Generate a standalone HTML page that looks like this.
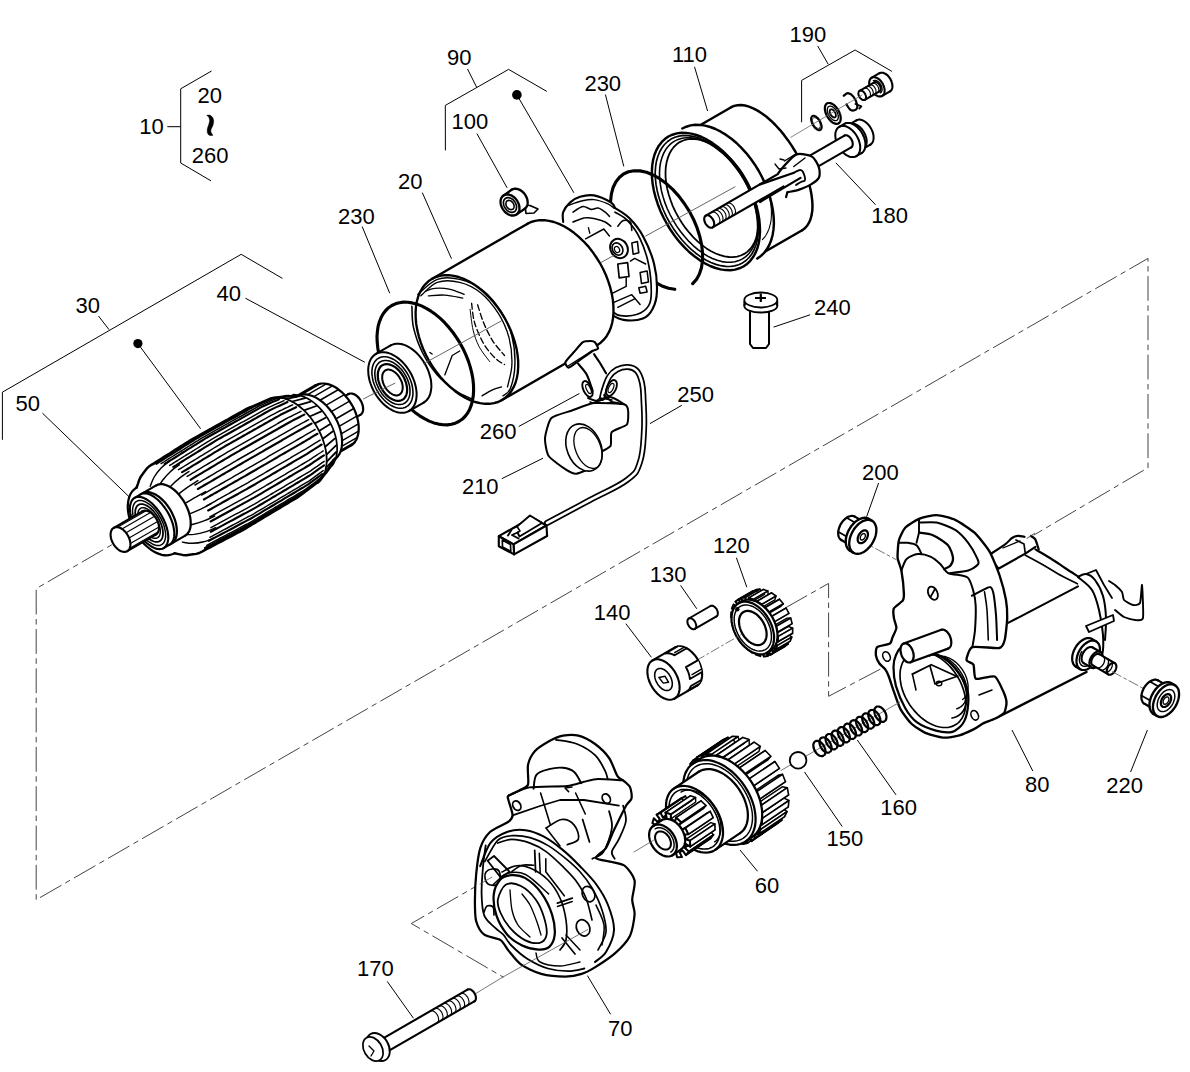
<!DOCTYPE html>
<html><head><meta charset="utf-8"><style>
html,body{margin:0;padding:0;background:#fff;width:1190px;height:1072px;overflow:hidden}
svg{position:absolute;left:0;top:0}
text{font-family:"Liberation Sans",sans-serif;font-size:22px;fill:#000}
</style></head><body>
<svg width="1190" height="1072" viewBox="0 0 1190 1072">
<rect width="1190" height="1072" fill="#fff"/>
<text x="139.2" y="133.7">10</text>
<text x="197.6" y="102.7">20</text>
<text x="191.8" y="163">260</text>
<text x="447" y="65.3">90</text>
<text x="451.6" y="129.1">100</text>
<text x="584.4" y="90.8">230</text>
<text x="789.6" y="41.7">190</text>
<text x="672" y="62.4">110</text>
<text x="871.3" y="223.4">180</text>
<text x="814" y="315.3">240</text>
<text x="677.2" y="401.8">250</text>
<text x="479.8" y="439.4">260</text>
<text x="461.9" y="494">210</text>
<text x="862" y="479.6">200</text>
<text x="713" y="552.5">120</text>
<text x="649.7" y="582">130</text>
<text x="593.7" y="619.7">140</text>
<text x="1024.9" y="792.2">80</text>
<text x="1106.2" y="792.9">220</text>
<text x="880.3" y="814.7">160</text>
<text x="826.5" y="846">150</text>
<text x="754.8" y="893.3">60</text>
<text x="357.1" y="976.4">170</text>
<text x="607.9" y="1035.5">70</text>
<text x="75.5" y="313.1">30</text>
<text x="15.5" y="410.7">50</text>
<text x="216.5" y="300.6">40</text>
<text x="398.1" y="188.7">20</text>
<text x="338" y="224">230</text>
<path d="M211.2,71.2 L180.7,88.8 L180.7,163 L210.6,180.6" stroke="#000" stroke-width="1" fill="none" stroke-linejoin="round" stroke-linecap="round" />
<line x1="167.3" y1="126.7" x2="180.7" y2="126.7" stroke="#000" stroke-width="1" />
<path d="M445.4,150 L445.3,105.4 L508.6,69.4 L546.5,91.2" stroke="#000" stroke-width="1" fill="none" stroke-linejoin="round" stroke-linecap="round" />
<line x1="467.5" y1="69" x2="476.8" y2="87.5" stroke="#000" stroke-width="1" />
<path d="M801.6,121.9 L801.6,80.4 L855.1,50 L891.6,71.2" stroke="#000" stroke-width="1" fill="none" stroke-linejoin="round" stroke-linecap="round" />
<line x1="817.7" y1="46" x2="828.2" y2="64.2" stroke="#000" stroke-width="1" />
<path d="M2.4,439.4 L2.4,392.2 L241.2,254.3 L282.1,278.2" stroke="#000" stroke-width="1" fill="none" stroke-linejoin="round" stroke-linecap="round" />
<line x1="98.5" y1="316" x2="109" y2="329.6" stroke="#000" stroke-width="1" />
<circle cx="137.9" cy="343.6" r="4.6" fill="#000"/>
<circle cx="516.9" cy="94.9" r="4.8" fill="#000"/>
<line x1="137.9" y1="343.6" x2="200.6" y2="428.7" stroke="#000" stroke-width="1" />
<line x1="516.9" y1="94.9" x2="573.9" y2="192.8" stroke="#000" stroke-width="1" />
<path d="M207.1,115.3 C207.2,115 209.4,115 210.2,115.3 C211,115.6 212.3,117 212.8,117.8 C213.3,118.6 213.7,120.2 213.7,121.3 C213.7,122.4 213.1,124.8 212.8,125.8 C212.5,126.8 211.5,128.1 211.2,128.9 C210.9,129.7 210.7,131.2 210.9,132.1 C211.1,133 213,134.9 212.8,135.3 C212.6,135.7 210,135.6 209.3,135.3 C208.6,135 207.7,133.6 207.4,132.7 C207.1,131.8 207.2,129.6 207.4,128.6 C207.6,127.6 208.3,126.2 208.6,125.1 C208.9,124 209.6,121.7 209.6,120.7 C209.6,119.7 209.3,118.2 208.9,117.5 C208.6,116.8 206.9,115.6 207.1,115.3 Z" stroke="#000" stroke-width="0.5" fill="#000" stroke-linejoin="round" stroke-linecap="round" />
<line x1="476.9" y1="133.6" x2="507.1" y2="187.8" stroke="#000" stroke-width="1" />
<line x1="605.4" y1="94.5" x2="623.8" y2="166.4" stroke="#000" stroke-width="1" />
<line x1="694.5" y1="66.8" x2="707.6" y2="111" stroke="#000" stroke-width="1" />
<line x1="875.6" y1="204.8" x2="835.9" y2="162.9" stroke="#000" stroke-width="1" />
<line x1="810.1" y1="314.8" x2="773.6" y2="327.1" stroke="#000" stroke-width="1" />
<line x1="681.8" y1="405.3" x2="650" y2="423.6" stroke="#000" stroke-width="1" />
<line x1="518.7" y1="426.5" x2="579.4" y2="393.5" stroke="#000" stroke-width="1" />
<line x1="501.8" y1="478.7" x2="543" y2="458.2" stroke="#000" stroke-width="1" />
<line x1="878.6" y1="483" x2="866.6" y2="516.8" stroke="#000" stroke-width="1" />
<line x1="736.4" y1="557.7" x2="746.8" y2="587.2" stroke="#000" stroke-width="1" />
<line x1="680.6" y1="585.4" x2="696.8" y2="608.8" stroke="#000" stroke-width="1" />
<line x1="1032.8" y1="771" x2="1012" y2="730" stroke="#000" stroke-width="1" />
<line x1="1130.6" y1="772" x2="1147.4" y2="730" stroke="#000" stroke-width="1" />
<line x1="896" y1="794.9" x2="857.3" y2="740" stroke="#000" stroke-width="1" />
<line x1="842.2" y1="826.5" x2="804.5" y2="772" stroke="#000" stroke-width="1" />
<line x1="757.5" y1="871.3" x2="740" y2="850" stroke="#000" stroke-width="1" />
<line x1="387.2" y1="981.4" x2="413.4" y2="1018.2" stroke="#000" stroke-width="1" />
<line x1="610.6" y1="1014.3" x2="587.4" y2="975.6" stroke="#000" stroke-width="1" />
<line x1="42.4" y1="413.1" x2="129" y2="496.7" stroke="#000" stroke-width="1" />
<line x1="245.4" y1="298.2" x2="364.9" y2="362.3" stroke="#000" stroke-width="1" />
<line x1="422.3" y1="192.6" x2="451.5" y2="258.7" stroke="#000" stroke-width="1" />
<line x1="362.2" y1="226.6" x2="389.7" y2="293.2" stroke="#000" stroke-width="1" />
<line x1="625.9" y1="623.7" x2="651.4" y2="657.3" stroke="#000" stroke-width="1" />
<path d="M120,540 L36.2,588.6 L36.2,899.8 L1148,258.4 L1148,467.7 L1034,535" stroke="#444" stroke-width="1.0" fill="none" stroke-linejoin="round" stroke-linecap="round" stroke-dasharray="24 5.3 4.7 5.3" stroke-dashoffset="19.5"/>
<path d="M785.9,607.6 L828.6,583.4 L828.6,696.3 L880,669.3" stroke="#444" stroke-width="1.0" fill="none" stroke-linejoin="round" stroke-linecap="round" stroke-dasharray="24 5.3 4.7 5.3" stroke-dashoffset="0"/>
<path d="M492,877.1 L411.3,923.5 L503,977" stroke="#444" stroke-width="1.0" fill="none" stroke-linejoin="round" stroke-linecap="round" stroke-dasharray="24 5.3 4.7 5.3" stroke-dashoffset="0"/>
<path d="M685.3,133.7 L682.6,135.7 L680.3,138.2 L678.4,141.2 L676.9,144.8 L675.9,148.9 L675.2,153.4 L675,158.3 L675.3,163.6 L675.9,169.1 L677,174.9 L678.6,181 L680.5,187.1 L682.8,193.3 L685.5,199.6 L688.5,205.8 L691.9,211.9 L695.5,217.9 L699.4,223.6 L703.4,229 L707.7,234.2 L712,238.9 L716.5,243.3 L721,247.1 L725.5,250.5 L729.9,253.3 L734.3,255.6 L738.5,257.3 L742.5,258.4 L746.4,258.9 L750,258.8 L753.3,258.1 L756.3,256.7 L802.2,230.2 L804.9,228.3 L807.1,225.8 L809,222.7 L810.5,219.2 L811.6,215.1 L812.3,210.6 L812.5,205.7 L812.2,200.4 L811.5,194.8 L810.4,189 L808.9,183 L807,176.8 L804.6,170.6 L802,164.4 L798.9,158.2 L795.6,152 L792,146.1 L788.1,140.4 L784,134.9 L779.8,129.8 L775.4,125 L771,120.7 L766.5,116.8 L762,113.5 L757.6,110.6 L753.2,108.3 L749,106.6 L745,105.5 L741.1,105 L737.5,105.2 L734.2,105.9 L731.2,107.2 Z" stroke="none" stroke-width="0.01" fill="#fff" stroke-linejoin="round" stroke-linecap="round" />
<path d="M756.3,256.7 L759,254.8 L761.2,252.3 L763.1,249.2 L764.6,245.7 L765.7,241.6 L766.4,237.1 L766.6,232.2 L766.3,226.9 L765.6,221.3 L764.5,215.5 L763,209.5 L761.1,203.3 L758.7,197.1 L756.1,190.9 L753,184.7 L749.7,178.5 L746.1,172.6 L742.2,166.9 L738.1,161.4 L733.9,156.3 L729.5,151.5 L725.1,147.2 L720.6,143.3 L716.1,140 L711.7,137.1 L707.3,134.8 L703.1,133.1 L699.1,132 L695.2,131.5 L691.6,131.7 L688.3,132.4 L685.3,133.7 L682.6,135.7 L680.3,138.2 L678.4,141.2 L676.9,144.8 L675.9,148.9 L675.2,153.4 L675,158.3 L675.3,163.6 L675.9,169.1 L677,174.9 L678.6,181 L680.5,187.1 L682.8,193.3 L685.5,199.6 L688.5,205.8 L691.9,211.9 L695.5,217.9 L699.4,223.6 L703.4,229 L707.7,234.2 L712,238.9 L716.5,243.3 L721,247.1 L725.5,250.5 L729.9,253.3 L734.3,255.6 L738.5,257.3 L742.5,258.4 L746.4,258.9 L750,258.8 L753.3,258.1 L756.3,256.7 Z" stroke="#000" stroke-width="2.4640000000000004" fill="none" stroke-linejoin="round" stroke-linecap="round" />
<path d="M802.2,230.2 L804.9,228.3 L807.1,225.8 L809,222.7 L810.5,219.2 L811.6,215.1 L812.3,210.6 L812.5,205.7 L812.2,200.4 L811.5,194.8 L810.4,189 L808.9,183 L807,176.8 L804.6,170.6 L802,164.4 L798.9,158.2 L795.6,152 L792,146.1 L788.1,140.4 L784,134.9 L779.8,129.8 L775.4,125 L771,120.7 L766.5,116.8 L762,113.5 L757.6,110.6 L753.2,108.3 L749,106.6 L745,105.5 L741.1,105 L737.5,105.2 L734.2,105.9 L731.2,107.2" stroke="#000" stroke-width="2.4640000000000004" fill="none" stroke-linejoin="round" stroke-linecap="round" />
<path d="M685.3,133.7 L731.2,107.2" stroke="#000" stroke-width="2.4640000000000004" fill="none" stroke-linejoin="round" stroke-linecap="round" />
<path d="M756.3,256.7 L802.2,230.2" stroke="#000" stroke-width="2.4640000000000004" fill="none" stroke-linejoin="round" stroke-linecap="round" />
<path d="M668.4,136.5 L664.8,139.1 L661.6,142.2 L658.7,145.9 L656.4,150.1 L654.5,154.8 L653.1,160 L652.2,165.6 L651.9,171.5 L652,177.7 L652.7,184.1 L653.9,190.7 L655.6,197.4 L657.8,204.2 L660.4,210.9 L663.5,217.5 L667,224 L670.8,230.3 L675,236.2 L679.5,241.9 L684.3,247.1 L689.2,252 L694.4,256.3 L699.6,260.1 L704.9,263.3 L710.2,266 L715.5,268 L720.6,269.4 L725.7,270.1 L730.5,270.2 L735.1,269.6 L739.4,268.3 L743.4,266.5 L757.3,258.5 L760.9,255.9 L764.2,252.8 L767,249.1 L769.3,244.9 L771.2,240.2 L772.6,235 L773.5,229.4 L773.9,223.5 L773.7,217.3 L773,210.9 L771.8,204.3 L770.1,197.6 L768,190.8 L765.3,184.1 L762.2,177.5 L758.8,171 L754.9,164.7 L750.7,158.8 L746.2,153.1 L741.4,147.9 L736.5,143 L731.4,138.7 L726.1,134.9 L720.8,131.7 L715.5,129 L710.3,127 L705.1,125.6 L700.1,124.9 L695.2,124.8 L690.6,125.4 L686.3,126.7 L682.3,128.5 Z" stroke="none" stroke-width="0.01" fill="#fff" stroke-linejoin="round" stroke-linecap="round" />
<path d="M743.4,266.5 L747.1,263.9 L750.3,260.8 L753.1,257.1 L755.5,252.9 L757.4,248.2 L758.8,243 L759.6,237.4 L760,231.5 L759.8,225.3 L759.2,218.9 L758,212.3 L756.3,205.6 L754.1,198.8 L751.5,192.1 L748.4,185.5 L744.9,179 L741,172.7 L736.8,166.8 L732.3,161.1 L727.6,155.9 L722.6,151 L717.5,146.7 L712.3,142.9 L707,139.7 L701.7,137 L696.4,135 L691.2,133.6 L686.2,132.9 L681.4,132.8 L676.8,133.4 L672.4,134.7 L668.4,136.5 L664.8,139.1 L661.6,142.2 L658.7,145.9 L656.4,150.1 L654.5,154.8 L653.1,160 L652.2,165.6 L651.9,171.5 L652,177.7 L652.7,184.1 L653.9,190.7 L655.6,197.4 L657.8,204.2 L660.4,210.9 L663.5,217.5 L667,224 L670.8,230.3 L675,236.2 L679.5,241.9 L684.3,247.1 L689.2,252 L694.4,256.3 L699.6,260.1 L704.9,263.3 L710.2,266 L715.5,268 L720.6,269.4 L725.7,270.1 L730.5,270.2 L735.1,269.6 L739.4,268.3 L743.4,266.5 Z" stroke="#000" stroke-width="2.4640000000000004" fill="none" stroke-linejoin="round" stroke-linecap="round" />
<path d="M757.3,258.5 L760.9,255.9 L764.2,252.8 L767,249.1 L769.3,244.9 L771.2,240.2 L772.6,235 L773.5,229.4 L773.9,223.5 L773.7,217.3 L773,210.9 L771.8,204.3 L770.1,197.6 L768,190.8 L765.3,184.1 L762.2,177.5 L758.8,171 L754.9,164.7 L750.7,158.8 L746.2,153.1 L741.4,147.9 L736.5,143 L731.4,138.7 L726.1,134.9 L720.8,131.7 L715.5,129 L710.3,127 L705.1,125.6 L700.1,124.9 L695.2,124.8 L690.6,125.4 L686.3,126.7 L682.3,128.5" stroke="#000" stroke-width="2.4640000000000004" fill="none" stroke-linejoin="round" stroke-linecap="round" />
<path d="M742.5,262.9 L746,260.5 L749.1,257.5 L751.8,254 L754,250 L755.8,245.5 L757.2,240.6 L758,235.3 L758.3,229.6 L758.2,223.7 L757.6,217.6 L756.4,211.3 L754.8,204.9 L752.7,198.4 L750.2,192 L747.3,185.7 L744,179.6 L740.3,173.6 L736.3,167.9 L732,162.5 L727.4,157.5 L722.7,152.9 L717.8,148.8 L712.8,145.1 L707.8,142 L702.7,139.5 L697.7,137.6 L692.8,136.3 L688,135.6 L683.4,135.5 L679,136.1 L674.9,137.3 L671,139.1 L667.6,141.5 L664.5,144.5 L661.8,148 L659.6,152 L657.8,156.5 L656.4,161.4 L655.6,166.7 L655.2,172.4 L655.4,178.3 L656,184.4 L657.2,190.7 L658.8,197.1 L660.9,203.6 L663.4,210 L666.3,216.3 L669.6,222.5 L673.3,228.4 L677.3,234.1 L681.6,239.5 L686.2,244.5 L690.9,249.1 L695.8,253.2 L700.8,256.9 L705.8,260 L710.9,262.5 L715.9,264.4 L720.8,265.7 L725.6,266.4 L730.2,266.5 L734.6,265.9 L738.7,264.7 L742.5,262.9 Z" stroke="#000" stroke-width="1.6800000000000002" fill="none" stroke-linejoin="round" stroke-linecap="round" />
<path d="M742.5,258.9 L745.8,256.6 L748.8,253.8 L751.3,250.4 L753.5,246.6 L755.2,242.3 L756.4,237.6 L757.2,232.6 L757.6,227.2 L757.4,221.6 L756.8,215.8 L755.7,209.8 L754.2,203.7 L752.2,197.6 L749.8,191.5 L747,185.5 L743.9,179.6 L740.4,173.9 L736.6,168.5 L732.5,163.4 L728.2,158.6 L723.7,154.2 L719,150.3 L714.3,146.9 L709.5,143.9 L704.7,141.5 L699.9,139.7 L695.2,138.4 L690.6,137.8 L686.3,137.7 L682.1,138.3 L678.2,139.4 L674.5,141.1 L671.2,143.4 L668.3,146.2 L665.7,149.6 L663.6,153.4 L661.9,157.7 L660.6,162.4 L659.8,167.4 L659.5,172.8 L659.6,178.4 L660.3,184.2 L661.3,190.2 L662.9,196.3 L664.8,202.4 L667.2,208.5 L670,214.5 L673.2,220.4 L676.7,226.1 L680.5,231.5 L684.6,236.6 L688.9,241.4 L693.4,245.8 L698,249.7 L702.8,253.1 L707.6,256.1 L712.4,258.5 L717.2,260.3 L721.9,261.6 L726.4,262.2 L730.8,262.3 L735,261.7 L738.9,260.6 L742.5,258.9 Z" stroke="#000" stroke-width="1.568" fill="none" stroke-linejoin="round" stroke-linecap="round" />
<path d="M744.2,253.9 L747.4,251.7 L750.2,249 L752.6,245.8 L754.6,242.2 L756.2,238.1 L757.4,233.7 L758.2,228.9 L758.5,223.8 L758.4,218.5 L757.8,212.9 L756.8,207.3 L755.3,201.5 L753.4,195.7 L751.2,189.9 L748.5,184.2 L745.5,178.7 L742.2,173.3 L738.6,168.1 L734.7,163.3 L730.6,158.7 L726.4,154.6 L721.9,150.9 L717.4,147.6 L712.9,144.8 L708.3,142.5 L703.8,140.8 L699.4,139.6 L695,139 L690.9,138.9 L686.9,139.4 L683.2,140.5 L679.7,142.1 L676.6,144.3 L673.8,147 L671.4,150.2 L669.4,153.8 L667.8,157.9 L666.6,162.3 L665.8,167.1 L665.5,172.2 L665.6,177.5 L666.2,183.1 L667.2,188.7 L668.7,194.5 L670.6,200.3 L672.8,206.1 L675.5,211.8 L678.5,217.4 L681.8,222.7 L685.4,227.9 L689.3,232.7 L693.4,237.3 L697.6,241.4 L702,245.1 L706.5,248.4 L711.1,251.2 L715.7,253.5 L720.2,255.2 L724.6,256.4 L729,257 L733.1,257.1 L737.1,256.6 L740.8,255.5 L744.2,253.9 Z" stroke="#000" stroke-width="1.7920000000000003" fill="none" stroke-linejoin="round" stroke-linecap="round" />
<path d="M762.4,239.6 L763.5,238.4 L764.6,237.1 L765.6,235.7 L766.5,234.3 L767.3,232.7 L768.1,231.1 L768.8,229.4 L769.4,227.6 L769.9,225.7 L770.4,223.8 L770.8,221.8 L771.1,219.8 L771.3,217.7 L771.4,215.5 L771.4,213.3 L771.4,211.1 L771.3,208.8 L771,206.4 L770.8,204.1 L770.4,201.7 L769.9,199.3 L769.4,196.9 L768.8,194.4 L768.1,192 L767.3,189.5 L766.5,187.1 L765.5,184.6 L764.6,182.2 L763.5,179.7 L762.4,177.3 L761.2,175 L759.9,172.6 L758.6,170.3 L757.2,168 L755.7,165.7 L754.2,163.5 L752.7,161.4 L751.1,159.3 L749.5,157.2 L747.8,155.2" stroke="#000" stroke-width="1.1" fill="none" stroke-linejoin="round" stroke-linecap="round" />
<path d="M692.7,283.6 L696.5,279.4 L699.4,274.1 L701.4,268 L702.5,261 L702.6,253.4 L701.7,245.2 L699.9,236.8 L697.2,228.2 L693.7,219.7 L689.4,211.4 L684.3,203.5 L678.8,196.1 L672.7,189.4 L666.3,183.6 L659.7,178.7 L653.1,175 L646.5,172.3 L640.1,170.9 L634.1,170.7 L628.5,171.8 L623.5,174 L619.3,177.5 L615.8,182 L613.1,187.5 L611.4,193.9 L610.6,201.1 L610.7,208.9 L611.8,217.1 L613.9,225.6 L616.8,234.2 L620.6,242.7 L625.1,250.9 L630.3,258.7 L636,265.9 L642.2,272.3 L648.7,277.9 L655.3,282.4 L661.9,285.9 L668.5,288.2 L674.8,289.3" stroke="#000" stroke-width="3.136" fill="none" stroke-linejoin="round" stroke-linecap="round" />
<path d="M559,222 C559.7,219.9 561.3,215.4 563.2,212.2 C565.1,208.9 567.4,205 570.2,202.4 C573,199.8 576,198 580,196.8 C583.9,195.6 588.8,194.5 594,195.4 C599.1,196.3 606.8,200.1 610.8,202.4 C614.7,204.7 614.7,206.8 617.8,209.4 C620.8,211.9 624.8,213.3 629,217.8 C633.2,222.2 638.8,228.3 642.9,236 C647.1,243.7 651.8,254.6 654.1,264 C656.5,273.3 657.2,284.5 656.9,291.9 C656.7,299.4 655.1,304.3 652.7,308.7 C650.4,313.2 647.8,316.7 642.9,318.5 C638.1,320.4 628.7,320.6 623.4,319.9 C618,319.2 614,319 610.8,314.3 C607.5,309.7 607.7,302.7 603.8,291.9 C599.8,281.2 594.4,261.2 587,250 C579.5,238.8 563.7,229.4 559,224.8 C554.3,220.1 558.3,224.1 559,222 Z" stroke="none" stroke-width="0.01" fill="#fff" stroke-linejoin="round" stroke-linecap="round" />
<path d="M563.2,222 C563.2,220.3 562,215.4 563.2,212.2 C564.4,208.9 567.4,205 570.2,202.4 C573,199.8 576,198 580,196.8 C583.9,195.6 588.8,194.5 594,195.4 C599.1,196.3 607.3,200.3 610.8,202.4 C614.3,204.5 614.3,207.1 615,208" stroke="#000" stroke-width="2.128" fill="none" stroke-linejoin="round" stroke-linecap="round" />
<path d="M615,208 C617.3,209.6 624.3,213.1 629,217.8 C633.6,222.4 638.8,228.3 642.9,236 C647.1,243.7 651.8,254.6 654.1,264 C656.5,273.3 657.2,284.5 656.9,291.9 C656.7,299.4 655.1,304.3 652.7,308.7 C650.4,313.2 647.8,316.7 642.9,318.5 C638.1,320.4 628.7,320.6 623.4,319.9 C618,319.2 612.9,315.3 610.8,314.3" stroke="#000" stroke-width="2.128" fill="none" stroke-linejoin="round" stroke-linecap="round" />
<path d="M568.8,205.2 C570.9,204.5 577.2,201.9 581.4,201 C585.6,200.1 589.5,199.1 594,199.6 C598.4,200.1 604.7,202.4 608,203.8 C611.2,205.2 612.6,207.3 613.6,208" stroke="#000" stroke-width="1.4560000000000002" fill="none" stroke-linejoin="round" stroke-linecap="round" />
<path d="M615,212.2 C617.1,213.6 623.4,216.1 627.6,220.6 C631.8,225 636.7,231.5 640.1,238.8 C643.6,246 646.7,255.1 648.5,264 C650.4,272.8 651.3,284.9 651.3,291.9 C651.3,298.9 650.9,302.2 648.5,305.9 C646.2,309.7 642,312.7 637.4,314.3 C632.7,316 624.8,316.2 620.6,315.7 C616.4,315.3 613.6,312.2 612.2,311.5" stroke="#000" stroke-width="1.6800000000000002" fill="none" stroke-linejoin="round" stroke-linecap="round" />
<path d="M573,212.2 C574.6,211.2 579.7,207.1 582.8,206.6 C585.8,206.1 588.6,209.2 591.2,209.4 C593.7,209.6 595.8,207.5 598.2,208 C600.5,208.5 603.3,210.8 605.2,212.2 C607,213.6 608.7,215.7 609.4,216.4" stroke="#000" stroke-width="1.568" fill="none" stroke-linejoin="round" stroke-linecap="round" />
<path d="M573,222 C575.1,221.3 581.6,218.2 585.6,217.8 C589.5,217.3 593.5,218.5 596.8,219.2 C600,219.9 602.8,220.8 605.2,222 C607.5,223.1 609.8,225.5 610.8,226.2" stroke="#000" stroke-width="1.568" fill="none" stroke-linejoin="round" stroke-linecap="round" />
<path d="M585.6,238.8 L603.8,229 L609.4,236" stroke="#000" stroke-width="1.4560000000000002" fill="none" stroke-linejoin="round" stroke-linecap="round" />
<path d="M588.4,227.6 L589.8,233.2" stroke="#000" stroke-width="1.344" fill="none" stroke-linejoin="round" stroke-linecap="round" />
<ellipse cx="619" cy="248.5" rx="8.5" ry="10" transform="rotate(-30 619 248.5)" fill="#fff" stroke="#000" stroke-width="2"/>
<ellipse cx="617.5" cy="249" rx="5" ry="6.5" transform="rotate(-30 617.5 249)" fill="none" stroke="#000" stroke-width="1.6"/>
<ellipse cx="617" cy="249.5" rx="2.4" ry="3.2" transform="rotate(-30 617 249.5)" fill="none" stroke="#000" stroke-width="1.2"/>
<path d="M617.8,226.2 C618.7,225.2 621.3,221.3 623.4,220.6 C625.5,219.9 629,220.3 630.4,222 C631.8,223.6 631.5,229 631.8,230.4" stroke="#000" stroke-width="1.568" fill="none" stroke-linejoin="round" stroke-linecap="round" />
<path d="M617.8,264 L627.6,262.6 L629,276.5 L619.2,277.9 Z" stroke="#000" stroke-width="1.6800000000000002" fill="none" stroke-linejoin="round" stroke-linecap="round" />
<path d="M631.8,243 L637.4,241.6 L638.8,252.8 L633.2,254.2 Z" stroke="#000" stroke-width="1.568" fill="none" stroke-linejoin="round" stroke-linecap="round" />
<path d="M640.1,272.4 L647.1,271 L648.5,282.1 L641.5,283.5 Z" stroke="#000" stroke-width="1.568" fill="none" stroke-linejoin="round" stroke-linecap="round" />
<path d="M638.8,287.7 L645.7,286.3 L647.1,291.9 L640.1,293.3 Z" stroke="#000" stroke-width="1.568" fill="none" stroke-linejoin="round" stroke-linecap="round" />
<path d="M626.2,277.9 L626.2,286.3 L612.2,293.3" stroke="#000" stroke-width="1.4560000000000002" fill="none" stroke-linejoin="round" stroke-linecap="round" />
<path d="M612.2,303.1 L631.8,294.7 L640.1,304.5" stroke="#000" stroke-width="1.4560000000000002" fill="none" stroke-linejoin="round" stroke-linecap="round" />
<path d="M617.8,307.3 L634.6,298.9" stroke="#000" stroke-width="1.4560000000000002" fill="none" stroke-linejoin="round" stroke-linecap="round" />
<path d="M630.4,261.2 L634.6,258.4 L645.7,264" stroke="#000" stroke-width="1.4560000000000002" fill="none" stroke-linejoin="round" stroke-linecap="round" />
<path d="M431.9,278.9 L428.4,281.3 L425.3,284.3 L422.5,287.8 L420.2,291.8 L418.3,296.3 L416.9,301.2 L416,306.4 L415.6,312 L415.7,317.8 L416.2,323.9 L417.3,330.1 L418.8,336.3 L420.8,342.7 L423.2,349 L426.1,355.2 L429.3,361.2 L432.9,367 L436.9,372.6 L441.1,377.9 L445.6,382.7 L450.3,387.2 L455.1,391.2 L460.1,394.7 L465.1,397.7 L470.1,400.1 L475.1,402 L480.1,403.2 L484.9,403.8 L489.5,403.8 L493.9,403.2 L498.1,402 L501.9,400.1 L597.2,345.1 L600.7,342.7 L603.8,339.7 L606.6,336.2 L608.9,332.2 L610.8,327.7 L612.2,322.8 L613.1,317.6 L613.5,312 L613.4,306.2 L612.9,300.1 L611.8,293.9 L610.3,287.7 L608.3,281.3 L605.9,275 L603,268.8 L599.8,262.8 L596.1,257 L592.2,251.4 L588,246.1 L583.5,241.3 L578.8,236.8 L574,232.8 L569,229.3 L564,226.3 L559,223.9 L554,222 L549,220.8 L544.2,220.2 L539.6,220.2 L535.2,220.8 L531,222 L527.2,223.9 Z" stroke="none" stroke-width="0.01" fill="#fff" stroke-linejoin="round" stroke-linecap="round" />
<path d="M501.9,400.1 L505.4,397.7 L508.6,394.7 L511.3,391.2 L513.6,387.2 L515.5,382.7 L516.9,377.8 L517.8,372.6 L518.2,367 L518.2,361.2 L517.6,355.1 L516.6,348.9 L515,342.7 L513,336.3 L510.6,330 L507.7,323.8 L504.5,317.8 L500.9,312 L496.9,306.4 L492.7,301.1 L488.2,296.3 L483.6,291.8 L478.7,287.8 L473.8,284.3 L468.7,281.3 L463.7,278.9 L458.7,277 L453.8,275.8 L449,275.2 L444.3,275.2 L439.9,275.8 L435.8,277 L431.9,278.9 L428.4,281.3 L425.3,284.3 L422.5,287.8 L420.2,291.8 L418.3,296.3 L416.9,301.2 L416,306.4 L415.6,312 L415.7,317.8 L416.2,323.9 L417.3,330.1 L418.8,336.3 L420.8,342.7 L423.2,349 L426.1,355.2 L429.3,361.2 L432.9,367 L436.9,372.6 L441.1,377.9 L445.6,382.7 L450.3,387.2 L455.1,391.2 L460.1,394.7 L465.1,397.7 L470.1,400.1 L475.1,402 L480.1,403.2 L484.9,403.8 L489.5,403.8 L493.9,403.2 L498.1,402 L501.9,400.1 Z" stroke="#000" stroke-width="2.3520000000000003" fill="none" stroke-linejoin="round" stroke-linecap="round" />
<path d="M597.2,345.1 L600.7,342.7 L603.8,339.7 L606.6,336.2 L608.9,332.2 L610.8,327.7 L612.2,322.8 L613.1,317.6 L613.5,312 L613.4,306.2 L612.9,300.1 L611.8,293.9 L610.3,287.7 L608.3,281.3 L605.9,275 L603,268.8 L599.8,262.8 L596.1,257 L592.2,251.4 L588,246.1 L583.5,241.3 L578.8,236.8 L574,232.8 L569,229.3 L564,226.3 L559,223.9 L554,222 L549,220.8 L544.2,220.2 L539.6,220.2 L535.2,220.8 L531,222 L527.2,223.9" stroke="#000" stroke-width="2.3520000000000003" fill="none" stroke-linejoin="round" stroke-linecap="round" />
<path d="M431.9,278.9 L527.2,223.9" stroke="#000" stroke-width="2.3520000000000003" fill="none" stroke-linejoin="round" stroke-linecap="round" />
<path d="M501.9,400.1 L597.2,345.1" stroke="#000" stroke-width="2.3520000000000003" fill="none" stroke-linejoin="round" stroke-linecap="round" />
<path d="M411.9,306.3 C412.2,309.8 411.7,319.5 413.4,327.2 C415.2,334.9 418.4,344.6 422.4,352.5 C426.4,360.5 431.6,368.5 437.3,374.9 C443,381.4 451,387.4 456.7,391.3 C462.4,395.3 469.2,397.6 471.6,398.8" stroke="#000" stroke-width="1.568" fill="none" stroke-linejoin="round" stroke-linecap="round" />
<path d="M417.9,294.3 C421.1,291.8 430.3,281.9 437.3,279.4 C444.3,276.9 452.2,277.7 459.7,279.4 C467.2,281.1 475.1,284.4 482.1,289.9 C489.1,295.3 496.5,304.5 501.5,312.2 C506.5,320 509.7,327.4 511.9,336.1 C514.2,344.8 515.2,355.8 514.9,364.5 C514.7,373.2 512.4,383.1 510.4,388.4 C508.5,393.6 504.2,394.6 503,395.8" stroke="#000" stroke-width="1.4560000000000002" fill="none" stroke-linejoin="round" stroke-linecap="round" />
<path d="M420.9,295.8 C423.6,293.6 430.8,284.6 437.3,282.4 C443.8,280.1 452.5,280.6 459.7,282.4 C466.9,284.1 474.1,287.6 480.6,292.8 C487.1,298.1 493.8,306.3 498.5,313.7 C503.2,321.2 506.7,329.2 509,337.6 C511.2,346.1 512.2,356.3 511.9,364.5 C511.7,372.7 508.2,383.1 507.5,386.9" stroke="#000" stroke-width="1.344" fill="none" stroke-linejoin="round" stroke-linecap="round" />
<path d="M425.4,291.3 C426.9,290.8 430.3,288.7 434.3,288.4 C438.3,288 444.3,288.1 449.3,289.1 C454.2,290.1 461.7,293.5 464.2,294.3" stroke="#000" stroke-width="1.344" fill="none" stroke-linejoin="round" stroke-linecap="round" />
<path d="M428.4,295.8 C431.1,295.7 439.1,294.7 444.8,295.1 C450.5,295.4 459.7,297.6 462.7,298.1" stroke="#000" stroke-width="1.344" fill="none" stroke-linejoin="round" stroke-linecap="round" />
<path d="M471.6,303.3 C472.1,306.5 472.6,316 474.6,322.7 C476.6,329.4 480.1,337.6 483.6,343.6 C487.1,349.6 492,355 495.5,358.5 C499,362 503,363.5 504.5,364.5" stroke="#000" stroke-width="1.344" fill="none" stroke-linejoin="round" stroke-linecap="round" stroke-dasharray="6 3"/>
<path d="M477.6,304.8 C478.6,307.8 481.1,316.7 483.6,322.7 C486.1,328.7 489.1,335.1 492.5,340.6 C496,346.1 502.5,353 504.5,355.5" stroke="#000" stroke-width="1.344" fill="none" stroke-linejoin="round" stroke-linecap="round" stroke-dasharray="6 3"/>
<path d="M470.1,309.3 C470.6,312.7 471.6,323.9 473.1,330.1 C474.6,336.4 476.4,341.3 479.1,346.6 C481.8,351.8 487.8,359 489.6,361.5" stroke="#000" stroke-width="1.0" fill="none" stroke-linejoin="round" stroke-linecap="round" />
<path d="M444.8,374.9 L452.2,355.5 L459.7,351" stroke="#000" stroke-width="1.344" fill="none" stroke-linejoin="round" stroke-linecap="round" />
<path d="M429.9,352.5 L432.1,354" stroke="#000" stroke-width="1.344" fill="none" stroke-linejoin="round" stroke-linecap="round" />
<path d="M482.1,395.8 C483.8,394.8 489.3,391.3 492.5,389.9 C495.8,388.4 500,387.4 501.5,386.9" stroke="#000" stroke-width="1.4560000000000002" fill="none" stroke-linejoin="round" stroke-linecap="round" />
<path d="M458.8,421.5 L462.1,419.3 L465,416.5 L467.5,413.2 L469.6,409.4 L471.3,405.2 L472.5,400.6 L473.3,395.6 L473.6,390.3 L473.5,384.8 L472.9,379 L471.8,373.1 L470.3,367.1 L468.4,361.1 L466,355.1 L463.3,349.2 L460.2,343.4 L456.7,337.8 L453,332.5 L448.9,327.4 L444.7,322.7 L440.3,318.4 L435.7,314.6 L431,311.2 L426.3,308.3 L421.5,305.9 L416.8,304.1 L412.2,302.9 L407.7,302.2 L403.4,302.1 L399.3,302.7 L395.4,303.8 L391.8,305.5 L388.6,307.7 L385.7,310.5 L383.2,313.8 L381.1,317.6 L379.4,321.8 L378.1,326.4 L377.4,331.4 L377,336.7 L377.2,342.2 L377.8,348 L378.8,353.9 L380.4,359.9 L382.3,365.9 L384.7,371.9 L387.4,377.8 L390.5,383.6 L394,389.2 L397.7,394.5 L401.8,399.6 L406,404.3 L410.4,408.6 L415,412.4 L419.7,415.8 L424.4,418.7 L429.2,421.1 L433.9,422.9 L438.5,424.1 L443,424.8 L447.3,424.9 L451.4,424.3 L455.3,423.2 L458.8,421.5 Z" stroke="#000" stroke-width="3.136" fill="none" stroke-linejoin="round" stroke-linecap="round" />
<path d="M375.9,353.9 L374.3,355.1 L372.8,356.5 L371.5,358.1 L370.4,360 L369.5,362.1 L368.9,364.4 L368.4,366.9 L368.2,369.5 L368.3,372.3 L368.5,375.1 L369,378.1 L369.7,381 L370.7,384 L371.8,387 L373.2,389.9 L374.7,392.7 L376.4,395.5 L378.3,398.1 L380.3,400.6 L382.4,402.9 L384.6,405 L386.9,406.9 L389.2,408.5 L391.6,409.9 L393.9,411.1 L396.3,411.9 L398.6,412.5 L400.9,412.8 L403.1,412.8 L405.2,412.5 L407.1,411.9 L408.9,411.1 L423.7,402.6 L425.3,401.4 L426.8,400 L428.1,398.4 L429.2,396.5 L430.1,394.4 L430.7,392.1 L431.1,389.6 L431.4,387 L431.3,384.2 L431.1,381.4 L430.6,378.4 L429.8,375.5 L428.9,372.5 L427.8,369.5 L426.4,366.6 L424.9,363.8 L423.2,361 L421.3,358.4 L419.3,355.9 L417.2,353.6 L415,351.5 L412.7,349.6 L410.4,348 L408,346.6 L405.6,345.4 L403.3,344.6 L401,344 L398.7,343.7 L396.5,343.7 L394.4,344 L392.5,344.6 L390.7,345.4 Z" stroke="none" stroke-width="0.01" fill="#fff" stroke-linejoin="round" stroke-linecap="round" />
<path d="M408.9,411.1 L410.6,409.9 L412.1,408.5 L413.4,406.9 L414.5,405 L415.3,402.9 L416,400.6 L416.4,398.1 L416.6,395.5 L416.6,392.7 L416.3,389.9 L415.8,386.9 L415.1,384 L414.2,381 L413,378 L411.7,375.1 L410.2,372.3 L408.4,369.5 L406.6,366.9 L404.6,364.4 L402.5,362.1 L400.3,360 L398,358.1 L395.7,356.5 L393.3,355.1 L390.9,353.9 L388.6,353.1 L386.2,352.5 L384,352.2 L381.8,352.2 L379.7,352.5 L377.7,353.1 L375.9,353.9 L374.3,355.1 L372.8,356.5 L371.5,358.1 L370.4,360 L369.5,362.1 L368.9,364.4 L368.4,366.9 L368.2,369.5 L368.3,372.3 L368.5,375.1 L369,378.1 L369.7,381 L370.7,384 L371.8,387 L373.2,389.9 L374.7,392.7 L376.4,395.5 L378.3,398.1 L380.3,400.6 L382.4,402.9 L384.6,405 L386.9,406.9 L389.2,408.5 L391.6,409.9 L393.9,411.1 L396.3,411.9 L398.6,412.5 L400.9,412.8 L403.1,412.8 L405.2,412.5 L407.1,411.9 L408.9,411.1 Z" stroke="#000" stroke-width="2.0160000000000005" fill="none" stroke-linejoin="round" stroke-linecap="round" />
<path d="M423.7,402.6 L425.3,401.4 L426.8,400 L428.1,398.4 L429.2,396.5 L430.1,394.4 L430.7,392.1 L431.1,389.6 L431.4,387 L431.3,384.2 L431.1,381.4 L430.6,378.4 L429.8,375.5 L428.9,372.5 L427.8,369.5 L426.4,366.6 L424.9,363.8 L423.2,361 L421.3,358.4 L419.3,355.9 L417.2,353.6 L415,351.5 L412.7,349.6 L410.4,348 L408,346.6 L405.6,345.4 L403.3,344.6 L401,344 L398.7,343.7 L396.5,343.7 L394.4,344 L392.5,344.6 L390.7,345.4" stroke="#000" stroke-width="2.0160000000000005" fill="none" stroke-linejoin="round" stroke-linecap="round" />
<path d="M375.9,353.9 L390.7,345.4" stroke="#000" stroke-width="2.0160000000000005" fill="none" stroke-linejoin="round" stroke-linecap="round" />
<path d="M408.9,411.1 L423.7,402.6" stroke="#000" stroke-width="2.0160000000000005" fill="none" stroke-linejoin="round" stroke-linecap="round" />
<path d="M406.4,406.7 L407.8,405.8 L409.1,404.6 L410.2,403.2 L411.1,401.6 L411.9,399.8 L412.4,397.8 L412.8,395.7 L413,393.5 L412.9,391.2 L412.7,388.8 L412.3,386.3 L411.7,383.8 L410.9,381.2 L409.9,378.7 L408.8,376.2 L407.5,373.8 L406,371.5 L404.4,369.3 L402.8,367.2 L401,365.2 L399.1,363.4 L397.2,361.8 L395.2,360.4 L393.2,359.2 L391.1,358.2 L389.1,357.5 L387.2,357 L385.3,356.8 L383.4,356.8 L381.6,357 L380,357.5 L378.4,358.3 L377,359.2 L375.8,360.4 L374.7,361.8 L373.7,363.4 L373,365.2 L372.4,367.2 L372.1,369.3 L371.9,371.5 L371.9,373.8 L372.2,376.2 L372.6,378.7 L373.2,381.2 L374,383.8 L375,386.3 L376.1,388.8 L377.4,391.2 L378.8,393.5 L380.4,395.7 L382.1,397.8 L383.9,399.8 L385.8,401.6 L387.7,403.2 L389.7,404.6 L391.7,405.8 L393.7,406.8 L395.7,407.5 L397.7,408 L399.6,408.2 L401.5,408.2 L403.2,408 L404.9,407.5 L406.4,406.7 Z" stroke="#000" stroke-width="1.568" fill="none" stroke-linejoin="round" stroke-linecap="round" />
<path d="M404.4,403.3 L405.6,402.5 L406.7,401.4 L407.7,400.2 L408.4,398.9 L409.1,397.3 L409.6,395.6 L409.9,393.8 L410,391.9 L410,389.9 L409.8,387.9 L409.5,385.7 L408.9,383.6 L408.2,381.4 L407.4,379.3 L406.4,377.1 L405.3,375.1 L404.1,373.1 L402.7,371.1 L401.3,369.3 L399.7,367.7 L398.1,366.1 L396.5,364.8 L394.8,363.6 L393.1,362.5 L391.3,361.7 L389.6,361.1 L387.9,360.7 L386.3,360.5 L384.7,360.5 L383.2,360.7 L381.8,361.1 L380.4,361.7 L379.2,362.5 L378.1,363.6 L377.2,364.8 L376.4,366.1 L375.8,367.7 L375.3,369.4 L375,371.2 L374.8,373.1 L374.9,375.1 L375.1,377.1 L375.4,379.3 L375.9,381.4 L376.6,383.6 L377.5,385.7 L378.4,387.9 L379.5,389.9 L380.8,391.9 L382.1,393.9 L383.6,395.7 L385.1,397.3 L386.7,398.9 L388.4,400.2 L390.1,401.4 L391.8,402.5 L393.5,403.3 L395.3,403.9 L396.9,404.3 L398.6,404.5 L400.2,404.5 L401.7,404.3 L403.1,403.9 L404.4,403.3 Z" stroke="#000" stroke-width="1.568" fill="none" stroke-linejoin="round" stroke-linecap="round" />
<path d="M402.4,399.8 L403.4,399.1 L404.3,398.3 L405.1,397.3 L405.8,396.1 L406.3,394.9 L406.7,393.5 L407,392 L407.1,390.4 L407.1,388.7 L406.9,387 L406.6,385.2 L406.2,383.4 L405.6,381.6 L404.9,379.8 L404.1,378 L403.2,376.3 L402.1,374.6 L401,373 L399.8,371.5 L398.5,370.1 L397.2,368.9 L395.8,367.7 L394.4,366.7 L393,365.9 L391.5,365.2 L390.1,364.7 L388.7,364.3 L387.3,364.1 L386,364.1 L384.7,364.3 L383.5,364.7 L382.4,365.2 L381.4,365.9 L380.5,366.7 L379.7,367.7 L379.1,368.9 L378.6,370.1 L378.2,371.5 L377.9,373 L377.8,374.6 L377.8,376.3 L377.9,378 L378.2,379.8 L378.7,381.6 L379.3,383.4 L379.9,385.2 L380.8,387 L381.7,388.7 L382.7,390.4 L383.9,392 L385.1,393.5 L386.3,394.9 L387.7,396.1 L389.1,397.3 L390.5,398.3 L391.9,399.1 L393.3,399.8 L394.8,400.3 L396.2,400.7 L397.6,400.9 L398.9,400.9 L400.1,400.7 L401.3,400.3 L402.4,399.8 Z" stroke="#000" stroke-width="2.24" fill="none" stroke-linejoin="round" stroke-linecap="round" />
<path d="M399.4,394.6 L400.1,394.1 L400.8,393.5 L401.3,392.8 L401.8,392 L402.1,391.1 L402.4,390.2 L402.6,389.1 L402.7,388 L402.7,386.8 L402.6,385.6 L402.4,384.4 L402.1,383.1 L401.7,381.9 L401.2,380.6 L400.6,379.4 L399.9,378.2 L399.2,377 L398.4,375.9 L397.6,374.8 L396.7,373.9 L395.8,373 L394.8,372.2 L393.8,371.5 L392.8,370.9 L391.8,370.4 L390.8,370 L389.8,369.8 L388.8,369.6 L387.9,369.6 L387,369.8 L386.2,370 L385.4,370.4 L384.7,370.9 L384.1,371.5 L383.6,372.2 L383.1,373 L382.7,373.9 L382.4,374.8 L382.3,375.9 L382.2,377 L382.2,378.2 L382.3,379.4 L382.5,380.6 L382.8,381.9 L383.2,383.1 L383.7,384.4 L384.3,385.6 L384.9,386.8 L385.6,388 L386.4,389.1 L387.3,390.2 L388.2,391.1 L389.1,392 L390.1,392.8 L391.1,393.5 L392.1,394.1 L393.1,394.6 L394.1,395 L395.1,395.2 L396,395.4 L396.9,395.4 L397.8,395.2 L398.7,395 L399.4,394.6 Z" stroke="#000" stroke-width="2.0160000000000005" fill="none" stroke-linejoin="round" stroke-linecap="round" />
<path d="M325.8,407.1 L325.2,407.5 L324.7,408 L324.2,408.6 L323.8,409.3 L323.5,410.1 L323.2,410.9 L323.1,411.8 L323,412.8 L323,413.8 L323.1,414.8 L323.3,415.9 L323.6,417 L323.9,418 L324.3,419.1 L324.8,420.2 L325.4,421.2 L326,422.2 L326.7,423.2 L327.4,424.1 L328.2,424.9 L329,425.7 L329.8,426.4 L330.6,427 L331.5,427.5 L332.4,427.9 L333.2,428.2 L334.1,428.4 L334.9,428.5 L335.7,428.5 L336.4,428.4 L337.1,428.2 L337.8,427.9 L360.3,414.9 L360.9,414.5 L361.5,414 L361.9,413.4 L362.3,412.7 L362.7,411.9 L362.9,411.1 L363.1,410.2 L363.1,409.2 L363.1,408.2 L363,407.2 L362.8,406.1 L362.6,405 L362.2,404 L361.8,402.9 L361.3,401.8 L360.8,400.8 L360.2,399.8 L359.5,398.8 L358.8,397.9 L358,397.1 L357.2,396.3 L356.4,395.6 L355.5,395 L354.6,394.5 L353.8,394.1 L352.9,393.8 L352.1,393.6 L351.2,393.5 L350.5,393.5 L349.7,393.6 L349,393.8 L348.3,394.1 Z" stroke="none" stroke-width="0.01" fill="#fff" stroke-linejoin="round" stroke-linecap="round" />
<path d="M337.8,427.9 L338.4,427.5 L339,427 L339.4,426.4 L339.8,425.7 L340.1,424.9 L340.4,424.1 L340.5,423.2 L340.6,422.2 L340.6,421.2 L340.5,420.2 L340.3,419.1 L340.1,418 L339.7,417 L339.3,415.9 L338.8,414.8 L338.3,413.8 L337.6,412.8 L337,411.8 L336.2,410.9 L335.5,410.1 L334.7,409.3 L333.8,408.6 L333,408 L332.1,407.5 L331.3,407.1 L330.4,406.8 L329.6,406.6 L328.7,406.5 L327.9,406.5 L327.2,406.6 L326.5,406.8 L325.8,407.1 L325.2,407.5 L324.7,408 L324.2,408.6 L323.8,409.3 L323.5,410.1 L323.2,410.9 L323.1,411.8 L323,412.8 L323,413.8 L323.1,414.8 L323.3,415.9 L323.6,417 L323.9,418 L324.3,419.1 L324.8,420.2 L325.4,421.2 L326,422.2 L326.7,423.2 L327.4,424.1 L328.2,424.9 L329,425.7 L329.8,426.4 L330.6,427 L331.5,427.5 L332.4,427.9 L333.2,428.2 L334.1,428.4 L334.9,428.5 L335.7,428.5 L336.4,428.4 L337.1,428.2 L337.8,427.9 Z" stroke="#000" stroke-width="2.24" fill="none" stroke-linejoin="round" stroke-linecap="round" />
<path d="M360.3,414.9 L360.9,414.5 L361.5,414 L361.9,413.4 L362.3,412.7 L362.7,411.9 L362.9,411.1 L363.1,410.2 L363.1,409.2 L363.1,408.2 L363,407.2 L362.8,406.1 L362.6,405 L362.2,404 L361.8,402.9 L361.3,401.8 L360.8,400.8 L360.2,399.8 L359.5,398.8 L358.8,397.9 L358,397.1 L357.2,396.3 L356.4,395.6 L355.5,395 L354.6,394.5 L353.8,394.1 L352.9,393.8 L352.1,393.6 L351.2,393.5 L350.5,393.5 L349.7,393.6 L349,393.8 L348.3,394.1" stroke="#000" stroke-width="2.24" fill="none" stroke-linejoin="round" stroke-linecap="round" />
<path d="M325.8,407.1 L348.3,394.1" stroke="#000" stroke-width="2.24" fill="none" stroke-linejoin="round" stroke-linecap="round" />
<path d="M337.8,427.9 L360.3,414.9" stroke="#000" stroke-width="2.24" fill="none" stroke-linejoin="round" stroke-linecap="round" />
<path d="M293,398.3 L291.3,399.5 L289.7,401 L288.3,402.8 L287.2,404.8 L286.2,407 L285.5,409.5 L285.1,412.1 L284.9,414.9 L284.9,417.8 L285.2,420.8 L285.7,423.9 L286.5,427.1 L287.5,430.2 L288.7,433.4 L290.1,436.5 L291.7,439.5 L293.5,442.4 L295.5,445.2 L297.6,447.8 L299.9,450.3 L302.2,452.5 L304.6,454.5 L307.1,456.3 L309.6,457.7 L312.1,458.9 L314.6,459.9 L317.1,460.5 L319.5,460.8 L321.8,460.8 L324,460.5 L326.1,459.9 L328,458.9 L350.5,445.9 L352.3,444.7 L353.9,443.2 L355.2,441.5 L356.4,439.5 L357.3,437.3 L358,434.8 L358.5,432.2 L358.7,429.4 L358.7,426.5 L358.4,423.5 L357.9,420.4 L357.1,417.2 L356.1,414 L354.9,410.9 L353.5,407.8 L351.8,404.8 L350,401.9 L348.1,399.1 L345.9,396.5 L343.7,394 L341.4,391.8 L338.9,389.8 L336.5,388 L334,386.5 L331.4,385.3 L328.9,384.4 L326.5,383.8 L324.1,383.5 L321.8,383.5 L319.5,383.8 L317.5,384.4 L315.5,385.3 Z" stroke="none" stroke-width="0.01" fill="#fff" stroke-linejoin="round" stroke-linecap="round" />
<path d="M328,458.9 L329.8,457.7 L331.4,456.2 L332.7,454.5 L333.9,452.5 L334.8,450.3 L335.5,447.8 L336,445.2 L336.2,442.4 L336.2,439.5 L335.9,436.5 L335.3,433.4 L334.6,430.2 L333.6,427 L332.4,423.9 L330.9,420.8 L329.3,417.8 L327.5,414.9 L325.5,412.1 L323.4,409.5 L321.2,407 L318.8,404.8 L316.4,402.8 L314,401 L311.4,399.5 L308.9,398.3 L306.4,397.4 L304,396.8 L301.5,396.5 L299.2,396.5 L297,396.8 L295,397.4 L293,398.3 L291.3,399.5 L289.7,401 L288.3,402.8 L287.2,404.8 L286.2,407 L285.5,409.5 L285.1,412.1 L284.9,414.9 L284.9,417.8 L285.2,420.8 L285.7,423.9 L286.5,427.1 L287.5,430.2 L288.7,433.4 L290.1,436.5 L291.7,439.5 L293.5,442.4 L295.5,445.2 L297.6,447.8 L299.9,450.3 L302.2,452.5 L304.6,454.5 L307.1,456.3 L309.6,457.7 L312.1,458.9 L314.6,459.9 L317.1,460.5 L319.5,460.8 L321.8,460.8 L324,460.5 L326.1,459.9 L328,458.9 Z" stroke="#000" stroke-width="2.24" fill="none" stroke-linejoin="round" stroke-linecap="round" />
<path d="M350.5,445.9 L352.3,444.7 L353.9,443.2 L355.2,441.5 L356.4,439.5 L357.3,437.3 L358,434.8 L358.5,432.2 L358.7,429.4 L358.7,426.5 L358.4,423.5 L357.9,420.4 L357.1,417.2 L356.1,414 L354.9,410.9 L353.5,407.8 L351.8,404.8 L350,401.9 L348.1,399.1 L345.9,396.5 L343.7,394 L341.4,391.8 L338.9,389.8 L336.5,388 L334,386.5 L331.4,385.3 L328.9,384.4 L326.5,383.8 L324.1,383.5 L321.8,383.5 L319.5,383.8 L317.5,384.4 L315.5,385.3" stroke="#000" stroke-width="2.24" fill="none" stroke-linejoin="round" stroke-linecap="round" />
<path d="M293,398.3 L315.5,385.3" stroke="#000" stroke-width="2.24" fill="none" stroke-linejoin="round" stroke-linecap="round" />
<path d="M328,458.9 L350.5,445.9" stroke="#000" stroke-width="2.24" fill="none" stroke-linejoin="round" stroke-linecap="round" />
<path d="M332.9,455 L354.5,442.5" stroke="#000" stroke-width="1.4560000000000002" fill="none" stroke-linejoin="round" stroke-linecap="round" />
<path d="M335.6,449.9 L357.3,437.4" stroke="#000" stroke-width="1.4560000000000002" fill="none" stroke-linejoin="round" stroke-linecap="round" />
<path d="M337,443.6 L358.6,431.1" stroke="#000" stroke-width="1.4560000000000002" fill="none" stroke-linejoin="round" stroke-linecap="round" />
<path d="M336.8,436.4 L358.4,423.9" stroke="#000" stroke-width="1.4560000000000002" fill="none" stroke-linejoin="round" stroke-linecap="round" />
<path d="M335.2,428.7 L356.8,416.2" stroke="#000" stroke-width="1.4560000000000002" fill="none" stroke-linejoin="round" stroke-linecap="round" />
<path d="M332.2,421 L353.8,408.5" stroke="#000" stroke-width="1.4560000000000002" fill="none" stroke-linejoin="round" stroke-linecap="round" />
<path d="M327.9,413.7 L349.6,401.2" stroke="#000" stroke-width="1.4560000000000002" fill="none" stroke-linejoin="round" stroke-linecap="round" />
<path d="M322.8,407.2 L344.4,394.7" stroke="#000" stroke-width="1.4560000000000002" fill="none" stroke-linejoin="round" stroke-linecap="round" />
<path d="M316.9,402 L338.6,389.5" stroke="#000" stroke-width="1.4560000000000002" fill="none" stroke-linejoin="round" stroke-linecap="round" />
<path d="M310.8,398.3 L332.4,385.8" stroke="#000" stroke-width="1.4560000000000002" fill="none" stroke-linejoin="round" stroke-linecap="round" />
<path d="M304.6,396.3 L326.3,383.8" stroke="#000" stroke-width="1.4560000000000002" fill="none" stroke-linejoin="round" stroke-linecap="round" />
<path d="M298.9,396.1 L320.5,383.6" stroke="#000" stroke-width="1.4560000000000002" fill="none" stroke-linejoin="round" stroke-linecap="round" />
<clipPath id="armclip"><path d="M136.6,487.5 L134.1,489.3 L132,491.6 L130.3,494.5 L129,497.8 L128.1,501.4 L127.8,505.4 L127.9,509.7 L128.5,514.1 L129.5,518.7 L131,523.2 L132.9,527.7 L135.2,532.1 L137.9,536.3 L140.9,540.3 L144.1,543.8 L147.5,547 L151,549.7 L154.6,552 L158.3,553.6 L161.9,554.8 L165.4,555.3 L168.7,555.2 L171.8,554.5 L174.6,553.3 L174.6,553.3 L178.6,554.1 L182.6,554.9 L186.4,555.2 L189.7,554.7 L192.9,554.3 L196.2,553.9 L199.3,553 L202,551.6 L204.7,550.1 L207.4,548.7 L210.1,547.3 L212.8,545.8 L215.6,544.4 L218.3,543 L221,541.6 L223.7,540.1 L226.4,538.7 L229.1,537.3 L231.9,535.9 L234.6,534.4 L237.3,533 L240,531.6 L242.7,530.1 L245.4,528.6 L248,527 L250.6,525.4 L253.2,523.8 L255.9,522.3 L258.5,520.7 L261.1,519.1 L263.8,517.5 L266.4,516 L269,514.4 L271.7,512.8 L274.3,511.2 L276.9,509.7 L279.6,508.1 L282.2,506.5 L284.8,504.9 L287.5,503.4 L290.1,501.8 L292.7,500.2 L295.4,498.6 L298,497.1 L300.5,495.2 L302.9,493.4 L305.4,491.5 L307.9,489.7 L310.4,487.8 L312.8,486 L315.3,484.1 L317.8,482.3 L319.9,479.9 L322.1,477.4 L324.2,474.9 L326.3,472.4 L328.3,469.8 L330,466.7 L331.8,463.5 L333.5,460.4 L333.5,460.4 L335.9,458.6 L338,456.3 L339.7,453.6 L340.9,450.4 L341.8,446.8 L342.1,442.9 L342,438.8 L341.4,434.5 L340.4,430 L339,425.6 L337.1,421.2 L334.9,416.9 L332.3,412.8 L329.4,409 L326.3,405.5 L322.9,402.4 L319.5,399.8 L316,397.6 L312.4,396 L308.9,394.9 L305.5,394.4 L302.3,394.4 L299.2,395.1 L296.5,396.3 L296.5,396.3 L292.9,396.3 L289.3,396.2 L285.8,396.1 L282.5,396.6 L279.3,397.1 L276.1,397.7 L272.9,398.3 L269.7,399 L266.9,400.2 L264,401.4 L261.2,402.7 L258.4,403.9 L255.5,405.1 L252.7,406.3 L249.8,407.5 L247,408.7 L244.3,410.2 L241.6,411.7 L239,413.2 L236.3,414.7 L233.6,416.2 L230.9,417.7 L228.2,419.2 L225.6,420.7 L222.9,422.2 L220.2,423.7 L217.5,425.1 L214.8,426.6 L212.2,428.1 L209.5,429.6 L206.8,431.1 L204.1,432.6 L201.4,434.1 L198.8,435.6 L196.1,437.1 L193.4,438.6 L190.7,440.1 L188.1,441.7 L185.5,443.3 L182.9,445 L180.3,446.6 L177.7,448.2 L175.1,449.9 L172.6,451.5 L170,453.2 L167.4,454.8 L164.8,456.4 L162.2,458.1 L159.6,459.7 L157,461.4 L154.4,463 L151.8,464.6 L149.2,466.3 L146.9,468.4 L144.9,471.1 L142.9,473.7 L140.9,476.4 L139.3,479.7 L138,483.6 L136.6,487.5 Z"/></clipPath>
<path d="M136.6,487.5 L134.1,489.3 L132,491.6 L130.3,494.5 L129,497.8 L128.1,501.4 L127.8,505.4 L127.9,509.7 L128.5,514.1 L129.5,518.7 L131,523.2 L132.9,527.7 L135.2,532.1 L137.9,536.3 L140.9,540.3 L144.1,543.8 L147.5,547 L151,549.7 L154.6,552 L158.3,553.6 L161.9,554.8 L165.4,555.3 L168.7,555.2 L171.8,554.5 L174.6,553.3 L174.6,553.3 L178.6,554.1 L182.6,554.9 L186.4,555.2 L189.7,554.7 L192.9,554.3 L196.2,553.9 L199.3,553 L202,551.6 L204.7,550.1 L207.4,548.7 L210.1,547.3 L212.8,545.8 L215.6,544.4 L218.3,543 L221,541.6 L223.7,540.1 L226.4,538.7 L229.1,537.3 L231.9,535.9 L234.6,534.4 L237.3,533 L240,531.6 L242.7,530.1 L245.4,528.6 L248,527 L250.6,525.4 L253.2,523.8 L255.9,522.3 L258.5,520.7 L261.1,519.1 L263.8,517.5 L266.4,516 L269,514.4 L271.7,512.8 L274.3,511.2 L276.9,509.7 L279.6,508.1 L282.2,506.5 L284.8,504.9 L287.5,503.4 L290.1,501.8 L292.7,500.2 L295.4,498.6 L298,497.1 L300.5,495.2 L302.9,493.4 L305.4,491.5 L307.9,489.7 L310.4,487.8 L312.8,486 L315.3,484.1 L317.8,482.3 L319.9,479.9 L322.1,477.4 L324.2,474.9 L326.3,472.4 L328.3,469.8 L330,466.7 L331.8,463.5 L333.5,460.4 L333.5,460.4 L335.9,458.6 L338,456.3 L339.7,453.6 L340.9,450.4 L341.8,446.8 L342.1,442.9 L342,438.8 L341.4,434.5 L340.4,430 L339,425.6 L337.1,421.2 L334.9,416.9 L332.3,412.8 L329.4,409 L326.3,405.5 L322.9,402.4 L319.5,399.8 L316,397.6 L312.4,396 L308.9,394.9 L305.5,394.4 L302.3,394.4 L299.2,395.1 L296.5,396.3 L296.5,396.3 L292.9,396.3 L289.3,396.2 L285.8,396.1 L282.5,396.6 L279.3,397.1 L276.1,397.7 L272.9,398.3 L269.7,399 L266.9,400.2 L264,401.4 L261.2,402.7 L258.4,403.9 L255.5,405.1 L252.7,406.3 L249.8,407.5 L247,408.7 L244.3,410.2 L241.6,411.7 L239,413.2 L236.3,414.7 L233.6,416.2 L230.9,417.7 L228.2,419.2 L225.6,420.7 L222.9,422.2 L220.2,423.7 L217.5,425.1 L214.8,426.6 L212.2,428.1 L209.5,429.6 L206.8,431.1 L204.1,432.6 L201.4,434.1 L198.8,435.6 L196.1,437.1 L193.4,438.6 L190.7,440.1 L188.1,441.7 L185.5,443.3 L182.9,445 L180.3,446.6 L177.7,448.2 L175.1,449.9 L172.6,451.5 L170,453.2 L167.4,454.8 L164.8,456.4 L162.2,458.1 L159.6,459.7 L157,461.4 L154.4,463 L151.8,464.6 L149.2,466.3 L146.9,468.4 L144.9,471.1 L142.9,473.7 L140.9,476.4 L139.3,479.7 L138,483.6 L136.6,487.5 Z" stroke="none" stroke-width="0.01" fill="#fff" stroke-linejoin="round" stroke-linecap="round" />
<g clip-path="url(#armclip)">
<path d="M205,548 L207.7,546.6 L210.4,545.1 L213.2,543.7 L215.9,542.3 L218.6,540.8 L221.4,539.4 L224.1,537.9 L226.8,536.5 L229.5,535.1 L232.3,533.6 L235,532.2 L237.7,530.7 L240.5,529.3 L243.2,527.9 L245.9,526.4 L248.6,525 L251.3,523.4 L253.9,521.8 L256.5,520.3 L259.2,518.7 L261.8,517.1 L264.4,515.5 L267,514 L269.7,512.4 L272.3,510.8 L274.9,509.3 L277.5,507.7 L280.2,506.1 L282.8,504.6 L285.4,503 L288,501.4 L290.7,499.8 L293.3,498.3 L295.9,496.7 L298.6,495.1 L301.2,493.6 L303.8,492 L306.2,490.2 L308.7,488.4 L311.1,486.6 L313.5,484.7 L316,482.9 L318.4,481.1" stroke="#000" stroke-width="2.128" fill="none" stroke-linejoin="round" stroke-linecap="round" />
<path d="M206.8,545.3 L209.6,543.8 L212.3,542.4 L215,540.9 L217.8,539.5 L220.5,538 L223.2,536.6 L226,535.2 L228.7,533.7 L231.4,532.3 L234.2,530.8 L236.9,529.4 L239.6,527.9 L242.4,526.5 L245.1,525 L247.9,523.6 L250.6,522.1 L253.2,520.6 L255.8,519 L258.4,517.4 L261.1,515.9 L263.7,514.3 L266.3,512.7 L268.9,511.2 L271.6,509.6 L274.2,508 L276.8,506.5 L279.4,504.9 L282.1,503.3 L284.7,501.8 L287.3,500.2 L289.9,498.6 L292.6,497.1 L295.2,495.5 L297.8,493.9 L300.4,492.4 L303.1,490.8 L305.7,489.2 L308.1,487.4 L310.5,485.6 L313,483.8 L315.4,482 L317.8,480.2 L320.2,478.4" stroke="#000" stroke-width="1.4560000000000002" fill="none" stroke-linejoin="round" stroke-linecap="round" />
<path d="M208.9,540.8 L211.6,539.4 L214.4,537.9 L217.1,536.4 L219.8,535 L222.6,533.5 L225.3,532.1 L228.1,530.6 L230.8,529.2 L233.6,527.7 L236.3,526.2 L239,524.8 L241.8,523.3 L244.5,521.9 L247.3,520.4 L250,519 L252.7,517.5 L255.3,515.9 L258,514.4 L260.6,512.8 L263.2,511.2 L265.8,509.7 L268.5,508.1 L271.1,506.5 L273.7,505 L276.3,503.4 L278.9,501.9 L281.6,500.3 L284.2,498.7 L286.8,497.2 L289.4,495.6 L292.1,494 L294.7,492.5 L297.3,490.9 L299.9,489.3 L302.6,487.8 L305.2,486.2 L307.8,484.7 L310.2,482.9 L312.6,481.1 L315,479.4 L317.4,477.6 L319.8,475.9 L322.2,474.1" stroke="#000" stroke-width="2.128" fill="none" stroke-linejoin="round" stroke-linecap="round" />
<path d="M209.9,537.3 L212.7,535.8 L215.4,534.3 L218.2,532.9 L220.9,531.4 L223.6,529.9 L226.4,528.5 L229.1,527 L231.9,525.5 L234.6,524.1 L237.4,522.6 L240.1,521.1 L242.8,519.7 L245.6,518.2 L248.3,516.7 L251.1,515.3 L253.8,513.8 L256.4,512.2 L259,510.7 L261.7,509.1 L264.3,507.6 L266.9,506 L269.5,504.4 L272.2,502.9 L274.8,501.3 L277.4,499.8 L280,498.2 L282.6,496.6 L285.3,495.1 L287.9,493.5 L290.5,492 L293.1,490.4 L295.8,488.9 L298.4,487.3 L301,485.7 L303.6,484.2 L306.2,482.6 L308.9,481.1 L311.3,479.3 L313.7,477.6 L316,475.8 L318.4,474.1 L320.8,472.4 L323.2,470.6" stroke="#000" stroke-width="1.4560000000000002" fill="none" stroke-linejoin="round" stroke-linecap="round" />
<path d="M210.8,531.8 L213.5,530.3 L216.3,528.8 L219,527.4 L221.8,525.9 L224.5,524.4 L227.3,522.9 L230,521.4 L232.8,520 L235.5,518.5 L238.2,517 L241,515.5 L243.7,514 L246.5,512.6 L249.2,511.1 L252,509.6 L254.7,508.1 L257.3,506.6 L259.9,505 L262.6,503.5 L265.2,501.9 L267.8,500.3 L270.4,498.8 L273,497.2 L275.7,495.7 L278.3,494.1 L280.9,492.6 L283.5,491 L286.2,489.5 L288.8,487.9 L291.4,486.4 L294,484.8 L296.6,483.2 L299.3,481.7 L301.9,480.1 L304.5,478.6 L307.1,477 L309.7,475.5 L312.1,473.8 L314.5,472.1 L316.9,470.4 L319.3,468.7 L321.7,467 L324.1,465.3" stroke="#000" stroke-width="2.128" fill="none" stroke-linejoin="round" stroke-linecap="round" />
<path d="M211,527.7 L213.7,526.2 L216.5,524.7 L219.2,523.2 L221.9,521.7 L224.7,520.2 L227.4,518.7 L230.2,517.2 L232.9,515.7 L235.7,514.2 L238.4,512.8 L241.2,511.3 L243.9,509.8 L246.7,508.3 L249.4,506.8 L252.1,505.3 L254.9,503.8 L257.5,502.3 L260.1,500.7 L262.7,499.2 L265.4,497.6 L268,496.1 L270.6,494.5 L273.2,493 L275.8,491.4 L278.5,489.9 L281.1,488.3 L283.7,486.8 L286.3,485.2 L288.9,483.7 L291.6,482.1 L294.2,480.6 L296.8,479 L299.4,477.5 L302.1,475.9 L304.7,474.4 L307.3,472.8 L309.9,471.3 L312.3,469.6 L314.7,467.9 L317.1,466.3 L319.5,464.6 L321.8,462.9 L324.2,461.3" stroke="#000" stroke-width="1.4560000000000002" fill="none" stroke-linejoin="round" stroke-linecap="round" />
<path d="M210.6,521.5 L213.3,520 L216.1,518.5 L218.8,517 L221.5,515.5 L224.3,514 L227,512.5 L229.8,511 L232.5,509.5 L235.3,507.9 L238,506.4 L240.8,504.9 L243.5,503.4 L246.3,501.9 L249,500.4 L251.7,498.9 L254.5,497.4 L257.1,495.9 L259.7,494.3 L262.3,492.8 L265,491.2 L267.6,489.7 L270.2,488.1 L272.8,486.6 L275.4,485.1 L278.1,483.5 L280.7,482 L283.3,480.4 L285.9,478.9 L288.5,477.3 L291.2,475.8 L293.8,474.2 L296.4,472.7 L299,471.2 L301.7,469.6 L304.3,468.1 L306.9,466.5 L309.5,465 L311.9,463.4 L314.3,461.7 L316.7,460.1 L319.1,458.5 L321.5,456.9 L323.9,455.3" stroke="#000" stroke-width="2.128" fill="none" stroke-linejoin="round" stroke-linecap="round" />
<path d="M209.9,517 L212.6,515.5 L215.3,514 L218.1,512.4 L220.8,510.9 L223.6,509.4 L226.3,507.9 L229.1,506.4 L231.8,504.9 L234.5,503.3 L237.3,501.8 L240,500.3 L242.8,498.8 L245.5,497.3 L248.3,495.8 L251,494.3 L253.7,492.7 L256.3,491.2 L259,489.7 L261.6,488.1 L264.2,486.6 L266.8,485 L269.5,483.5 L272.1,482 L274.7,480.4 L277.3,478.9 L279.9,477.3 L282.6,475.8 L285.2,474.3 L287.8,472.7 L290.4,471.2 L293.1,469.6 L295.7,468.1 L298.3,466.6 L300.9,465 L303.5,463.5 L306.2,461.9 L308.8,460.4 L311.2,458.8 L313.6,457.2 L316,455.6 L318.4,454 L320.8,452.5 L323.2,450.9" stroke="#000" stroke-width="1.4560000000000002" fill="none" stroke-linejoin="round" stroke-linecap="round" />
<path d="M208.2,510.5 L211,509 L213.7,507.4 L216.5,505.9 L219.2,504.4 L221.9,502.8 L224.7,501.3 L227.4,499.8 L230.2,498.2 L232.9,496.7 L235.6,495.2 L238.4,493.7 L241.1,492.1 L243.8,490.6 L246.6,489.1 L249.3,487.5 L252,486 L254.7,484.5 L257.3,482.9 L259.9,481.4 L262.5,479.9 L265.2,478.3 L267.8,476.8 L270.4,475.3 L273,473.7 L275.7,472.2 L278.3,470.7 L280.9,469.1 L283.5,467.6 L286.2,466.1 L288.8,464.5 L291.4,463 L294,461.4 L296.6,459.9 L299.3,458.4 L301.9,456.8 L304.5,455.3 L307.1,453.8 L309.6,452.2 L312,450.7 L314.4,449.2 L316.8,447.6 L319.2,446.1 L321.6,444.5" stroke="#000" stroke-width="2.128" fill="none" stroke-linejoin="round" stroke-linecap="round" />
<path d="M206.7,505.9 L209.4,504.4 L212.2,502.8 L214.9,501.3 L217.6,499.7 L220.4,498.2 L223.1,496.6 L225.8,495.1 L228.6,493.6 L231.3,492 L234,490.5 L236.8,488.9 L239.5,487.4 L242.2,485.8 L245,484.3 L247.7,482.8 L250.4,481.2 L253.1,479.7 L255.7,478.2 L258.3,476.6 L260.9,475.1 L263.6,473.6 L266.2,472 L268.8,470.5 L271.4,469 L274.1,467.4 L276.7,465.9 L279.3,464.4 L281.9,462.9 L284.6,461.3 L287.2,459.8 L289.8,458.3 L292.4,456.7 L295.1,455.2 L297.7,453.7 L300.3,452.2 L302.9,450.6 L305.6,449.1 L308,447.6 L310.4,446.1 L312.8,444.6 L315.2,443.1 L317.7,441.6 L320.1,440.1" stroke="#000" stroke-width="1.4560000000000002" fill="none" stroke-linejoin="round" stroke-linecap="round" />
<path d="M203.9,499.5 L206.7,497.9 L209.4,496.3 L212.1,494.8 L214.8,493.2 L217.6,491.7 L220.3,490.1 L223,488.5 L225.8,487 L228.5,485.4 L231.2,483.9 L233.9,482.3 L236.7,480.8 L239.4,479.2 L242.1,477.6 L244.9,476.1 L247.6,474.5 L250.2,473 L252.8,471.5 L255.5,470 L258.1,468.4 L260.7,466.9 L263.3,465.4 L266,463.9 L268.6,462.3 L271.2,460.8 L273.8,459.3 L276.5,457.8 L279.1,456.2 L281.7,454.7 L284.4,453.2 L287,451.7 L289.6,450.1 L292.2,448.6 L294.9,447.1 L297.5,445.6 L300.1,444.1 L302.8,442.5 L305.2,441.1 L307.6,439.6 L310.1,438.2 L312.5,436.7 L314.9,435.2 L317.4,433.8" stroke="#000" stroke-width="2.128" fill="none" stroke-linejoin="round" stroke-linecap="round" />
<path d="M201.6,495 L204.3,493.5 L207.1,491.9 L209.8,490.3 L212.5,488.7 L215.2,487.2 L218,485.6 L220.7,484 L223.4,482.5 L226.1,480.9 L228.9,479.3 L231.6,477.8 L234.3,476.2 L237,474.6 L239.7,473.1 L242.5,471.5 L245.2,469.9 L247.8,468.4 L250.4,466.9 L253.1,465.4 L255.7,463.8 L258.3,462.3 L261,460.8 L263.6,459.3 L266.2,457.8 L268.8,456.2 L271.5,454.7 L274.1,453.2 L276.7,451.7 L279.4,450.2 L282,448.6 L284.6,447.1 L287.3,445.6 L289.9,444.1 L292.5,442.6 L295.1,441.1 L297.8,439.5 L300.4,438 L302.9,436.6 L305.3,435.2 L307.8,433.7 L310.2,432.3 L312.7,430.9 L315.1,429.5" stroke="#000" stroke-width="1.4560000000000002" fill="none" stroke-linejoin="round" stroke-linecap="round" />
<path d="M197.9,489 L200.6,487.4 L203.3,485.8 L206,484.3 L208.8,482.7 L211.5,481.1 L214.2,479.5 L216.9,477.9 L219.6,476.3 L222.3,474.7 L225,473.2 L227.7,471.6 L230.5,470 L233.2,468.4 L235.9,466.8 L238.6,465.2 L241.3,463.7 L243.9,462.2 L246.6,460.6 L249.2,459.1 L251.8,457.6 L254.5,456.1 L257.1,454.6 L259.7,453.1 L262.4,451.6 L265,450 L267.6,448.5 L270.3,447 L272.9,445.5 L275.5,444 L278.2,442.5 L280.8,441 L283.4,439.4 L286.1,437.9 L288.7,436.4 L291.3,434.9 L294,433.4 L296.6,431.9 L299.1,430.5 L301.6,429.1 L304.1,427.7 L306.5,426.4 L309,425 L311.5,423.6" stroke="#000" stroke-width="2.128" fill="none" stroke-linejoin="round" stroke-linecap="round" />
<path d="M195,485 L197.7,483.4 L200.4,481.8 L203.1,480.2 L205.8,478.6 L208.5,477 L211.2,475.4 L213.9,473.8 L216.6,472.2 L219.3,470.7 L222,469.1 L224.7,467.5 L227.5,465.9 L230.2,464.3 L232.9,462.7 L235.6,461.1 L238.3,459.5 L240.9,458 L243.5,456.5 L246.2,455 L248.8,453.5 L251.5,452 L254.1,450.5 L256.7,448.9 L259.4,447.4 L262,445.9 L264.6,444.4 L267.3,442.9 L269.9,441.4 L272.5,439.9 L275.2,438.4 L277.8,436.9 L280.4,435.3 L283.1,433.8 L285.7,432.3 L288.4,430.8 L291,429.3 L293.6,427.8 L296.1,426.4 L298.6,425.1 L301.1,423.7 L303.6,422.4 L306.1,421 L308.7,419.7" stroke="#000" stroke-width="1.4560000000000002" fill="none" stroke-linejoin="round" stroke-linecap="round" />
<path d="M190.5,479.8 L193.2,478.1 L195.9,476.5 L198.6,474.9 L201.3,473.3 L204,471.7 L206.7,470.1 L209.4,468.5 L212.1,466.9 L214.7,465.3 L217.4,463.7 L220.1,462.1 L222.8,460.5 L225.5,458.9 L228.2,457.3 L230.9,455.7 L233.6,454.1 L236.2,452.6 L238.9,451.1 L241.5,449.5 L244.2,448 L246.8,446.5 L249.5,445 L252.1,443.5 L254.7,442 L257.4,440.5 L260,439 L262.7,437.5 L265.3,436 L267.9,434.5 L270.6,433 L273.2,431.5 L275.9,430 L278.5,428.5 L281.1,427 L283.8,425.5 L286.4,424 L289.1,422.5 L291.6,421.1 L294.1,419.8 L296.7,418.5 L299.2,417.2 L301.7,415.9 L304.3,414.6" stroke="#000" stroke-width="2.128" fill="none" stroke-linejoin="round" stroke-linecap="round" />
<path d="M187.1,476.4 L189.8,474.8 L192.5,473.2 L195.2,471.6 L197.9,469.9 L200.6,468.3 L203.2,466.7 L205.9,465.1 L208.6,463.5 L211.3,461.9 L214,460.3 L216.7,458.6 L219.4,457 L222.1,455.4 L224.7,453.8 L227.4,452.2 L230.1,450.6 L232.8,449.1 L235.4,447.6 L238,446.1 L240.7,444.6 L243.3,443.1 L246,441.6 L248.6,440.1 L251.3,438.6 L253.9,437.1 L256.5,435.6 L259.2,434.1 L261.8,432.6 L264.5,431.1 L267.1,429.6 L269.8,428.1 L272.4,426.6 L275.1,425.1 L277.7,423.5 L280.3,422 L283,420.5 L285.6,419 L288.2,417.7 L290.8,416.5 L293.3,415.2 L295.9,413.9 L298.4,412.6 L301,411.3" stroke="#000" stroke-width="1.4560000000000002" fill="none" stroke-linejoin="round" stroke-linecap="round" />
<path d="M182.1,472.2 L184.8,470.6 L187.5,469 L190.2,467.4 L192.8,465.7 L195.5,464.1 L198.2,462.5 L200.9,460.9 L203.5,459.2 L206.2,457.6 L208.9,456 L211.6,454.4 L214.2,452.7 L216.9,451.1 L219.6,449.5 L222.3,447.9 L224.9,446.3 L227.6,444.8 L230.2,443.3 L232.9,441.8 L235.5,440.3 L238.2,438.8 L240.8,437.3 L243.5,435.8 L246.1,434.3 L248.8,432.8 L251.4,431.3 L254.1,429.8 L256.7,428.3 L259.4,426.8 L262,425.3 L264.7,423.8 L267.3,422.3 L270,420.8 L272.6,419.3 L275.3,417.8 L277.9,416.3 L280.5,414.8 L283.1,413.5 L285.7,412.3 L288.3,411 L290.9,409.8 L293.5,408.5 L296.1,407.2" stroke="#000" stroke-width="2.128" fill="none" stroke-linejoin="round" stroke-linecap="round" />
<path d="M178.5,469.7 L181.2,468.1 L183.8,466.5 L186.5,464.8 L189.2,463.2 L191.8,461.6 L194.5,460 L197.2,458.3 L199.8,456.7 L202.5,455.1 L205.2,453.4 L207.8,451.8 L210.5,450.2 L213.2,448.5 L215.8,446.9 L218.5,445.3 L221.2,443.7 L223.8,442.2 L226.5,440.7 L229.1,439.2 L231.8,437.7 L234.4,436.2 L237.1,434.7 L239.7,433.2 L242.4,431.7 L245,430.2 L247.7,428.7 L250.3,427.2 L253,425.7 L255.6,424.2 L258.3,422.7 L260.9,421.2 L263.6,419.7 L266.3,418.2 L268.9,416.7 L271.6,415.2 L274.2,413.8 L276.9,412.3 L279.5,411 L282.1,409.8 L284.7,408.5 L287.4,407.3 L290,406 L292.6,404.8" stroke="#000" stroke-width="1.4560000000000002" fill="none" stroke-linejoin="round" stroke-linecap="round" />
<path d="M173.3,466.9 L176,465.3 L178.6,463.6 L181.3,462 L183.9,460.3 L186.6,458.7 L189.2,457.1 L191.9,455.4 L194.5,453.8 L197.2,452.2 L199.9,450.5 L202.5,448.9 L205.2,447.2 L207.8,445.6 L210.5,444 L213.1,442.3 L215.8,440.7 L218.4,439.2 L221.1,437.7 L223.7,436.2 L226.4,434.7 L229.1,433.2 L231.7,431.8 L234.4,430.3 L237,428.8 L239.7,427.3 L242.3,425.8 L245,424.3 L247.7,422.8 L250.3,421.3 L253,419.8 L255.6,418.3 L258.3,416.8 L260.9,415.3 L263.6,413.8 L266.3,412.3 L268.9,410.8 L271.6,409.4 L274.2,408.1 L276.9,406.9 L279.6,405.7 L282.2,404.5 L284.9,403.3 L287.5,402" stroke="#000" stroke-width="2.128" fill="none" stroke-linejoin="round" stroke-linecap="round" />
<path d="M169.7,465.4 L172.3,463.8 L174.9,462.1 L177.6,460.5 L180.2,458.8 L182.9,457.2 L185.5,455.5 L188.2,453.9 L190.8,452.3 L193.5,450.6 L196.1,449 L198.8,447.3 L201.4,445.7 L204,444.1 L206.7,442.4 L209.3,440.8 L212,439.2 L214.6,437.7 L217.3,436.2 L220,434.7 L222.6,433.2 L225.3,431.7 L227.9,430.2 L230.6,428.7 L233.3,427.2 L235.9,425.7 L238.6,424.2 L241.2,422.7 L243.9,421.3 L246.6,419.8 L249.2,418.3 L251.9,416.8 L254.5,415.3 L257.2,413.8 L259.9,412.3 L262.5,410.8 L265.2,409.3 L267.8,407.8 L270.5,406.6 L273.2,405.4 L275.9,404.2 L278.6,403 L281.3,401.8 L284,400.6" stroke="#000" stroke-width="1.4560000000000002" fill="none" stroke-linejoin="round" stroke-linecap="round" />
<path d="M164.6,464 L167.2,462.4 L169.8,460.7 L172.5,459.1 L175.1,457.5 L177.7,455.8 L180.4,454.2 L183,452.5 L185.6,450.9 L188.2,449.2 L190.9,447.6 L193.5,445.9 L196.1,444.3 L198.8,442.6 L201.4,441 L204,439.4 L206.7,437.7 L209.3,436.3 L212,434.8 L214.7,433.3 L217.3,431.8 L220,430.3 L222.7,428.8 L225.3,427.3 L228,425.8 L230.7,424.3 L233.3,422.8 L236,421.3 L238.7,419.9 L241.3,418.4 L244,416.9 L246.7,415.4 L249.3,413.9 L252,412.4 L254.6,410.9 L257.3,409.4 L260,407.9 L262.6,406.4 L265.4,405.2 L268.1,404 L270.8,402.8 L273.5,401.6 L276.3,400.4 L279,399.2" stroke="#000" stroke-width="2.128" fill="none" stroke-linejoin="round" stroke-linecap="round" />
<path d="M161.1,463.6 L163.7,462 L166.3,460.3 L168.9,458.7 L171.6,457 L174.2,455.4 L176.8,453.7 L179.4,452.1 L182.1,450.5 L184.7,448.8 L187.3,447.2 L189.9,445.5 L192.6,443.9 L195.2,442.2 L197.8,440.6 L200.4,438.9 L203.1,437.3 L205.7,435.8 L208.4,434.3 L211.1,432.8 L213.7,431.4 L216.4,429.9 L219.1,428.4 L221.7,426.9 L224.4,425.4 L227.1,423.9 L229.7,422.4 L232.4,420.9 L235.1,419.4 L237.7,417.9 L240.4,416.5 L243.1,415 L245.7,413.5 L248.4,412 L251.1,410.5 L253.8,409 L256.4,407.5 L259.1,406 L261.8,404.8 L264.6,403.6 L267.3,402.4 L270.1,401.2 L272.8,400 L275.6,398.8" stroke="#000" stroke-width="1.4560000000000002" fill="none" stroke-linejoin="round" stroke-linecap="round" />
<path d="M156.4,463.8 L159,462.2 L161.6,460.5 L164.2,458.9 L166.8,457.2 L169.4,455.6 L172,454 L174.6,452.3 L177.3,450.7 L179.9,449 L182.5,447.4 L185.1,445.7 L187.7,444.1 L190.3,442.4 L192.9,440.8 L195.5,439.1 L198.2,437.5 L200.8,436 L203.5,434.5 L206.2,433.1 L208.9,431.6 L211.5,430.1 L214.2,428.6 L216.9,427.1 L219.5,425.6 L222.2,424.1 L224.9,422.6 L227.6,421.1 L230.2,419.6 L232.9,418.2 L235.6,416.7 L238.3,415.2 L240.9,413.7 L243.6,412.2 L246.3,410.7 L248.9,409.2 L251.6,407.7 L254.3,406.2 L257.1,405 L259.9,403.8 L262.6,402.6 L265.4,401.4 L268.2,400.2 L271,399" stroke="#000" stroke-width="2.128" fill="none" stroke-linejoin="round" stroke-linecap="round" />
<path d="M153.2,464.5 L155.9,462.9 L158.5,461.2 L161.1,459.6 L163.7,457.9 L166.3,456.3 L168.9,454.7 L171.5,453 L174.1,451.4 L176.7,449.7 L179.3,448.1 L181.9,446.4 L184.5,444.8 L187.1,443.2 L189.7,441.5 L192.3,439.9 L194.9,438.2 L197.6,436.8 L200.3,435.3 L203,433.8 L205.6,432.3 L208.3,430.8 L211,429.3 L213.7,427.8 L216.3,426.3 L219,424.8 L221.7,423.3 L224.4,421.8 L227,420.4 L229.7,418.9 L232.4,417.4 L235.1,415.9 L237.7,414.4 L240.4,412.9 L243.1,411.4 L245.8,409.9 L248.4,408.4 L251.1,406.9 L253.9,405.7 L256.7,404.5 L259.5,403.3 L262.4,402.1 L265.2,400.9 L268,399.7" stroke="#000" stroke-width="1.4560000000000002" fill="none" stroke-linejoin="round" stroke-linecap="round" />
</g>
<path d="M136.6,487.5 L138,483.6 L139.3,479.7 L140.9,476.4 L142.9,473.7 L144.9,471.1 L146.9,468.4 L149.2,466.3 L151.8,464.6 L154.4,463 L157,461.4 L159.6,459.7 L162.2,458.1 L164.8,456.4 L167.4,454.8 L170,453.2 L172.6,451.5 L175.1,449.9 L177.7,448.2 L180.3,446.6 L182.9,445 L185.5,443.3 L188.1,441.7 L190.7,440.1 L193.4,438.6 L196.1,437.1 L198.8,435.6 L201.4,434.1 L204.1,432.6 L206.8,431.1 L209.5,429.6 L212.2,428.1 L214.8,426.6 L217.5,425.1 L220.2,423.7 L222.9,422.2 L225.6,420.7 L228.2,419.2 L230.9,417.7 L233.6,416.2 L236.3,414.7 L239,413.2 L241.6,411.7 L244.3,410.2 L247,408.7 L249.8,407.5 L252.7,406.3 L255.5,405.1 L258.4,403.9 L261.2,402.7 L264,401.4 L266.9,400.2 L269.7,399 L272.9,398.3 L276.1,397.7 L279.3,397.1 L282.5,396.6 L285.8,396.1 L289.3,396.2 L292.9,396.3 L296.5,396.3" stroke="#000" stroke-width="2.4640000000000004" fill="none" stroke-linejoin="round" stroke-linecap="round" />
<path d="M174.6,553.3 L178.6,554.1 L182.6,554.9 L186.4,555.2 L189.7,554.7 L192.9,554.3 L196.2,553.9 L199.3,553 L202,551.6 L204.7,550.1 L207.4,548.7 L210.1,547.3 L212.8,545.8 L215.6,544.4 L218.3,543 L221,541.6 L223.7,540.1 L226.4,538.7 L229.1,537.3 L231.9,535.9 L234.6,534.4 L237.3,533 L240,531.6 L242.7,530.1 L245.4,528.6 L248,527 L250.6,525.4 L253.2,523.8 L255.9,522.3 L258.5,520.7 L261.1,519.1 L263.8,517.5 L266.4,516 L269,514.4 L271.7,512.8 L274.3,511.2 L276.9,509.7 L279.6,508.1 L282.2,506.5 L284.8,504.9 L287.5,503.4 L290.1,501.8 L292.7,500.2 L295.4,498.6 L298,497.1 L300.5,495.2 L302.9,493.4 L305.4,491.5 L307.9,489.7 L310.4,487.8 L312.8,486 L315.3,484.1 L317.8,482.3 L319.9,479.9 L322.1,477.4 L324.2,474.9 L326.3,472.4 L328.3,469.8 L330,466.7 L331.8,463.5 L333.5,460.4" stroke="#000" stroke-width="2.4640000000000004" fill="none" stroke-linejoin="round" stroke-linecap="round" />
<path d="M333.5,460.4 L335.9,458.6 L338,456.3 L339.7,453.6 L340.9,450.4 L341.8,446.8 L342.1,442.9 L342,438.8 L341.4,434.5 L340.4,430 L339,425.6 L337.1,421.2 L334.9,416.9 L332.3,412.8 L329.4,409 L326.3,405.5 L322.9,402.4 L319.5,399.8 L316,397.6 L312.4,396 L308.9,394.9 L305.5,394.4 L302.3,394.4 L299.2,395.1 L296.5,396.3" stroke="#000" stroke-width="2.128" fill="none" stroke-linejoin="round" stroke-linecap="round" />
<g clip-path="url(#armclip)">
<path d="M182.4,542.1 C184.1,542.3 188.9,543.4 192.5,543.3 C196.1,543.3 200.2,542.7 203.8,541.8 C207.3,540.9 212.2,538.6 213.8,538" stroke="#000" stroke-width="1.4560000000000002" fill="none" stroke-linejoin="round" stroke-linecap="round" />
<path d="M183.6,534.6 C185.4,534.6 190.3,534.8 194,534.4 C197.6,533.9 201.8,533 205.4,531.9 C209,530.8 213.9,528.4 215.5,527.7" stroke="#000" stroke-width="1.4560000000000002" fill="none" stroke-linejoin="round" stroke-linecap="round" />
<path d="M183,526.1 C184.7,525.8 189.6,525.2 193.2,524.3 C196.8,523.4 201,522 204.6,520.6 C208.1,519.2 213,516.7 214.7,516" stroke="#000" stroke-width="1.4560000000000002" fill="none" stroke-linejoin="round" stroke-linecap="round" />
<path d="M180.5,517.2 C182.1,516.6 186.8,515 190.2,513.6 C193.7,512.2 197.8,510.4 201.3,508.8 C204.8,507.1 209.6,504.5 211.2,503.6" stroke="#000" stroke-width="1.4560000000000002" fill="none" stroke-linejoin="round" stroke-linecap="round" />
<path d="M176.4,508.4 C177.9,507.5 182.1,505.1 185.3,503.2 C188.6,501.4 192.4,499.1 195.8,497.2 C199.2,495.2 203.9,492.5 205.5,491.6" stroke="#000" stroke-width="1.4560000000000002" fill="none" stroke-linejoin="round" stroke-linecap="round" />
<path d="M170.9,500.4 C172.2,499.3 175.8,496.1 178.8,493.8 C181.7,491.5 185.3,488.8 188.5,486.6 C191.7,484.4 196.4,481.6 197.9,480.6" stroke="#000" stroke-width="1.4560000000000002" fill="none" stroke-linejoin="round" stroke-linecap="round" />
<path d="M164.4,493.8 C165.5,492.5 168.4,488.5 171,485.9 C173.6,483.2 176.9,480.3 179.9,477.9 C182.9,475.5 187.5,472.5 189,471.5" stroke="#000" stroke-width="1.4560000000000002" fill="none" stroke-linejoin="round" stroke-linecap="round" />
<path d="M157.3,489 C158.2,487.5 160.4,483.1 162.6,480.2 C164.9,477.3 167.8,474.1 170.6,471.5 C173.3,468.9 177.8,465.9 179.3,464.8" stroke="#000" stroke-width="1.4560000000000002" fill="none" stroke-linejoin="round" stroke-linecap="round" />
<path d="M150.2,486.3 C150.9,484.8 152.4,480 154.2,477 C156,473.9 158.6,470.6 161.1,468 C163.7,465.3 168.1,462.3 169.5,461.1" stroke="#000" stroke-width="1.4560000000000002" fill="none" stroke-linejoin="round" stroke-linecap="round" />
</g>
<path d="M136.6,487.5 C135.9,488.2 133.3,489.9 132,491.6 C130.7,493.3 129.7,495.5 129,497.8 C128.3,500.1 127.9,502.7 127.8,505.4 C127.7,508.2 127.9,511.1 128.5,514.1 C129,517.1 129.9,520.2 131,523.2 C132.1,526.2 133.6,529.3 135.2,532.1 C136.9,535 138.8,537.8 140.9,540.3 C142.9,542.7 145.2,545.1 147.5,547 C149.8,549 152.2,550.7 154.6,552 C157.1,553.3 159.5,554.2 161.9,554.8 C164.2,555.3 166.6,555.4 168.7,555.2 C170.8,555 173.7,553.6 174.6,553.3" stroke="#000" stroke-width="2.24" fill="none" stroke-linejoin="round" stroke-linecap="round" />
<path d="M320.2,478.7 L330.2,467.2" stroke="#000" stroke-width="1.7920000000000003" fill="none" stroke-linejoin="round" stroke-linecap="round" />
<path d="M323.5,474.1 L333.2,463.1" stroke="#000" stroke-width="1.7920000000000003" fill="none" stroke-linejoin="round" stroke-linecap="round" />
<path d="M325.7,468.3 L335.2,457.9" stroke="#000" stroke-width="1.7920000000000003" fill="none" stroke-linejoin="round" stroke-linecap="round" />
<path d="M326.8,461.6 L336.2,452" stroke="#000" stroke-width="1.7920000000000003" fill="none" stroke-linejoin="round" stroke-linecap="round" />
<path d="M326.8,454.3 L336.1,445.4" stroke="#000" stroke-width="1.7920000000000003" fill="none" stroke-linejoin="round" stroke-linecap="round" />
<path d="M325.5,446.5 L335,438.4" stroke="#000" stroke-width="1.7920000000000003" fill="none" stroke-linejoin="round" stroke-linecap="round" />
<path d="M323.2,438.5 L332.9,431.3" stroke="#000" stroke-width="1.7920000000000003" fill="none" stroke-linejoin="round" stroke-linecap="round" />
<path d="M319.8,430.6 L329.9,424.3" stroke="#000" stroke-width="1.7920000000000003" fill="none" stroke-linejoin="round" stroke-linecap="round" />
<path d="M315.4,423.1 L326,417.5" stroke="#000" stroke-width="1.7920000000000003" fill="none" stroke-linejoin="round" stroke-linecap="round" />
<path d="M310.3,416.2 L321.4,411.4" stroke="#000" stroke-width="1.7920000000000003" fill="none" stroke-linejoin="round" stroke-linecap="round" />
<path d="M304.6,410.2 L316.3,406" stroke="#000" stroke-width="1.7920000000000003" fill="none" stroke-linejoin="round" stroke-linecap="round" />
<path d="M298.4,405.2 L310.8,401.6" stroke="#000" stroke-width="1.7920000000000003" fill="none" stroke-linejoin="round" stroke-linecap="round" />
<path d="M292.1,401.5 L305.1,398.2" stroke="#000" stroke-width="1.7920000000000003" fill="none" stroke-linejoin="round" stroke-linecap="round" />
<path d="M285.8,399.1 L299.5,396.1" stroke="#000" stroke-width="1.7920000000000003" fill="none" stroke-linejoin="round" stroke-linecap="round" />
<path d="M279.7,398.1 L294,395.2" stroke="#000" stroke-width="1.7920000000000003" fill="none" stroke-linejoin="round" stroke-linecap="round" />
<path d="M274,398.7 L289,395.7" stroke="#000" stroke-width="1.7920000000000003" fill="none" stroke-linejoin="round" stroke-linecap="round" />
<path d="M317.7,483.1 L319.4,481.6 L320.9,479.9 L322.2,478 L323.4,475.9 L324.4,473.6 L325.2,471.2 L325.9,468.6 L326.3,465.9 L326.6,463.1 L326.7,460.2 L326.6,457.1 L326.3,454 L325.9,450.9 L325.2,447.6 L324.4,444.4 L323.4,441.2 L322.2,437.9 L320.9,434.7 L319.4,431.5 L317.7,428.4 L316,425.3 L314,422.4 L312,419.5 L309.9,416.8 L307.6,414.2 L305.3,411.7 L302.9,409.4 L300.4,407.3 L297.9,405.3 L295.3,403.6 L292.8,402 L290.2,400.7 L287.6,399.6 L285,398.7 L282.5,398 L280,397.5 L277.5,397.3 L275.2,397.3 L272.9,397.6 L270.7,398.1" stroke="#000" stroke-width="1.7920000000000003" fill="none" stroke-linejoin="round" stroke-linecap="round" />
<path d="M329.5,468.3 L330.8,467 L332,465.7 L333.1,464.2 L334.1,462.5 L334.9,460.7 L335.7,458.8 L336.2,456.7 L336.7,454.6 L337,452.3 L337.1,450 L337.1,447.6 L337,445.1 L336.7,442.6 L336.3,440 L335.8,437.4 L335.1,434.8 L334.2,432.1 L333.3,429.5 L332.2,426.9 L331,424.3 L329.7,421.8 L328.3,419.3 L326.7,416.9 L325.1,414.5 L323.4,412.3 L321.6,410.1 L319.8,408.1 L317.8,406.1 L315.9,404.3 L313.8,402.7 L311.8,401.1 L309.7,399.8 L307.6,398.5 L305.5,397.5 L303.4,396.6 L301.3,395.9 L299.3,395.3 L297.2,395 L295.3,394.8 L293.3,394.7" stroke="#000" stroke-width="1.6800000000000002" fill="none" stroke-linejoin="round" stroke-linecap="round" />
<path d="M142.4,493.4 L141.1,494.3 L140,495.4 L139,496.8 L138.2,498.3 L137.6,500.1 L137.1,502 L136.9,504.1 L136.9,506.4 L137,508.7 L137.3,511.2 L137.9,513.7 L138.6,516.3 L139.4,518.8 L140.5,521.4 L141.7,524 L143.1,526.5 L144.5,528.9 L146.2,531.2 L147.9,533.4 L149.7,535.5 L151.5,537.4 L153.4,539.1 L155.4,540.6 L157.4,541.9 L159.3,543 L161.3,543.8 L163.1,544.4 L165,544.8 L166.7,544.8 L168.4,544.7 L169.9,544.3 L171.4,543.6 L185.2,535.6 L186.5,534.7 L187.6,533.6 L188.6,532.2 L189.4,530.7 L190,528.9 L190.5,527 L190.7,524.9 L190.7,522.6 L190.6,520.3 L190.3,517.8 L189.7,515.3 L189,512.7 L188.2,510.2 L187.1,507.6 L185.9,505 L184.5,502.5 L183.1,500.1 L181.4,497.8 L179.7,495.6 L177.9,493.5 L176.1,491.6 L174.2,489.9 L172.2,488.4 L170.2,487.1 L168.3,486 L166.3,485.2 L164.5,484.6 L162.6,484.2 L160.9,484.2 L159.2,484.3 L157.7,484.7 L156.2,485.4 Z" stroke="none" stroke-width="0.01" fill="#fff" stroke-linejoin="round" stroke-linecap="round" />
<path d="M171.4,543.6 L172.7,542.7 L173.8,541.6 L174.8,540.2 L175.6,538.7 L176.2,536.9 L176.6,535 L176.8,532.9 L176.9,530.6 L176.7,528.3 L176.4,525.8 L175.9,523.3 L175.2,520.7 L174.3,518.2 L173.2,515.6 L172,513 L170.7,510.5 L169.2,508.1 L167.6,505.8 L165.9,503.6 L164.1,501.5 L162.2,499.6 L160.3,497.9 L158.4,496.4 L156.4,495.1 L154.4,494 L152.5,493.2 L150.6,492.6 L148.8,492.2 L147,492.2 L145.3,492.3 L143.8,492.7 L142.4,493.4 L141.1,494.3 L140,495.4 L139,496.8 L138.2,498.3 L137.6,500.1 L137.1,502 L136.9,504.1 L136.9,506.4 L137,508.7 L137.3,511.2 L137.9,513.7 L138.6,516.3 L139.4,518.8 L140.5,521.4 L141.7,524 L143.1,526.5 L144.5,528.9 L146.2,531.2 L147.9,533.4 L149.7,535.5 L151.5,537.4 L153.4,539.1 L155.4,540.6 L157.4,541.9 L159.3,543 L161.3,543.8 L163.1,544.4 L165,544.8 L166.7,544.8 L168.4,544.7 L169.9,544.3 L171.4,543.6 Z" stroke="#000" stroke-width="2.24" fill="none" stroke-linejoin="round" stroke-linecap="round" />
<path d="M185.2,535.6 L186.5,534.7 L187.6,533.6 L188.6,532.2 L189.4,530.7 L190,528.9 L190.5,527 L190.7,524.9 L190.7,522.6 L190.6,520.3 L190.3,517.8 L189.7,515.3 L189,512.7 L188.2,510.2 L187.1,507.6 L185.9,505 L184.5,502.5 L183.1,500.1 L181.4,497.8 L179.7,495.6 L177.9,493.5 L176.1,491.6 L174.2,489.9 L172.2,488.4 L170.2,487.1 L168.3,486 L166.3,485.2 L164.5,484.6 L162.6,484.2 L160.9,484.2 L159.2,484.3 L157.7,484.7 L156.2,485.4" stroke="#000" stroke-width="2.24" fill="none" stroke-linejoin="round" stroke-linecap="round" />
<path d="M142.4,493.4 L156.2,485.4" stroke="#000" stroke-width="2.24" fill="none" stroke-linejoin="round" stroke-linecap="round" />
<path d="M171.4,543.6 L185.2,535.6" stroke="#000" stroke-width="2.24" fill="none" stroke-linejoin="round" stroke-linecap="round" />
<path d="M134.6,497.9 L133.4,498.7 L132.4,499.8 L131.6,501.1 L130.9,502.6 L130.4,504.3 L130,506.1 L129.9,508.2 L129.9,510.4 L130.2,512.7 L130.6,515.1 L131.2,517.6 L131.9,520.1 L132.9,522.6 L133.9,525.2 L135.2,527.8 L136.5,530.2 L138,532.7 L139.6,535 L141.3,537.2 L143,539.3 L144.8,541.2 L146.7,543 L148.6,544.5 L150.5,545.9 L152.3,547 L154.2,547.9 L155.9,548.6 L157.7,549 L159.3,549.1 L160.9,549 L162.3,548.7 L163.6,548.1 L169.6,544.6 L170.8,543.8 L171.8,542.7 L172.7,541.4 L173.3,539.9 L173.8,538.2 L174.2,536.4 L174.3,534.3 L174.3,532.1 L174,529.8 L173.6,527.4 L173.1,524.9 L172.3,522.4 L171.4,519.9 L170.3,517.3 L169.1,514.7 L167.7,512.2 L166.2,509.8 L164.6,507.5 L162.9,505.3 L161.2,503.2 L159.4,501.3 L157.5,499.5 L155.6,498 L153.8,496.6 L151.9,495.5 L150.1,494.6 L148.3,493.9 L146.6,493.5 L144.9,493.4 L143.4,493.5 L141.9,493.8 L140.6,494.4 Z" stroke="none" stroke-width="0.01" fill="#fff" stroke-linejoin="round" stroke-linecap="round" />
<path d="M163.6,548.1 L164.7,547.3 L165.8,546.2 L166.6,544.9 L167.3,543.4 L167.8,541.7 L168.1,539.9 L168.3,537.8 L168.2,535.6 L168,533.3 L167.6,530.9 L167,528.4 L166.2,525.9 L165.3,523.4 L164.2,520.8 L163,518.2 L161.6,515.8 L160.2,513.3 L158.6,511 L156.9,508.8 L155.1,506.7 L153.3,504.8 L151.5,503 L149.6,501.5 L147.7,500.1 L145.8,499 L144,498.1 L142.2,497.4 L140.5,497 L138.8,496.9 L137.3,497 L135.9,497.3 L134.6,497.9 L133.4,498.7 L132.4,499.8 L131.6,501.1 L130.9,502.6 L130.4,504.3 L130,506.1 L129.9,508.2 L129.9,510.4 L130.2,512.7 L130.6,515.1 L131.2,517.6 L131.9,520.1 L132.9,522.6 L133.9,525.2 L135.2,527.8 L136.5,530.2 L138,532.7 L139.6,535 L141.3,537.2 L143,539.3 L144.8,541.2 L146.7,543 L148.6,544.5 L150.5,545.9 L152.3,547 L154.2,547.9 L155.9,548.6 L157.7,549 L159.3,549.1 L160.9,549 L162.3,548.7 L163.6,548.1 Z" stroke="#000" stroke-width="2.128" fill="none" stroke-linejoin="round" stroke-linecap="round" />
<path d="M169.6,544.6 L170.8,543.8 L171.8,542.7 L172.7,541.4 L173.3,539.9 L173.8,538.2 L174.2,536.4 L174.3,534.3 L174.3,532.1 L174,529.8 L173.6,527.4 L173.1,524.9 L172.3,522.4 L171.4,519.9 L170.3,517.3 L169.1,514.7 L167.7,512.2 L166.2,509.8 L164.6,507.5 L162.9,505.3 L161.2,503.2 L159.4,501.3 L157.5,499.5 L155.6,498 L153.8,496.6 L151.9,495.5 L150.1,494.6 L148.3,493.9 L146.6,493.5 L144.9,493.4 L143.4,493.5 L141.9,493.8 L140.6,494.4" stroke="#000" stroke-width="2.128" fill="none" stroke-linejoin="round" stroke-linecap="round" />
<path d="M134.6,497.9 L140.6,494.4" stroke="#000" stroke-width="2.128" fill="none" stroke-linejoin="round" stroke-linecap="round" />
<path d="M163.6,548.1 L169.6,544.6" stroke="#000" stroke-width="2.128" fill="none" stroke-linejoin="round" stroke-linecap="round" />
<path d="M161.6,544.7 L162.6,543.9 L163.5,543 L164.2,541.9 L164.8,540.6 L165.2,539.1 L165.5,537.5 L165.6,535.8 L165.6,533.9 L165.4,531.9 L165,529.8 L164.5,527.7 L163.9,525.5 L163.1,523.3 L162.1,521.1 L161.1,518.9 L159.9,516.8 L158.6,514.7 L157.3,512.6 L155.8,510.7 L154.3,508.9 L152.7,507.3 L151.1,505.8 L149.5,504.4 L147.9,503.3 L146.3,502.3 L144.7,501.5 L143.2,501 L141.7,500.6 L140.3,500.5 L138.9,500.5 L137.7,500.8 L136.6,501.3 L135.6,502.1 L134.7,503 L134,504.1 L133.4,505.4 L133,506.9 L132.7,508.5 L132.5,510.2 L132.6,512.1 L132.8,514.1 L133.1,516.2 L133.6,518.3 L134.3,520.5 L135.1,522.7 L136,524.9 L137.1,527.1 L138.3,529.2 L139.5,531.3 L140.9,533.4 L142.3,535.3 L143.9,537.1 L145.4,538.7 L147,540.2 L148.6,541.6 L150.3,542.7 L151.9,543.7 L153.5,544.5 L155,545 L156.5,545.4 L157.9,545.5 L159.2,545.5 L160.5,545.2 L161.6,544.7 Z" stroke="#000" stroke-width="1.4560000000000002" fill="none" stroke-linejoin="round" stroke-linecap="round" />
<path d="M159.6,541.2 L160.4,540.6 L161.2,539.8 L161.8,538.9 L162.3,537.8 L162.6,536.6 L162.9,535.2 L163,533.7 L162.9,532.1 L162.8,530.5 L162.5,528.7 L162,526.9 L161.5,525.1 L160.8,523.3 L160,521.4 L159.2,519.6 L158.2,517.8 L157.1,516 L155.9,514.3 L154.7,512.7 L153.5,511.2 L152.1,509.8 L150.8,508.5 L149.4,507.4 L148.1,506.4 L146.7,505.6 L145.4,505 L144.1,504.5 L142.9,504.2 L141.7,504.1 L140.6,504.1 L139.5,504.4 L138.6,504.8 L137.7,505.4 L137,506.2 L136.4,507.1 L135.9,508.2 L135.5,509.4 L135.3,510.8 L135.2,512.3 L135.2,513.9 L135.4,515.5 L135.7,517.3 L136.1,519.1 L136.7,520.9 L137.3,522.7 L138.1,524.6 L139,526.4 L140,528.2 L141.1,530 L142.2,531.7 L143.4,533.3 L144.7,534.8 L146,536.2 L147.4,537.5 L148.7,538.6 L150.1,539.6 L151.4,540.4 L152.8,541 L154.1,541.5 L155.3,541.8 L156.5,541.9 L157.6,541.9 L158.6,541.6 L159.6,541.2 Z" stroke="#000" stroke-width="1.7920000000000003" fill="none" stroke-linejoin="round" stroke-linecap="round" />
<path d="M157.6,537.7 L158.3,537.2 L158.9,536.6 L159.3,535.9 L159.7,535 L160,534 L160.2,532.9 L160.3,531.7 L160.3,530.4 L160.2,529.1 L159.9,527.6 L159.6,526.2 L159.1,524.7 L158.6,523.2 L158,521.7 L157.2,520.2 L156.4,518.8 L155.6,517.3 L154.6,516 L153.7,514.7 L152.6,513.4 L151.6,512.3 L150.5,511.3 L149.4,510.4 L148.3,509.6 L147.2,508.9 L146.1,508.4 L145.1,508 L144,507.8 L143.1,507.7 L142.2,507.7 L141.3,507.9 L140.6,508.3 L139.9,508.8 L139.3,509.4 L138.8,510.1 L138.4,511 L138.1,512 L137.9,513.1 L137.8,514.3 L137.9,515.6 L138,516.9 L138.2,518.4 L138.6,519.8 L139,521.3 L139.6,522.8 L140.2,524.3 L140.9,525.8 L141.7,527.2 L142.6,528.7 L143.5,530 L144.5,531.3 L145.5,532.6 L146.6,533.7 L147.7,534.7 L148.8,535.6 L149.9,536.4 L151,537.1 L152.1,537.6 L153.1,538 L154.1,538.2 L155.1,538.3 L156,538.3 L156.8,538.1 L157.6,537.7 Z" stroke="#000" stroke-width="1.4560000000000002" fill="none" stroke-linejoin="round" stroke-linecap="round" />
<path d="M113.8,527.8 L113.1,528.3 L112.5,528.8 L111.9,529.5 L111.5,530.3 L111.1,531.2 L110.9,532.1 L110.7,533.1 L110.6,534.2 L110.6,535.3 L110.7,536.5 L110.9,537.7 L111.2,538.9 L111.6,540.1 L112.1,541.3 L112.6,542.5 L113.3,543.7 L113.9,544.8 L114.7,545.9 L115.5,546.9 L116.4,547.8 L117.3,548.7 L118.2,549.5 L119.2,550.2 L120.1,550.7 L121.1,551.2 L122.1,551.5 L123,551.8 L124,551.9 L124.9,551.9 L125.7,551.8 L126.5,551.5 L127.2,551.2 L155.8,534.7 L156.5,534.2 L157.1,533.7 L157.6,533 L158.1,532.2 L158.4,531.3 L158.7,530.4 L158.9,529.4 L159,528.3 L159,527.2 L158.9,526 L158.7,524.8 L158.4,523.6 L158,522.4 L157.5,521.2 L157,520 L156.3,518.8 L155.6,517.7 L154.9,516.6 L154.1,515.6 L153.2,514.7 L152.3,513.8 L151.4,513 L150.4,512.3 L149.4,511.8 L148.5,511.3 L147.5,511 L146.5,510.7 L145.6,510.6 L144.7,510.6 L143.9,510.7 L143.1,511 L142.3,511.3 Z" stroke="none" stroke-width="0.01" fill="#fff" stroke-linejoin="round" stroke-linecap="round" />
<path d="M127.2,551.2 L127.9,550.7 L128.5,550.2 L129.1,549.5 L129.5,548.7 L129.9,547.8 L130.1,546.9 L130.3,545.9 L130.4,544.8 L130.4,543.7 L130.3,542.5 L130.1,541.3 L129.8,540.1 L129.4,538.9 L128.9,537.7 L128.4,536.5 L127.7,535.3 L127.1,534.2 L126.3,533.1 L125.5,532.1 L124.6,531.2 L123.7,530.3 L122.8,529.5 L121.8,528.8 L120.9,528.3 L119.9,527.8 L118.9,527.5 L118,527.2 L117,527.1 L116.1,527.1 L115.3,527.2 L114.5,527.5 L113.8,527.8 L113.1,528.3 L112.5,528.8 L111.9,529.5 L111.5,530.3 L111.1,531.2 L110.9,532.1 L110.7,533.1 L110.6,534.2 L110.6,535.3 L110.7,536.5 L110.9,537.7 L111.2,538.9 L111.6,540.1 L112.1,541.3 L112.6,542.5 L113.3,543.7 L113.9,544.8 L114.7,545.9 L115.5,546.9 L116.4,547.8 L117.3,548.7 L118.2,549.5 L119.2,550.2 L120.1,550.7 L121.1,551.2 L122.1,551.5 L123,551.8 L124,551.9 L124.9,551.9 L125.7,551.8 L126.5,551.5 L127.2,551.2 Z" stroke="#000" stroke-width="2.128" fill="none" stroke-linejoin="round" stroke-linecap="round" />
<path d="M155.8,534.7 L156.5,534.2 L157.1,533.7 L157.6,533 L158.1,532.2 L158.4,531.3 L158.7,530.4 L158.9,529.4 L159,528.3 L159,527.2 L158.9,526 L158.7,524.8 L158.4,523.6 L158,522.4 L157.5,521.2 L157,520 L156.3,518.8 L155.6,517.7 L154.9,516.6 L154.1,515.6 L153.2,514.7 L152.3,513.8 L151.4,513 L150.4,512.3 L149.4,511.8 L148.5,511.3 L147.5,511 L146.5,510.7 L145.6,510.6 L144.7,510.6 L143.9,510.7 L143.1,511 L142.3,511.3" stroke="#000" stroke-width="2.128" fill="none" stroke-linejoin="round" stroke-linecap="round" />
<path d="M113.8,527.8 L142.3,511.3" stroke="#000" stroke-width="2.128" fill="none" stroke-linejoin="round" stroke-linecap="round" />
<path d="M127.2,551.2 L155.8,534.7" stroke="#000" stroke-width="2.128" fill="none" stroke-linejoin="round" stroke-linecap="round" />
<path d="M130.6,547.7 L158.3,531.7" stroke="#000" stroke-width="1.1" fill="none" stroke-linejoin="round" stroke-linecap="round" />
<path d="M131.2,543 L159,527" stroke="#000" stroke-width="1.1" fill="none" stroke-linejoin="round" stroke-linecap="round" />
<path d="M129.9,537.5 L157.6,521.5" stroke="#000" stroke-width="1.1" fill="none" stroke-linejoin="round" stroke-linecap="round" />
<path d="M126.9,532.3 L154.6,516.3" stroke="#000" stroke-width="1.1" fill="none" stroke-linejoin="round" stroke-linecap="round" />
<path d="M122.8,528.4 L150.5,512.4" stroke="#000" stroke-width="1.1" fill="none" stroke-linejoin="round" stroke-linecap="round" />
<path d="M118.4,526.7 L146.1,510.7" stroke="#000" stroke-width="1.1" fill="none" stroke-linejoin="round" stroke-linecap="round" />
<path d="M363.5,398.9 L372,394.5" stroke="#555" stroke-width="0.9" fill="none" stroke-linejoin="round" stroke-linecap="round" />
<path d="M394.9,383.2 L372,394.5" stroke="#555" stroke-width="0.9" fill="none" stroke-linejoin="round" stroke-linecap="round" />
<path d="M423.6,363.7 L501.9,320.6" stroke="#555" stroke-width="0.9" fill="none" stroke-linejoin="round" stroke-linecap="round" />
<path d="M601,262.5 L613.6,255.6" stroke="#555" stroke-width="0.9" fill="none" stroke-linejoin="round" stroke-linecap="round" />
<path d="M645.7,236 L735,186.8" stroke="#555" stroke-width="0.9" fill="none" stroke-linejoin="round" stroke-linecap="round" />
<path d="M849.4,124.4 L848.7,124.9 L848.1,125.5 L847.5,126.2 L847.1,127 L846.7,127.9 L846.4,128.8 L846.2,129.9 L846.2,131 L846.2,132.2 L846.3,133.4 L846.5,134.6 L846.8,135.9 L847.2,137.1 L847.7,138.4 L848.3,139.6 L848.9,140.8 L849.6,142 L850.4,143.1 L851.3,144.2 L852.2,145.1 L853.1,146 L854.1,146.8 L855.1,147.5 L856.1,148.1 L857.1,148.6 L858.1,149 L859.1,149.2 L860,149.4 L860.9,149.4 L861.8,149.2 L862.7,149 L863.4,148.6 L870.4,144.6 L871.1,144.1 L871.7,143.5 L872.2,142.8 L872.7,142 L873.1,141.1 L873.3,140.2 L873.5,139.1 L873.6,138 L873.6,136.8 L873.5,135.6 L873.3,134.4 L873,133.1 L872.6,131.9 L872.1,130.6 L871.5,129.4 L870.9,128.2 L870.1,127 L869.4,125.9 L868.5,124.8 L867.6,123.9 L866.7,123 L865.7,122.2 L864.7,121.5 L863.7,120.9 L862.7,120.4 L861.7,120 L860.7,119.8 L859.8,119.6 L858.8,119.6 L858,119.8 L857.1,120 L856.4,120.4 Z" stroke="none" stroke-width="0.01" fill="#fff" stroke-linejoin="round" stroke-linecap="round" />
<path d="M863.4,148.6 L864.1,148.1 L864.8,147.5 L865.3,146.8 L865.8,146 L866.1,145.1 L866.4,144.2 L866.6,143.1 L866.7,142 L866.7,140.8 L866.6,139.6 L866.4,138.4 L866,137.1 L865.6,135.9 L865.2,134.6 L864.6,133.4 L863.9,132.2 L863.2,131 L862.4,129.9 L861.6,128.8 L860.7,127.9 L859.8,127 L858.8,126.2 L857.8,125.5 L856.8,124.9 L855.8,124.4 L854.8,124 L853.8,123.8 L852.8,123.6 L851.9,123.6 L851,123.8 L850.2,124 L849.4,124.4 L848.7,124.9 L848.1,125.5 L847.5,126.2 L847.1,127 L846.7,127.9 L846.4,128.8 L846.2,129.9 L846.2,131 L846.2,132.2 L846.3,133.4 L846.5,134.6 L846.8,135.9 L847.2,137.1 L847.7,138.4 L848.3,139.6 L848.9,140.8 L849.6,142 L850.4,143.1 L851.3,144.2 L852.2,145.1 L853.1,146 L854.1,146.8 L855.1,147.5 L856.1,148.1 L857.1,148.6 L858.1,149 L859.1,149.2 L860,149.4 L860.9,149.4 L861.8,149.2 L862.7,149 L863.4,148.6 Z" stroke="#000" stroke-width="2.0160000000000005" fill="none" stroke-linejoin="round" stroke-linecap="round" />
<path d="M870.4,144.6 L871.1,144.1 L871.7,143.5 L872.2,142.8 L872.7,142 L873.1,141.1 L873.3,140.2 L873.5,139.1 L873.6,138 L873.6,136.8 L873.5,135.6 L873.3,134.4 L873,133.1 L872.6,131.9 L872.1,130.6 L871.5,129.4 L870.9,128.2 L870.1,127 L869.4,125.9 L868.5,124.8 L867.6,123.9 L866.7,123 L865.7,122.2 L864.7,121.5 L863.7,120.9 L862.7,120.4 L861.7,120 L860.7,119.8 L859.8,119.6 L858.8,119.6 L858,119.8 L857.1,120 L856.4,120.4" stroke="#000" stroke-width="2.0160000000000005" fill="none" stroke-linejoin="round" stroke-linecap="round" />
<path d="M849.4,124.4 L856.4,120.4" stroke="#000" stroke-width="2.0160000000000005" fill="none" stroke-linejoin="round" stroke-linecap="round" />
<path d="M863.4,148.6 L870.4,144.6" stroke="#000" stroke-width="2.0160000000000005" fill="none" stroke-linejoin="round" stroke-linecap="round" />
<path d="M839.3,126.8 L838.4,127.4 L837.6,128.1 L837,128.9 L836.4,129.9 L836,131 L835.6,132.2 L835.4,133.5 L835.3,134.8 L835.3,136.2 L835.5,137.7 L835.7,139.2 L836.1,140.7 L836.6,142.3 L837.2,143.8 L837.8,145.3 L838.6,146.8 L839.5,148.2 L840.5,149.5 L841.5,150.8 L842.6,152 L843.7,153.1 L844.9,154.1 L846.1,154.9 L847.3,155.6 L848.5,156.2 L849.8,156.7 L851,157 L852.1,157.1 L853.2,157.1 L854.3,157 L855.3,156.7 L856.3,156.2 L861.5,153.2 L862.3,152.6 L863.1,151.9 L863.7,151.1 L864.3,150.1 L864.8,149 L865.1,147.8 L865.3,146.5 L865.4,145.2 L865.4,143.8 L865.3,142.3 L865,140.8 L864.6,139.3 L864.2,137.7 L863.6,136.2 L862.9,134.7 L862.1,133.2 L861.2,131.8 L860.3,130.5 L859.2,129.2 L858.1,128 L857,126.9 L855.8,125.9 L854.6,125.1 L853.4,124.4 L852.2,123.8 L851,123.3 L849.8,123 L848.6,122.9 L847.5,122.9 L846.4,123 L845.4,123.3 L844.5,123.8 Z" stroke="none" stroke-width="0.01" fill="#fff" stroke-linejoin="round" stroke-linecap="round" />
<path d="M856.3,156.2 L857.1,155.6 L857.9,154.9 L858.5,154.1 L859.1,153.1 L859.6,152 L859.9,150.8 L860.1,149.5 L860.2,148.2 L860.2,146.8 L860.1,145.3 L859.8,143.8 L859.4,142.3 L859,140.7 L858.4,139.2 L857.7,137.7 L856.9,136.2 L856,134.8 L855.1,133.5 L854,132.2 L852.9,131 L851.8,129.9 L850.6,128.9 L849.4,128.1 L848.2,127.4 L847,126.8 L845.8,126.3 L844.6,126 L843.4,125.9 L842.3,125.9 L841.2,126 L840.2,126.3 L839.3,126.8 L838.4,127.4 L837.6,128.1 L837,128.9 L836.4,129.9 L836,131 L835.6,132.2 L835.4,133.5 L835.3,134.8 L835.3,136.2 L835.5,137.7 L835.7,139.2 L836.1,140.7 L836.6,142.3 L837.2,143.8 L837.8,145.3 L838.6,146.8 L839.5,148.2 L840.5,149.5 L841.5,150.8 L842.6,152 L843.7,153.1 L844.9,154.1 L846.1,154.9 L847.3,155.6 L848.5,156.2 L849.8,156.7 L851,157 L852.1,157.1 L853.2,157.1 L854.3,157 L855.3,156.7 L856.3,156.2 Z" stroke="#000" stroke-width="2.0160000000000005" fill="none" stroke-linejoin="round" stroke-linecap="round" />
<path d="M861.5,153.2 L862.3,152.6 L863.1,151.9 L863.7,151.1 L864.3,150.1 L864.8,149 L865.1,147.8 L865.3,146.5 L865.4,145.2 L865.4,143.8 L865.3,142.3 L865,140.8 L864.6,139.3 L864.2,137.7 L863.6,136.2 L862.9,134.7 L862.1,133.2 L861.2,131.8 L860.3,130.5 L859.2,129.2 L858.1,128 L857,126.9 L855.8,125.9 L854.6,125.1 L853.4,124.4 L852.2,123.8 L851,123.3 L849.8,123 L848.6,122.9 L847.5,122.9 L846.4,123 L845.4,123.3 L844.5,123.8" stroke="#000" stroke-width="2.0160000000000005" fill="none" stroke-linejoin="round" stroke-linecap="round" />
<path d="M839.3,126.8 L844.5,123.8" stroke="#000" stroke-width="2.0160000000000005" fill="none" stroke-linejoin="round" stroke-linecap="round" />
<path d="M856.3,156.2 L861.5,153.2" stroke="#000" stroke-width="2.0160000000000005" fill="none" stroke-linejoin="round" stroke-linecap="round" />
<path d="M705.8,215.6 L705.5,215.8 L705.2,216.1 L704.9,216.5 L704.7,216.9 L704.5,217.3 L704.3,217.8 L704.3,218.3 L704.2,218.8 L704.2,219.4 L704.3,220 L704.4,220.6 L704.5,221.2 L704.7,221.8 L705,222.4 L705.2,223 L705.5,223.6 L705.9,224.2 L706.3,224.7 L706.7,225.2 L707.1,225.7 L707.6,226.1 L708.1,226.5 L708.5,226.9 L709,227.2 L709.5,227.4 L710,227.6 L710.5,227.7 L710.9,227.7 L711.4,227.7 L711.8,227.7 L712.2,227.6 L712.6,227.4 L851.2,147.4 L851.5,147.2 L851.8,146.9 L852.1,146.5 L852.3,146.1 L852.5,145.7 L852.6,145.2 L852.7,144.7 L852.7,144.2 L852.7,143.6 L852.7,143 L852.6,142.4 L852.4,141.8 L852.2,141.2 L852,140.6 L851.7,140 L851.4,139.4 L851.1,138.8 L850.7,138.3 L850.3,137.8 L849.8,137.3 L849.4,136.9 L848.9,136.5 L848.4,136.1 L847.9,135.8 L847.5,135.6 L847,135.4 L846.5,135.3 L846,135.3 L845.6,135.3 L845.1,135.3 L844.7,135.4 L844.4,135.6 Z" stroke="none" stroke-width="0.01" fill="#fff" stroke-linejoin="round" stroke-linecap="round" />
<path d="M712.6,227.4 L712.9,227.2 L713.2,226.9 L713.5,226.5 L713.7,226.1 L713.9,225.7 L714.1,225.2 L714.1,224.7 L714.2,224.2 L714.2,223.6 L714.1,223 L714,222.4 L713.9,221.8 L713.7,221.2 L713.4,220.6 L713.2,220 L712.9,219.4 L712.5,218.8 L712.1,218.3 L711.7,217.8 L711.3,217.3 L710.8,216.9 L710.3,216.5 L709.9,216.1 L709.4,215.8 L708.9,215.6 L708.4,215.4 L707.9,215.3 L707.5,215.3 L707,215.3 L706.6,215.3 L706.2,215.4 L705.8,215.6 L705.5,215.8 L705.2,216.1 L704.9,216.5 L704.7,216.9 L704.5,217.3 L704.3,217.8 L704.3,218.3 L704.2,218.8 L704.2,219.4 L704.3,220 L704.4,220.6 L704.5,221.2 L704.7,221.8 L705,222.4 L705.2,223 L705.5,223.6 L705.9,224.2 L706.3,224.7 L706.7,225.2 L707.1,225.7 L707.6,226.1 L708.1,226.5 L708.5,226.9 L709,227.2 L709.5,227.4 L710,227.6 L710.5,227.7 L710.9,227.7 L711.4,227.7 L711.8,227.7 L712.2,227.6 L712.6,227.4 Z" stroke="#000" stroke-width="2.128" fill="none" stroke-linejoin="round" stroke-linecap="round" />
<path d="M851.2,147.4 L851.5,147.2 L851.8,146.9 L852.1,146.5 L852.3,146.1 L852.5,145.7 L852.6,145.2 L852.7,144.7 L852.7,144.2 L852.7,143.6 L852.7,143 L852.6,142.4 L852.4,141.8 L852.2,141.2 L852,140.6 L851.7,140 L851.4,139.4 L851.1,138.8 L850.7,138.3 L850.3,137.8 L849.8,137.3 L849.4,136.9 L848.9,136.5 L848.4,136.1 L847.9,135.8 L847.5,135.6 L847,135.4 L846.5,135.3 L846,135.3 L845.6,135.3 L845.1,135.3 L844.7,135.4 L844.4,135.6" stroke="#000" stroke-width="2.128" fill="none" stroke-linejoin="round" stroke-linecap="round" />
<path d="M705.8,215.6 L844.4,135.6" stroke="#000" stroke-width="2.128" fill="none" stroke-linejoin="round" stroke-linecap="round" />
<path d="M712.6,227.4 L851.2,147.4" stroke="#000" stroke-width="2.128" fill="none" stroke-linejoin="round" stroke-linecap="round" />
<path d="M718.3,224.1 L719.1,223.3 L719.7,222.2 L719.9,220.9 L719.8,219.3 L719.3,217.7 L718.6,216.1 L717.6,214.6 L716.4,213.4 L715.1,212.5 L713.8,212 L712.6,212 L711.5,212.3" stroke="#000" stroke-width="1.1" fill="none" stroke-linejoin="round" stroke-linecap="round" />
<path d="M721.4,222.3 L722.3,221.5 L722.8,220.4 L723,219.1 L722.9,217.5 L722.4,215.9 L721.7,214.3 L720.7,212.8 L719.5,211.6 L718.2,210.7 L716.9,210.2 L715.7,210.2 L714.6,210.5" stroke="#000" stroke-width="1.1" fill="none" stroke-linejoin="round" stroke-linecap="round" />
<path d="M724.6,220.5 L725.4,219.7 L725.9,218.6 L726.1,217.3 L726,215.7 L725.6,214.1 L724.8,212.5 L723.8,211 L722.6,209.8 L721.3,208.9 L720,208.4 L718.8,208.4 L717.8,208.7" stroke="#000" stroke-width="1.1" fill="none" stroke-linejoin="round" stroke-linecap="round" />
<path d="M727.7,218.7 L728.5,217.9 L729,216.8 L729.3,215.5 L729.1,213.9 L728.7,212.3 L727.9,210.7 L726.9,209.2 L725.7,208 L724.4,207.1 L723.1,206.6 L721.9,206.6 L720.9,206.9" stroke="#000" stroke-width="1.1" fill="none" stroke-linejoin="round" stroke-linecap="round" />
<path d="M730.8,216.9 L731.6,216.1 L732.2,215 L732.4,213.7 L732.2,212.1 L731.8,210.5 L731,208.9 L730,207.4 L728.8,206.2 L727.6,205.3 L726.3,204.8 L725,204.8 L724,205.1" stroke="#000" stroke-width="1.1" fill="none" stroke-linejoin="round" stroke-linecap="round" />
<path d="M733.9,215.1 L734.7,214.3 L735.3,213.2 L735.5,211.9 L735.4,210.3 L734.9,208.7 L734.2,207.1 L733.2,205.6 L732,204.4 L730.7,203.5 L729.4,203 L728.2,203 L727.1,203.3" stroke="#000" stroke-width="1.1" fill="none" stroke-linejoin="round" stroke-linecap="round" />
<path d="M778.3,173.3 C779.1,172.3 781.6,168.5 784,166 C786.4,163.5 793,155.7 796.6,154.4 C800.2,153.1 808.3,155 810.9,156 C813.5,157 815.1,159.8 816.2,161.6 C817.3,163.4 819.1,167.2 819.4,169.4 C819.7,171.6 819.9,175.9 818.8,177.9 C817.7,179.9 813.6,182.8 811,184.4 C808.4,186 802.3,188.5 799.2,189.6 C796.1,190.7 789,191.9 787.4,192.3" stroke="#000" stroke-width="2.24" fill="#fff" stroke-linejoin="round" stroke-linecap="round" />
<path d="M787.4,192.3 L786.1,197" stroke="#000" stroke-width="2.24" fill="none" stroke-linejoin="round" stroke-linecap="round" />
<path d="M760,184.4 L794,172.7" stroke="#000" stroke-width="2.24" fill="none" stroke-linejoin="round" stroke-linecap="round" />
<path d="M760,202 L800.5,177.9" stroke="#000" stroke-width="2.24" fill="none" stroke-linejoin="round" stroke-linecap="round" />
<path d="M794,172.7 C795,172.2 798.5,170.1 800,170 C801.5,169.9 802.2,170.3 803,172 C803.8,173.7 805.3,178.3 805,180 C804.7,181.7 802.5,181.2 801,182 C799.5,182.8 796.8,184.5 796,185" stroke="#000" stroke-width="1.7920000000000003" fill="none" stroke-linejoin="round" stroke-linecap="round" />
<path d="M784.5,161 L795,154.5" stroke="#000" stroke-width="1.4560000000000002" fill="none" stroke-linejoin="round" stroke-linecap="round" />
<path d="M793.8,166.5 L805,158" stroke="#000" stroke-width="1.4560000000000002" fill="none" stroke-linejoin="round" stroke-linecap="round" />
<path d="M780,159 L784,160" stroke="#000" stroke-width="1.344" fill="none" stroke-linejoin="round" stroke-linecap="round" />
<path d="M775,164 L779,169 L786,168" stroke="#000" stroke-width="1.344" fill="none" stroke-linejoin="round" stroke-linecap="round" />
<path d="M820.4,129.9 L820.7,129.7 L821,129.4 L821.2,129 L821.4,128.6 L821.6,128.2 L821.7,127.6 L821.7,127.1 L821.7,126.5 L821.6,125.8 L821.5,125.2 L821.3,124.5 L821.1,123.8 L820.9,123.1 L820.6,122.4 L820.2,121.7 L819.9,121 L819.5,120.3 L819,119.7 L818.6,119.1 L818.1,118.5 L817.6,118 L817.1,117.5 L816.5,117.1 L816,116.7 L815.5,116.4 L815,116.1 L814.5,115.9 L814,115.8 L813.6,115.8 L813.2,115.8 L812.8,115.9 L812.4,116.1 L812.1,116.3 L811.8,116.6 L811.6,117 L811.4,117.4 L811.2,117.8 L811.1,118.4 L811.1,118.9 L811.1,119.5 L811.2,120.2 L811.3,120.8 L811.5,121.5 L811.7,122.2 L811.9,122.9 L812.2,123.6 L812.6,124.3 L812.9,125 L813.3,125.7 L813.8,126.3 L814.2,126.9 L814.7,127.5 L815.2,128 L815.7,128.5 L816.3,128.9 L816.8,129.3 L817.3,129.6 L817.8,129.9 L818.3,130.1 L818.8,130.2 L819.2,130.2 L819.6,130.2 L820,130.1 L820.4,129.9 Z" stroke="#000" stroke-width="2.0160000000000005" fill="none" stroke-linejoin="round" stroke-linecap="round" />
<path d="M819.4,128.2 L819.6,128 L819.8,127.8 L820,127.5 L820.2,127.2 L820.3,126.9 L820.3,126.5 L820.4,126.1 L820.4,125.6 L820.3,125.1 L820.2,124.6 L820.1,124.1 L819.9,123.6 L819.8,123.1 L819.5,122.5 L819.3,122 L819,121.5 L818.7,121 L818.4,120.5 L818,120.1 L817.7,119.6 L817.3,119.2 L816.9,118.9 L816.5,118.5 L816.1,118.3 L815.7,118 L815.3,117.8 L815,117.7 L814.6,117.6 L814.3,117.6 L814,117.6 L813.7,117.7 L813.4,117.8 L813.2,118 L813,118.2 L812.8,118.5 L812.6,118.8 L812.5,119.1 L812.5,119.5 L812.4,119.9 L812.4,120.4 L812.5,120.9 L812.6,121.4 L812.7,121.9 L812.9,122.4 L813,122.9 L813.3,123.5 L813.5,124 L813.8,124.5 L814.1,125 L814.4,125.5 L814.8,125.9 L815.1,126.4 L815.5,126.8 L815.9,127.1 L816.3,127.5 L816.7,127.7 L817.1,128 L817.5,128.2 L817.8,128.3 L818.2,128.4 L818.5,128.4 L818.8,128.4 L819.1,128.3 L819.4,128.2 Z" stroke="#000" stroke-width="1.0" fill="none" stroke-linejoin="round" stroke-linecap="round" />
<path d="M838.5,123.4 L839.1,123 L839.5,122.6 L839.9,122 L840.2,121.4 L840.5,120.7 L840.6,119.9 L840.7,119.1 L840.7,118.2 L840.7,117.3 L840.5,116.3 L840.3,115.3 L840.1,114.3 L839.7,113.3 L839.3,112.2 L838.8,111.2 L838.3,110.2 L837.7,109.3 L837.1,108.4 L836.4,107.5 L835.7,106.7 L834.9,105.9 L834.2,105.2 L833.4,104.6 L832.6,104.1 L831.8,103.7 L831.1,103.4 L830.3,103.1 L829.6,103 L828.9,103 L828.2,103 L827.6,103.2 L827,103.4 L826.5,103.8 L826.1,104.2 L825.7,104.8 L825.4,105.4 L825.1,106.1 L825,106.9 L824.9,107.7 L824.9,108.6 L824.9,109.5 L825.1,110.5 L825.3,111.5 L825.5,112.5 L825.9,113.5 L826.3,114.6 L826.8,115.6 L827.3,116.6 L827.9,117.5 L828.5,118.4 L829.2,119.3 L829.9,120.1 L830.7,120.9 L831.4,121.6 L832.2,122.2 L833,122.7 L833.8,123.1 L834.5,123.4 L835.3,123.7 L836,123.8 L836.7,123.8 L837.4,123.8 L838,123.6 L838.5,123.4 Z" stroke="#000" stroke-width="2.24" fill="#fff" stroke-linejoin="round" stroke-linecap="round" />
<path d="M836.8,120.3 L837.2,120.1 L837.5,119.8 L837.7,119.4 L838,119 L838.1,118.5 L838.2,117.9 L838.3,117.4 L838.3,116.7 L838.3,116.1 L838.2,115.4 L838,114.7 L837.9,114 L837.6,113.3 L837.3,112.6 L837,111.9 L836.6,111.2 L836.2,110.5 L835.8,109.9 L835.3,109.3 L834.8,108.7 L834.3,108.2 L833.7,107.7 L833.2,107.3 L832.7,106.9 L832.1,106.6 L831.6,106.4 L831.1,106.3 L830.6,106.2 L830.1,106.1 L829.6,106.2 L829.2,106.3 L828.8,106.5 L828.4,106.7 L828.1,107 L827.9,107.4 L827.6,107.8 L827.5,108.3 L827.4,108.9 L827.3,109.4 L827.3,110.1 L827.3,110.7 L827.4,111.4 L827.6,112.1 L827.7,112.8 L828,113.5 L828.3,114.2 L828.6,114.9 L829,115.6 L829.4,116.3 L829.8,116.9 L830.3,117.5 L830.8,118.1 L831.3,118.6 L831.9,119.1 L832.4,119.5 L832.9,119.9 L833.5,120.2 L834,120.4 L834.5,120.5 L835,120.6 L835.5,120.7 L836,120.6 L836.4,120.5 L836.8,120.3 Z" stroke="#000" stroke-width="1.344" fill="none" stroke-linejoin="round" stroke-linecap="round" />
<path d="M835,117.3 L835.2,117.2 L835.4,117 L835.6,116.8 L835.7,116.5 L835.8,116.3 L835.9,116 L835.9,115.6 L835.9,115.3 L835.9,114.9 L835.8,114.5 L835.8,114.1 L835.6,113.7 L835.5,113.3 L835.3,112.9 L835.2,112.6 L834.9,112.2 L834.7,111.8 L834.5,111.4 L834.2,111.1 L833.9,110.8 L833.6,110.5 L833.3,110.2 L833,110 L832.7,109.8 L832.4,109.6 L832.1,109.5 L831.8,109.4 L831.5,109.3 L831.3,109.3 L831,109.3 L830.8,109.4 L830.5,109.5 L830.4,109.6 L830.2,109.8 L830,110 L829.9,110.3 L829.8,110.5 L829.7,110.8 L829.7,111.2 L829.7,111.5 L829.7,111.9 L829.8,112.3 L829.8,112.7 L830,113.1 L830.1,113.5 L830.3,113.9 L830.4,114.2 L830.7,114.6 L830.9,115 L831.1,115.4 L831.4,115.7 L831.7,116 L832,116.3 L832.3,116.6 L832.6,116.8 L832.9,117 L833.2,117.2 L833.5,117.3 L833.8,117.4 L834.1,117.5 L834.3,117.5 L834.6,117.5 L834.8,117.4 L835,117.3 Z" stroke="#000" stroke-width="1.7920000000000003" fill="none" stroke-linejoin="round" stroke-linecap="round" />
<path d="M843.7,95.7 C844.4,95.3 846.4,93 848,93.2 C849.7,93.4 852.1,94.9 853.6,96.9 C855.2,98.9 856.8,103.1 857.3,105.2 C857.7,107.3 857.2,108.5 856.2,109.3 C855.1,110.1 852.5,110.9 850.8,110.1 C849.2,109.3 847.2,105.4 846.5,104.5" stroke="#000" stroke-width="2.24" fill="none" stroke-linejoin="round" stroke-linecap="round" />
<path d="M855.4,104 L861.4,106.3 L859.3,108.7" stroke="#000" stroke-width="1.7920000000000003" fill="none" stroke-linejoin="round" stroke-linecap="round" />
<path d="M871.7,77.7 L871.1,78.1 L870.7,78.5 L870.3,79 L869.9,79.6 L869.6,80.3 L869.4,81 L869.3,81.8 L869.2,82.7 L869.2,83.5 L869.3,84.5 L869.5,85.4 L869.7,86.3 L870,87.3 L870.4,88.2 L870.8,89.1 L871.3,90.1 L871.8,90.9 L872.4,91.8 L873.1,92.6 L873.7,93.3 L874.4,94 L875.2,94.6 L875.9,95.1 L876.6,95.5 L877.4,95.9 L878.2,96.2 L878.9,96.4 L879.6,96.4 L880.3,96.4 L881,96.4 L881.6,96.2 L882.2,95.9 L890,91.4 L890.5,91 L891,90.6 L891.4,90.1 L891.7,89.5 L892,88.8 L892.2,88.1 L892.4,87.3 L892.4,86.4 L892.4,85.6 L892.3,84.6 L892.2,83.7 L891.9,82.8 L891.6,81.8 L891.3,80.9 L890.8,80 L890.4,79 L889.8,78.2 L889.2,77.3 L888.6,76.5 L887.9,75.8 L887.2,75.1 L886.5,74.5 L885.7,74 L885,73.6 L884.2,73.2 L883.5,72.9 L882.7,72.7 L882,72.7 L881.3,72.7 L880.7,72.7 L880,72.9 L879.5,73.2 Z" stroke="none" stroke-width="0.01" fill="#fff" stroke-linejoin="round" stroke-linecap="round" />
<path d="M882.2,95.9 L882.7,95.5 L883.2,95.1 L883.6,94.6 L883.9,94 L884.2,93.3 L884.4,92.6 L884.6,91.8 L884.6,90.9 L884.6,90.1 L884.5,89.1 L884.4,88.2 L884.1,87.3 L883.8,86.3 L883.5,85.4 L883,84.5 L882.6,83.5 L882,82.7 L881.4,81.8 L880.8,81 L880.1,80.3 L879.4,79.6 L878.7,79 L877.9,78.5 L877.2,78.1 L876.4,77.7 L875.7,77.4 L874.9,77.2 L874.2,77.2 L873.5,77.2 L872.9,77.2 L872.3,77.4 L871.7,77.7 L871.1,78.1 L870.7,78.5 L870.3,79 L869.9,79.6 L869.6,80.3 L869.4,81 L869.3,81.8 L869.2,82.7 L869.2,83.5 L869.3,84.5 L869.5,85.4 L869.7,86.3 L870,87.3 L870.4,88.2 L870.8,89.1 L871.3,90.1 L871.8,90.9 L872.4,91.8 L873.1,92.6 L873.7,93.3 L874.4,94 L875.2,94.6 L875.9,95.1 L876.6,95.5 L877.4,95.9 L878.2,96.2 L878.9,96.4 L879.6,96.4 L880.3,96.4 L881,96.4 L881.6,96.2 L882.2,95.9 Z" stroke="#000" stroke-width="2.128" fill="none" stroke-linejoin="round" stroke-linecap="round" />
<path d="M890,91.4 L890.5,91 L891,90.6 L891.4,90.1 L891.7,89.5 L892,88.8 L892.2,88.1 L892.4,87.3 L892.4,86.4 L892.4,85.6 L892.3,84.6 L892.2,83.7 L891.9,82.8 L891.6,81.8 L891.3,80.9 L890.8,80 L890.4,79 L889.8,78.2 L889.2,77.3 L888.6,76.5 L887.9,75.8 L887.2,75.1 L886.5,74.5 L885.7,74 L885,73.6 L884.2,73.2 L883.5,72.9 L882.7,72.7 L882,72.7 L881.3,72.7 L880.7,72.7 L880,72.9 L879.5,73.2" stroke="#000" stroke-width="2.128" fill="none" stroke-linejoin="round" stroke-linecap="round" />
<path d="M871.7,77.7 L879.5,73.2" stroke="#000" stroke-width="2.128" fill="none" stroke-linejoin="round" stroke-linecap="round" />
<path d="M882.2,95.9 L890,91.4" stroke="#000" stroke-width="2.128" fill="none" stroke-linejoin="round" stroke-linecap="round" />
<path d="M880.4,92.9 L880.7,92.7 L881,92.4 L881.2,92.2 L881.4,91.9 L881.6,91.6 L881.7,91.2 L881.9,90.8 L882,90.4 L882,90 L882.1,89.6 L882.1,89.1 L882,88.6 L882,88.1 L881.9,87.6 L881.7,87.1 L881.6,86.6 L881.4,86.1 L881.2,85.6 L880.9,85.1 L880.7,84.6 L880.4,84.2 L880.1,83.7 L879.8,83.3 L879.4,82.9 L879.1,82.5 L878.7,82.1 L878.3,81.8 L877.9,81.5 L877.5,81.2 L877.1,81 L876.7,80.8 L876.3,80.6 L875.9,80.5 L875.5,80.4 L875.1,80.4 L874.8,80.4 L874.4,80.4 L874.1,80.5 L873.7,80.6 L873.4,80.7" stroke="#000" stroke-width="1.344" fill="none" stroke-linejoin="round" stroke-linecap="round" />
<path d="M859.6,90.8 L859.3,91 L859.1,91.2 L858.9,91.5 L858.7,91.8 L858.6,92.1 L858.5,92.5 L858.4,92.8 L858.4,93.3 L858.4,93.7 L858.4,94.1 L858.5,94.6 L858.6,95.1 L858.8,95.5 L859,96 L859.2,96.5 L859.4,96.9 L859.7,97.3 L860,97.8 L860.3,98.1 L860.6,98.5 L861,98.8 L861.3,99.1 L861.7,99.4 L862.1,99.6 L862.4,99.8 L862.8,99.9 L863.2,100 L863.5,100.1 L863.9,100.1 L864.2,100 L864.5,99.9 L864.8,99.8 L879.5,91.3 L879.8,91.1 L880,90.9 L880.2,90.6 L880.4,90.3 L880.5,90 L880.6,89.6 L880.7,89.3 L880.7,88.8 L880.7,88.4 L880.7,88 L880.6,87.5 L880.5,87 L880.3,86.6 L880.2,86.1 L880,85.6 L879.7,85.2 L879.4,84.8 L879.2,84.3 L878.8,84 L878.5,83.6 L878.2,83.3 L877.8,83 L877.4,82.7 L877.1,82.5 L876.7,82.3 L876.3,82.2 L875.9,82.1 L875.6,82 L875.2,82 L874.9,82.1 L874.6,82.2 L874.3,82.3 Z" stroke="none" stroke-width="0.01" fill="#fff" stroke-linejoin="round" stroke-linecap="round" />
<path d="M864.8,99.8 L865.1,99.6 L865.3,99.4 L865.5,99.1 L865.7,98.8 L865.8,98.5 L865.9,98.1 L866,97.8 L866,97.3 L866,96.9 L866,96.5 L865.9,96 L865.8,95.5 L865.6,95.1 L865.4,94.6 L865.2,94.1 L865,93.7 L864.7,93.3 L864.4,92.8 L864.1,92.5 L863.8,92.1 L863.4,91.8 L863.1,91.5 L862.7,91.2 L862.3,91 L862,90.8 L861.6,90.7 L861.2,90.6 L860.9,90.5 L860.5,90.5 L860.2,90.6 L859.9,90.7 L859.6,90.8 L859.3,91 L859.1,91.2 L858.9,91.5 L858.7,91.8 L858.6,92.1 L858.5,92.5 L858.4,92.8 L858.4,93.3 L858.4,93.7 L858.4,94.1 L858.5,94.6 L858.6,95.1 L858.8,95.5 L859,96 L859.2,96.5 L859.4,96.9 L859.7,97.3 L860,97.8 L860.3,98.1 L860.6,98.5 L861,98.8 L861.3,99.1 L861.7,99.4 L862.1,99.6 L862.4,99.8 L862.8,99.9 L863.2,100 L863.5,100.1 L863.9,100.1 L864.2,100 L864.5,99.9 L864.8,99.8 Z" stroke="#000" stroke-width="2.0160000000000005" fill="none" stroke-linejoin="round" stroke-linecap="round" />
<path d="M879.5,91.3 L879.8,91.1 L880,90.9 L880.2,90.6 L880.4,90.3 L880.5,90 L880.6,89.6 L880.7,89.3 L880.7,88.8 L880.7,88.4 L880.7,88 L880.6,87.5 L880.5,87 L880.3,86.6 L880.2,86.1 L880,85.6 L879.7,85.2 L879.4,84.8 L879.2,84.3 L878.8,84 L878.5,83.6 L878.2,83.3 L877.8,83 L877.4,82.7 L877.1,82.5 L876.7,82.3 L876.3,82.2 L875.9,82.1 L875.6,82 L875.2,82 L874.9,82.1 L874.6,82.2 L874.3,82.3" stroke="#000" stroke-width="2.0160000000000005" fill="none" stroke-linejoin="round" stroke-linecap="round" />
<path d="M859.6,90.8 L874.3,82.3" stroke="#000" stroke-width="2.0160000000000005" fill="none" stroke-linejoin="round" stroke-linecap="round" />
<path d="M864.8,99.8 L879.5,91.3" stroke="#000" stroke-width="2.0160000000000005" fill="none" stroke-linejoin="round" stroke-linecap="round" />
<path d="M869.3,97.2 L870,96.5 L870.4,95.4 L870.5,94 L870.2,92.6 L869.5,91.1 L868.6,89.8 L867.4,88.7 L866.2,88.1 L865.1,87.9 L864.1,88.2" stroke="#000" stroke-width="1.1" fill="none" stroke-linejoin="round" stroke-linecap="round" />
<path d="M872.1,95.6 L872.8,94.9 L873.2,93.8 L873.3,92.4 L872.9,91 L872.3,89.5 L871.3,88.2 L870.2,87.1 L869,86.5 L867.9,86.3 L866.9,86.6" stroke="#000" stroke-width="1.1" fill="none" stroke-linejoin="round" stroke-linecap="round" />
<path d="M874.8,94 L875.6,93.3 L876,92.2 L876,90.8 L875.7,89.4 L875,87.9 L874.1,86.6 L873,85.5 L871.8,84.9 L870.6,84.7 L869.6,85" stroke="#000" stroke-width="1.1" fill="none" stroke-linejoin="round" stroke-linecap="round" />
<path d="M877.6,92.4 L878.4,91.7 L878.8,90.6 L878.8,89.2 L878.5,87.8 L877.8,86.3 L876.9,85 L875.7,83.9 L874.6,83.3 L873.4,83.1 L872.4,83.4" stroke="#000" stroke-width="1.1" fill="none" stroke-linejoin="round" stroke-linecap="round" />
<path d="M790.8,137.3 L862,95" stroke="#666" stroke-width="0.8" fill="none" stroke-linejoin="round" stroke-linecap="round" />
<path d="M525,205 L530,205.5 L538,209 L534,213 L526,213.5 Z" stroke="#000" stroke-width="1.6800000000000002" fill="#fff" stroke-linejoin="round" stroke-linecap="round" />
<path d="M503.4,195.6 L502.8,196.1 L502.2,196.7 L501.7,197.4 L501.3,198.1 L501,198.9 L500.7,199.8 L500.6,200.7 L500.5,201.7 L500.6,202.7 L500.7,203.7 L500.9,204.7 L501.2,205.8 L501.6,206.8 L502.1,207.8 L502.6,208.8 L503.2,209.7 L503.9,210.6 L504.6,211.5 L505.4,212.3 L506.3,213 L507.1,213.6 L508,214.2 L508.9,214.6 L509.9,215 L510.8,215.3 L511.7,215.5 L512.6,215.5 L513.5,215.5 L514.3,215.4 L515.1,215.2 L515.9,214.8 L516.6,214.4 L524.8,208.7 L525.4,208.2 L526,207.6 L526.5,206.9 L526.9,206.1 L527.2,205.3 L527.4,204.5 L527.6,203.5 L527.7,202.6 L527.6,201.6 L527.5,200.5 L527.3,199.5 L527,198.5 L526.6,197.5 L526.1,196.4 L525.6,195.5 L525,194.5 L524.3,193.6 L523.6,192.8 L522.8,192 L521.9,191.3 L521.1,190.6 L520.2,190.1 L519.2,189.6 L518.3,189.2 L517.4,189 L516.5,188.8 L515.6,188.7 L514.7,188.7 L513.8,188.9 L513,189.1 L512.3,189.4 L511.6,189.8 Z" stroke="none" stroke-width="0.01" fill="#fff" stroke-linejoin="round" stroke-linecap="round" />
<path d="M516.6,214.4 L517.2,213.9 L517.8,213.3 L518.3,212.6 L518.7,211.9 L519,211.1 L519.3,210.2 L519.4,209.3 L519.5,208.3 L519.4,207.3 L519.3,206.3 L519.1,205.3 L518.8,204.2 L518.4,203.2 L517.9,202.2 L517.4,201.2 L516.8,200.3 L516.1,199.4 L515.4,198.5 L514.6,197.7 L513.7,197 L512.9,196.4 L512,195.8 L511.1,195.4 L510.1,195 L509.2,194.7 L508.3,194.5 L507.4,194.5 L506.5,194.5 L505.7,194.6 L504.9,194.8 L504.1,195.2 L503.4,195.6 L502.8,196.1 L502.2,196.7 L501.7,197.4 L501.3,198.1 L501,198.9 L500.7,199.8 L500.6,200.7 L500.5,201.7 L500.6,202.7 L500.7,203.7 L500.9,204.7 L501.2,205.8 L501.6,206.8 L502.1,207.8 L502.6,208.8 L503.2,209.7 L503.9,210.6 L504.6,211.5 L505.4,212.3 L506.3,213 L507.1,213.6 L508,214.2 L508.9,214.6 L509.9,215 L510.8,215.3 L511.7,215.5 L512.6,215.5 L513.5,215.5 L514.3,215.4 L515.1,215.2 L515.9,214.8 L516.6,214.4 Z" stroke="#000" stroke-width="2.3520000000000003" fill="none" stroke-linejoin="round" stroke-linecap="round" />
<path d="M524.8,208.7 L525.4,208.2 L526,207.6 L526.5,206.9 L526.9,206.1 L527.2,205.3 L527.4,204.5 L527.6,203.5 L527.7,202.6 L527.6,201.6 L527.5,200.5 L527.3,199.5 L527,198.5 L526.6,197.5 L526.1,196.4 L525.6,195.5 L525,194.5 L524.3,193.6 L523.6,192.8 L522.8,192 L521.9,191.3 L521.1,190.6 L520.2,190.1 L519.2,189.6 L518.3,189.2 L517.4,189 L516.5,188.8 L515.6,188.7 L514.7,188.7 L513.8,188.9 L513,189.1 L512.3,189.4 L511.6,189.8" stroke="#000" stroke-width="2.3520000000000003" fill="none" stroke-linejoin="round" stroke-linecap="round" />
<path d="M503.4,195.6 L511.6,189.8" stroke="#000" stroke-width="2.3520000000000003" fill="none" stroke-linejoin="round" stroke-linecap="round" />
<path d="M516.6,214.4 L524.8,208.7" stroke="#000" stroke-width="2.3520000000000003" fill="none" stroke-linejoin="round" stroke-linecap="round" />
<path d="M514.6,211.6 L515,211.2 L515.4,210.8 L515.8,210.3 L516,209.8 L516.3,209.2 L516.4,208.6 L516.5,208 L516.6,207.3 L516.6,206.6 L516.5,205.9 L516.3,205.2 L516.1,204.5 L515.8,203.7 L515.5,203 L515.1,202.4 L514.7,201.7 L514.2,201.1 L513.7,200.5 L513.2,199.9 L512.6,199.4 L512,199 L511.4,198.6 L510.7,198.3 L510.1,198 L509.4,197.8 L508.8,197.7 L508.2,197.7 L507.6,197.7 L507,197.8 L506.4,197.9 L505.9,198.2 L505.4,198.4 L505,198.8 L504.6,199.2 L504.2,199.7 L504,200.2 L503.7,200.8 L503.6,201.4 L503.5,202 L503.4,202.7 L503.4,203.4 L503.5,204.1 L503.7,204.8 L503.9,205.5 L504.2,206.3 L504.5,207 L504.9,207.6 L505.3,208.3 L505.8,208.9 L506.3,209.5 L506.8,210.1 L507.4,210.6 L508,211 L508.6,211.4 L509.3,211.7 L509.9,212 L510.6,212.2 L511.2,212.3 L511.8,212.3 L512.4,212.3 L513,212.2 L513.6,212.1 L514.1,211.8 L514.6,211.6 Z" stroke="#000" stroke-width="1.6800000000000002" fill="none" stroke-linejoin="round" stroke-linecap="round" />
<path d="M512.9,209.1 L513.1,208.9 L513.4,208.6 L513.6,208.3 L513.8,208 L513.9,207.6 L514,207.3 L514.1,206.9 L514.1,206.4 L514.1,206 L514,205.6 L514,205.1 L513.8,204.7 L513.7,204.2 L513.5,203.8 L513.2,203.3 L512.9,202.9 L512.7,202.5 L512.3,202.2 L512,201.8 L511.6,201.5 L511.2,201.2 L510.9,201 L510.5,200.8 L510.1,200.6 L509.7,200.5 L509.3,200.4 L508.9,200.4 L508.5,200.4 L508.1,200.5 L507.8,200.6 L507.4,200.7 L507.1,200.9 L506.9,201.1 L506.6,201.4 L506.4,201.7 L506.2,202 L506.1,202.4 L506,202.7 L505.9,203.1 L505.9,203.6 L505.9,204 L506,204.4 L506,204.9 L506.2,205.3 L506.3,205.8 L506.5,206.2 L506.8,206.7 L507.1,207.1 L507.3,207.5 L507.7,207.8 L508,208.2 L508.4,208.5 L508.8,208.8 L509.1,209 L509.5,209.2 L509.9,209.4 L510.3,209.5 L510.7,209.6 L511.1,209.6 L511.5,209.6 L511.9,209.5 L512.2,209.4 L512.6,209.3 L512.9,209.1 Z" stroke="#000" stroke-width="1.568" fill="none" stroke-linejoin="round" stroke-linecap="round" />
<path d="M750,312 L750,344 L753,348 L766,348 L769,344 L769,312" stroke="#000" stroke-width="2.0160000000000005" fill="#fff" stroke-linejoin="round" stroke-linecap="round" />
<ellipse cx="760.8" cy="306" rx="16.5" ry="6.5" fill="#fff" stroke="#000" stroke-width="1.8"/>
<path d="M744.3,301 L744.3,306 M777.3,301 L777.3,306" stroke="#000" stroke-width="1.8"/>
<ellipse cx="760.8" cy="300" rx="16.5" ry="7.5" fill="#fff" stroke="#000" stroke-width="1.8"/>
<path d="M755,298 L766,298 M760.8,293.5 L760.8,302" stroke="#000" stroke-width="2.2"/>
<path d="M578.1,363.7 L586.9,374.9 L592.5,390.9 L604,385 L606.1,373.3 L594.1,354.2 Z" stroke="none" stroke-width="0.01" fill="#fff" stroke-linejoin="round" stroke-linecap="round" />
<path d="M565.4,362.1 C565.9,360.5 572.2,354 574,352 C575.8,350 581.2,343.3 582.9,342.2 C584.6,341.1 589.7,341 590.9,341 C592.1,341 594.2,341.4 594.9,342.2 C595.6,343 598.3,347.7 598.1,348.6 C597.9,349.5 594.5,349.7 592.5,351 C590.5,352.3 580.5,359.6 578.1,361.3 C575.7,363 569.9,367.6 568.6,367.7 C567.3,367.8 564.9,363.7 565.4,362.1 Z" stroke="#000" stroke-width="2.128" fill="#fff" stroke-linejoin="round" stroke-linecap="round" />
<path d="M568,366 L592.5,350.5" stroke="#000" stroke-width="1.4560000000000002" fill="none" stroke-linejoin="round" stroke-linecap="round" />
<path d="M578.1,363.7 C579.6,365.6 584.5,370.4 586.9,374.9 C589.3,379.4 591.6,388.2 592.5,390.9" stroke="#000" stroke-width="2.128" fill="none" stroke-linejoin="round" stroke-linecap="round" />
<path d="M594.1,354.2 C595.1,355.7 598,359.8 600,363 C602,366.2 605.1,371.6 606.1,373.3" stroke="#000" stroke-width="2.128" fill="none" stroke-linejoin="round" stroke-linecap="round" />
<path d="M547,523 C555.6,518.4 574,508.6 590,500 C606,491.4 617,487.6 627,480 C637,472.4 636.6,472 640,462 C643.4,452 643.3,442.4 644,430 C644.7,417.6 643.9,409.4 643.5,400 C643.1,390.6 643.3,388.8 642,383 C640.7,377.2 639.8,374.2 637,371 C634.2,367.8 632,367.3 628,367 C624,366.7 620.8,367.5 617,369.5 C613.2,371.5 611.6,372.9 609,377 C606.4,381.1 605.4,385.8 604,390 C602.6,394.2 602.4,396.4 602,398" stroke="#000" stroke-width="6.048000000000001" fill="none" stroke-linejoin="round" stroke-linecap="round" />
<path d="M547,523 C555.6,518.4 574,508.6 590,500 C606,491.4 617,487.6 627,480 C637,472.4 636.6,472 640,462 C643.4,452 643.3,442.4 644,430 C644.7,417.6 643.9,409.4 643.5,400 C643.1,390.6 643.3,388.8 642,383 C640.7,377.2 639.8,374.2 637,371 C634.2,367.8 632,367.3 628,367 C624,366.7 620.8,367.5 617,369.5 C613.2,371.5 611.6,372.9 609,377 C606.4,381.1 605.4,385.8 604,390 C602.6,394.2 602.4,396.4 602,398" stroke="#fff" stroke-width="2.6" fill="none" stroke-linejoin="round" stroke-linecap="round" />
<ellipse cx="587.5" cy="389" rx="4.2" ry="8.5" transform="rotate(-25 587.5 389)" fill="none" stroke="#000" stroke-width="1.9"/>
<ellipse cx="588.5" cy="389" rx="2" ry="5" transform="rotate(-25 588.5 389)" fill="none" stroke="#000" stroke-width="1.2"/>
<ellipse cx="611.5" cy="388" rx="4.5" ry="8.5" transform="rotate(25 611.5 388)" fill="none" stroke="#000" stroke-width="1.9"/>
<ellipse cx="611" cy="388" rx="2.2" ry="5" transform="rotate(25 611 388)" fill="none" stroke="#000" stroke-width="1.2"/>
<path d="M588,398 C589.7,398.5 594.3,401.2 598,401 C601.7,400.8 605.7,396.5 610,397 C614.3,397.5 621.7,402.8 624,404" stroke="#000" stroke-width="1.9040000000000001" fill="none" stroke-linejoin="round" stroke-linecap="round" />
<path d="M590,402 C591.7,402.5 596.3,405 600,405 C603.7,405 610,402.5 612,402" stroke="#000" stroke-width="1.568" fill="none" stroke-linejoin="round" stroke-linecap="round" />
<path d="M545,438.4 C545.2,434.6 548.6,421 551.2,418.2 C553.8,415.4 567.1,412.2 571.4,410.7 C575.7,409.2 588.7,403.7 594,403.1 C599.3,402.5 621,403.6 624.4,404.4 C627.8,405.2 627.9,408.7 628.1,410.7 C628.4,412.7 628.5,422.4 626.9,424.5 C625.3,426.6 613.3,430 611.7,432.1 C610.1,434.2 611.8,443.9 610.5,446 C609.2,448.1 600.7,451.5 599.1,453.5 C597.5,455.5 596.4,464.1 594.1,466.1 C591.8,468.1 579.3,473.3 576.5,473.7 C573.7,474.1 569.2,471.7 566.4,469.9 C563.6,468.1 550.8,459.1 548.7,456 C546.6,452.9 544.8,442.2 545,438.4 Z" stroke="#000" stroke-width="2.0160000000000005" fill="#fff" stroke-linejoin="round" stroke-linecap="round" />
<ellipse cx="584" cy="447.5" rx="17" ry="24.5" transform="rotate(-22 584 447.5)" fill="#fff" stroke="#000" stroke-width="1.6"/>
<ellipse cx="588" cy="448" rx="12.5" ry="21.5" transform="rotate(-22 588 448)" fill="none" stroke="#000" stroke-width="1.3"/>
<path d="M604,395 L612,402 L622,404" stroke="#000" stroke-width="1.7920000000000003" fill="none" stroke-linejoin="round" stroke-linecap="round" />
<path d="M594,403 L600,398 L612,400" stroke="#000" stroke-width="1.568" fill="none" stroke-linejoin="round" stroke-linecap="round" />
<path d="M498.8,536.2 L513.5,544.4 L546.5,525.5 L531.8,517.3 Z" stroke="#000" stroke-width="2.128" fill="#fff" stroke-linejoin="round" stroke-linecap="round" />
<path d="M513.5,544.4 L514.1,554.4 L547.1,536 L546.5,525.5 Z" stroke="#000" stroke-width="2.128" fill="#fff" stroke-linejoin="round" stroke-linecap="round" />
<path d="M498.8,536.2 L513.5,544.4 L514.1,554.4 L498.8,546.2 Z" stroke="#000" stroke-width="2.128" fill="#fff" stroke-linejoin="round" stroke-linecap="round" />
<path d="M502.3,540 L510.5,544.5 L510.8,551.5 L502.5,547 Z" stroke="#000" stroke-width="1.6800000000000002" fill="none" stroke-linejoin="round" stroke-linecap="round" />
<path d="M508,535.5 L512,529 L517,526.5 L530,515.5 L542,523 L519.5,536.5 L517.5,532.5 L512,535 L518.5,538.5" stroke="#000" stroke-width="1.9040000000000001" fill="#fff" stroke-linejoin="round" stroke-linecap="round" />
<path d="M517,526.5 L520,531 L517.5,532.5" stroke="#000" stroke-width="1.568" fill="none" stroke-linejoin="round" stroke-linecap="round" />
<path d="M985,548 C986.4,542 1000.6,541.2 1004,540 C1007.4,538.8 1016.1,536.1 1019,536 C1021.9,535.9 1031.1,538 1033,539 C1034.9,540 1035.3,543.9 1038,546 C1040.7,548.1 1056,557.1 1060,560 C1064,562.9 1074.3,570.4 1078,575 C1081.7,579.6 1094.3,600 1097,606 C1099.7,612 1104.4,630.3 1105,635 C1105.6,639.7 1104.8,649.3 1103,653 C1101.2,656.7 1093.3,667.8 1087,672 C1080.7,676.2 1049.1,690.5 1040,695 C1030.9,699.5 1002.5,713.2 996,717 C989.5,720.8 978.6,734.7 975,733 C971.4,731.3 958.5,713.3 960,700 C961.5,686.7 987.5,615.2 990,600 C992.5,584.8 983.6,554 985,548 Z" stroke="none" stroke-width="0.01" fill="#fff" stroke-linejoin="round" stroke-linecap="round" />
<path d="M990,554.4 C992.5,552.7 1001.4,547 1005.1,544.3 C1008.8,541.6 1009.9,539.4 1012,538 C1014.1,536.6 1015.6,536.1 1017.7,535.9 C1019.8,535.7 1023.4,536.6 1024.5,536.8" stroke="#000" stroke-width="2.128" fill="none" stroke-linejoin="round" stroke-linecap="round" />
<path d="M990,557 L998.4,568.7 L1025.3,553.6 L1035.4,546.8" stroke="#000" stroke-width="2.128" fill="none" stroke-linejoin="round" stroke-linecap="round" />
<path d="M1025.3,553.6 L1024,544 L1016,540" stroke="#000" stroke-width="1.6800000000000002" fill="none" stroke-linejoin="round" stroke-linecap="round" />
<path d="M1003,548 L1020,541" stroke="#000" stroke-width="1.344" fill="none" stroke-linejoin="round" stroke-linecap="round" />
<path d="M1031,536 C1031.7,536.5 1034,537.7 1035,539 C1036,540.3 1036.4,542.3 1037,544 C1037.6,545.7 1038.4,548.5 1038.7,549.4" stroke="#000" stroke-width="2.24" fill="none" stroke-linejoin="round" stroke-linecap="round" />
<path d="M1035.4,549.4 C1037.8,550.8 1045.1,554.9 1050,558 C1054.9,561.1 1060.2,564.8 1065,568 C1069.8,571.2 1076.7,575.6 1079,577.1" stroke="#000" stroke-width="2.128" fill="none" stroke-linejoin="round" stroke-linecap="round" />
<path d="M1025.3,555.3 C1028.6,557.1 1038.9,562.5 1045,566 C1051.1,569.5 1056.6,573 1062,576 C1067.4,579 1074.8,582.5 1077.4,583.8" stroke="#000" stroke-width="1.6800000000000002" fill="none" stroke-linejoin="round" stroke-linecap="round" />
<path d="M1027,538.4 L1034.5,533.3" stroke="#444" stroke-width="0.9" fill="none" stroke-linejoin="round" stroke-linecap="round" />
<path d="M1006.6,623.7 L1078,586.4" stroke="#000" stroke-width="2.0160000000000005" fill="none" stroke-linejoin="round" stroke-linecap="round" />
<path d="M996.2,718 L1086.5,672" stroke="#000" stroke-width="2.4640000000000004" fill="none" stroke-linejoin="round" stroke-linecap="round" />
<path d="M1078,577 C1080.3,579.2 1088.5,584.5 1092,590 C1095.5,595.5 1097.2,602.5 1099,610 C1100.8,617.5 1102.5,627.5 1103,635 C1103.5,642.5 1103.8,649.5 1102,655 C1100.2,660.5 1093.7,665.8 1092,668" stroke="#000" stroke-width="2.0160000000000005" fill="none" stroke-linejoin="round" stroke-linecap="round" />
<path d="M1078,577 C1079.3,576.5 1083.2,573.5 1086,574 C1088.8,574.5 1092.2,576.3 1095,580 C1097.8,583.7 1101.2,589.7 1103,596 C1104.8,602.3 1105.7,610.7 1106,618 C1106.3,625.3 1105.2,636.3 1105,640" stroke="#000" stroke-width="2.0160000000000005" fill="none" stroke-linejoin="round" stroke-linecap="round" />
<path d="M1086,574 L1096,570 L1104,585 L1112,598" stroke="#000" stroke-width="1.7920000000000003" fill="none" stroke-linejoin="round" stroke-linecap="round" />
<path d="M1109,581 C1109.6,581.4 1113.7,583.9 1115,585 C1116.3,586.1 1121.1,590.5 1122,592 C1122.9,593.5 1122.9,598.7 1124,600 C1125.1,601.3 1131.4,604.7 1133,605 C1134.6,605.3 1139.1,605 1140,603 C1140.9,601 1141.7,583.5 1142,585 C1142.3,586.5 1143.7,614.5 1143,618 C1142.3,621.5 1136.9,620.1 1135,620 C1133.1,619.9 1126,618 1124,617 C1122,616 1115.9,610.7 1115,610" stroke="#000" stroke-width="1.9040000000000001" fill="none" stroke-linejoin="round" stroke-linecap="round" />
<path d="M1086,626 L1113,615 L1114,621 L1089,632 Z" stroke="#000" stroke-width="1.7920000000000003" fill="#fff" stroke-linejoin="round" stroke-linecap="round" />
<path d="M1080.2,669.2 L1081.1,669.6 L1082,669.9 L1083.1,670 L1084.1,670 L1085.2,669.9 L1086.3,669.6 L1087.5,669.2 L1088.6,668.6 L1089.8,667.9 L1090.9,667.1 L1092,666.2 L1093.1,665.2 L1094.1,664.1 L1095.1,662.9 L1096,661.6 L1096.8,660.3 L1097.6,658.9 L1098.2,657.5 L1098.8,656 L1099.2,654.6 L1099.6,653.1 L1099.8,651.7 L1099.9,650.3 L1099.9,649 L1099.9,647.7 L1099.6,646.5 L1099.3,645.4 L1098.9,644.4 L1098.4,643.5 L1097.7,642.7 L1097,642 L1096.2,641.4 L1091.9,638.9 L1091,638.5 L1090.1,638.2 L1089,638.1 L1088,638.1 L1086.9,638.2 L1085.8,638.5 L1084.6,638.9 L1083.5,639.5 L1082.3,640.2 L1081.2,641 L1080.1,641.9 L1079,642.9 L1078,644 L1077,645.2 L1076.1,646.5 L1075.3,647.8 L1074.6,649.2 L1073.9,650.6 L1073.3,652.1 L1072.9,653.5 L1072.5,655 L1072.3,656.4 L1072.2,657.8 L1072.2,659.1 L1072.3,660.4 L1072.5,661.6 L1072.8,662.7 L1073.2,663.7 L1073.7,664.6 L1074.4,665.4 L1075.1,666.1 L1075.9,666.7 Z" stroke="none" stroke-width="0.01" fill="#fff" stroke-linejoin="round" stroke-linecap="round" />
<path d="M1096.2,641.4 L1095.3,641 L1094.4,640.7 L1093.4,640.6 L1092.3,640.6 L1091.2,640.7 L1090.1,641 L1089,641.4 L1087.8,642 L1086.7,642.7 L1085.5,643.5 L1084.4,644.4 L1083.3,645.4 L1082.3,646.5 L1081.4,647.7 L1080.5,649 L1079.6,650.3 L1078.9,651.7 L1078.2,653.1 L1077.7,654.6 L1077.2,656 L1076.9,657.5 L1076.6,658.9 L1076.5,660.3 L1076.5,661.6 L1076.6,662.9 L1076.8,664.1 L1077.1,665.2 L1077.5,666.2 L1078.1,667.1 L1078.7,667.9 L1079.4,668.6 L1080.2,669.2 L1081.1,669.6 L1082,669.9 L1083.1,670 L1084.1,670 L1085.2,669.9 L1086.3,669.6 L1087.5,669.2 L1088.6,668.6 L1089.8,667.9 L1090.9,667.1 L1092,666.2 L1093.1,665.2 L1094.1,664.1 L1095.1,662.9 L1096,661.6 L1096.8,660.3 L1097.6,658.9 L1098.2,657.5 L1098.8,656 L1099.2,654.6 L1099.6,653.1 L1099.8,651.7 L1099.9,650.3 L1099.9,649 L1099.9,647.7 L1099.6,646.5 L1099.3,645.4 L1098.9,644.4 L1098.4,643.5 L1097.7,642.7 L1097,642 L1096.2,641.4 Z" stroke="#000" stroke-width="2.24" fill="none" stroke-linejoin="round" stroke-linecap="round" />
<path d="M1091.9,638.9 L1091,638.5 L1090.1,638.2 L1089,638.1 L1088,638.1 L1086.9,638.2 L1085.8,638.5 L1084.6,638.9 L1083.5,639.5 L1082.3,640.2 L1081.2,641 L1080.1,641.9 L1079,642.9 L1078,644 L1077,645.2 L1076.1,646.5 L1075.3,647.8 L1074.6,649.2 L1073.9,650.6 L1073.3,652.1 L1072.9,653.5 L1072.5,655 L1072.3,656.4 L1072.2,657.8 L1072.2,659.1 L1072.3,660.4 L1072.5,661.6 L1072.8,662.7 L1073.2,663.7 L1073.7,664.6 L1074.4,665.4 L1075.1,666.1 L1075.9,666.7" stroke="#000" stroke-width="2.24" fill="none" stroke-linejoin="round" stroke-linecap="round" />
<path d="M1080.2,669.2 L1075.9,666.7" stroke="#000" stroke-width="2.24" fill="none" stroke-linejoin="round" stroke-linecap="round" />
<path d="M1096.2,641.4 L1091.9,638.9" stroke="#000" stroke-width="2.24" fill="none" stroke-linejoin="round" stroke-linecap="round" />
<path d="M1081.8,651.6 L1081.3,652.4 L1080.9,653.3 L1080.6,654.1 L1080.2,655 L1080,655.8 L1079.8,656.7 L1079.6,657.6 L1079.5,658.4 L1079.4,659.2 L1079.4,660 L1079.5,660.8 L1079.6,661.5 L1079.7,662.2 L1079.9,662.9 L1080.2,663.5 L1080.5,664 L1080.9,664.5 L1081.3,665 L1081.7,665.4 L1082.2,665.7 L1082.7,666 L1083.3,666.1 L1083.9,666.3 L1084.5,666.3 L1085.1,666.3 L1085.8,666.2 L1086.5,666.1 L1087.2,665.9 L1087.8,665.6 L1088.5,665.3 L1089.2,664.9 L1089.9,664.4 L1090.6,663.9 L1091.2,663.3 L1091.9,662.7 L1092.5,662 L1093.1,661.3 L1093.6,660.6 L1094.2,659.8 L1094.7,659" stroke="#000" stroke-width="1.4560000000000002" fill="none" stroke-linejoin="round" stroke-linecap="round" />
<path d="M1091.5,667.6 L1092,667.8 L1092.5,668 L1093.1,668.1 L1093.7,668.1 L1094.3,668 L1095,667.8 L1095.6,667.6 L1096.2,667.3 L1096.9,666.9 L1097.5,666.5 L1098.2,665.9 L1098.8,665.4 L1099.3,664.7 L1099.9,664.1 L1100.4,663.3 L1100.8,662.6 L1101.3,661.8 L1101.6,661 L1101.9,660.2 L1102.2,659.4 L1102.4,658.6 L1102.5,657.8 L1102.6,657 L1102.6,656.3 L1102.6,655.5 L1102.4,654.9 L1102.3,654.2 L1102,653.7 L1101.7,653.2 L1101.4,652.7 L1101,652.3 L1100.5,652 L1092.7,647.5 L1092.2,647.3 L1091.7,647.1 L1091.1,647 L1090.5,647 L1089.9,647.1 L1089.3,647.3 L1088.6,647.5 L1088,647.8 L1087.3,648.2 L1086.7,648.6 L1086.1,649.2 L1085.5,649.7 L1084.9,650.4 L1084.4,651 L1083.8,651.8 L1083.4,652.5 L1083,653.3 L1082.6,654.1 L1082.3,654.9 L1082,655.7 L1081.8,656.5 L1081.7,657.3 L1081.6,658.1 L1081.6,658.8 L1081.7,659.6 L1081.8,660.2 L1082,660.9 L1082.2,661.4 L1082.5,661.9 L1082.9,662.4 L1083.3,662.8 L1083.7,663.1 Z" stroke="none" stroke-width="0.01" fill="#fff" stroke-linejoin="round" stroke-linecap="round" />
<path d="M1100.5,652 L1100,651.8 L1099.5,651.6 L1098.9,651.5 L1098.3,651.5 L1097.7,651.6 L1097.1,651.8 L1096.4,652 L1095.8,652.3 L1095.1,652.7 L1094.5,653.1 L1093.9,653.7 L1093.3,654.2 L1092.7,654.9 L1092.1,655.5 L1091.6,656.3 L1091.2,657 L1090.8,657.8 L1090.4,658.6 L1090.1,659.4 L1089.8,660.2 L1089.6,661 L1089.5,661.8 L1089.4,662.6 L1089.4,663.3 L1089.5,664.1 L1089.6,664.7 L1089.8,665.4 L1090,665.9 L1090.3,666.4 L1090.7,666.9 L1091.1,667.3 L1091.5,667.6 L1092,667.8 L1092.5,668 L1093.1,668.1 L1093.7,668.1 L1094.3,668 L1095,667.8 L1095.6,667.6 L1096.2,667.3 L1096.9,666.9 L1097.5,666.5 L1098.2,665.9 L1098.8,665.4 L1099.3,664.7 L1099.9,664.1 L1100.4,663.3 L1100.8,662.6 L1101.3,661.8 L1101.6,661 L1101.9,660.2 L1102.2,659.4 L1102.4,658.6 L1102.5,657.8 L1102.6,657 L1102.6,656.3 L1102.6,655.5 L1102.4,654.9 L1102.3,654.2 L1102,653.7 L1101.7,653.2 L1101.4,652.7 L1101,652.3 L1100.5,652 Z" stroke="#000" stroke-width="2.128" fill="none" stroke-linejoin="round" stroke-linecap="round" />
<path d="M1092.7,647.5 L1092.2,647.3 L1091.7,647.1 L1091.1,647 L1090.5,647 L1089.9,647.1 L1089.3,647.3 L1088.6,647.5 L1088,647.8 L1087.3,648.2 L1086.7,648.6 L1086.1,649.2 L1085.5,649.7 L1084.9,650.4 L1084.4,651 L1083.8,651.8 L1083.4,652.5 L1083,653.3 L1082.6,654.1 L1082.3,654.9 L1082,655.7 L1081.8,656.5 L1081.7,657.3 L1081.6,658.1 L1081.6,658.8 L1081.7,659.6 L1081.8,660.2 L1082,660.9 L1082.2,661.4 L1082.5,661.9 L1082.9,662.4 L1083.3,662.8 L1083.7,663.1" stroke="#000" stroke-width="2.128" fill="none" stroke-linejoin="round" stroke-linecap="round" />
<path d="M1091.5,667.6 L1083.7,663.1" stroke="#000" stroke-width="2.128" fill="none" stroke-linejoin="round" stroke-linecap="round" />
<path d="M1100.5,652 L1092.7,647.5" stroke="#000" stroke-width="2.128" fill="none" stroke-linejoin="round" stroke-linecap="round" />
<path d="M1108.3,674.4 L1108.7,674.6 L1109.1,674.7 L1109.5,674.8 L1109.9,674.8 L1110.4,674.7 L1110.8,674.6 L1111.3,674.4 L1111.8,674.2 L1112.2,673.9 L1112.7,673.6 L1113.1,673.2 L1113.6,672.8 L1114,672.4 L1114.4,671.9 L1114.8,671.4 L1115.1,670.8 L1115.4,670.3 L1115.7,669.7 L1115.9,669.1 L1116.1,668.5 L1116.2,667.9 L1116.3,667.3 L1116.4,666.8 L1116.4,666.2 L1116.3,665.7 L1116.2,665.2 L1116.1,664.8 L1115.9,664.4 L1115.7,664 L1115.5,663.7 L1115.2,663.4 L1114.8,663.2 L1099.3,654.2 L1098.9,654 L1098.5,653.9 L1098.1,653.8 L1097.7,653.8 L1097.2,653.9 L1096.8,654 L1096.3,654.2 L1095.8,654.4 L1095.4,654.7 L1094.9,655 L1094.5,655.4 L1094,655.8 L1093.6,656.2 L1093.2,656.7 L1092.9,657.2 L1092.5,657.8 L1092.2,658.3 L1092,658.9 L1091.7,659.5 L1091.5,660.1 L1091.4,660.7 L1091.3,661.3 L1091.3,661.8 L1091.2,662.4 L1091.3,662.9 L1091.4,663.4 L1091.5,663.8 L1091.7,664.2 L1091.9,664.6 L1092.1,664.9 L1092.4,665.2 L1092.8,665.4 Z" stroke="none" stroke-width="0.01" fill="#fff" stroke-linejoin="round" stroke-linecap="round" />
<path d="M1114.8,663.2 L1114.5,663 L1114.1,662.9 L1113.7,662.8 L1113.3,662.8 L1112.8,662.9 L1112.4,663 L1111.9,663.2 L1111.4,663.4 L1111,663.7 L1110.5,664 L1110.1,664.4 L1109.6,664.8 L1109.2,665.2 L1108.8,665.7 L1108.4,666.2 L1108.1,666.8 L1107.8,667.3 L1107.5,667.9 L1107.3,668.5 L1107.1,669.1 L1107,669.7 L1106.9,670.3 L1106.8,670.8 L1106.8,671.4 L1106.9,671.9 L1107,672.4 L1107.1,672.8 L1107.3,673.2 L1107.5,673.6 L1107.7,673.9 L1108,674.2 L1108.3,674.4 L1108.7,674.6 L1109.1,674.7 L1109.5,674.8 L1109.9,674.8 L1110.4,674.7 L1110.8,674.6 L1111.3,674.4 L1111.8,674.2 L1112.2,673.9 L1112.7,673.6 L1113.1,673.2 L1113.6,672.8 L1114,672.4 L1114.4,671.9 L1114.8,671.4 L1115.1,670.8 L1115.4,670.3 L1115.7,669.7 L1115.9,669.1 L1116.1,668.5 L1116.2,667.9 L1116.3,667.3 L1116.4,666.8 L1116.4,666.2 L1116.3,665.7 L1116.2,665.2 L1116.1,664.8 L1115.9,664.4 L1115.7,664 L1115.5,663.7 L1115.2,663.4 L1114.8,663.2 Z" stroke="#000" stroke-width="2.128" fill="none" stroke-linejoin="round" stroke-linecap="round" />
<path d="M1099.3,654.2 L1098.9,654 L1098.5,653.9 L1098.1,653.8 L1097.7,653.8 L1097.2,653.9 L1096.8,654 L1096.3,654.2 L1095.8,654.4 L1095.4,654.7 L1094.9,655 L1094.5,655.4 L1094,655.8 L1093.6,656.2 L1093.2,656.7 L1092.9,657.2 L1092.5,657.8 L1092.2,658.3 L1092,658.9 L1091.7,659.5 L1091.5,660.1 L1091.4,660.7 L1091.3,661.3 L1091.3,661.8 L1091.2,662.4 L1091.3,662.9 L1091.4,663.4 L1091.5,663.8 L1091.7,664.2 L1091.9,664.6 L1092.1,664.9 L1092.4,665.2 L1092.8,665.4" stroke="#000" stroke-width="2.128" fill="none" stroke-linejoin="round" stroke-linecap="round" />
<path d="M1108.3,674.4 L1092.8,665.4" stroke="#000" stroke-width="2.128" fill="none" stroke-linejoin="round" stroke-linecap="round" />
<path d="M1114.8,663.2 L1099.3,654.2" stroke="#000" stroke-width="2.128" fill="none" stroke-linejoin="round" stroke-linecap="round" />
<path d="M1104.5,672.2 L1105.7,672.5 L1107.1,672.3 L1108.6,671.5 L1110,670.2 L1111.2,668.6 L1112,666.7 L1112.4,664.9 L1112.4,663.2 L1111.9,661.8 L1111,660.9" stroke="#000" stroke-width="1.344" fill="none" stroke-linejoin="round" stroke-linecap="round" />
<path d="M1100.6,669.9 L1101.8,670.3 L1103.2,670 L1104.7,669.2 L1106.1,668 L1107.3,666.3 L1108.1,664.5 L1108.5,662.6 L1108.5,660.9 L1108,659.6 L1107.1,658.7" stroke="#000" stroke-width="1.344" fill="none" stroke-linejoin="round" stroke-linecap="round" />
<path d="M1096.7,667.7 L1097.9,668 L1099.3,667.8 L1100.8,667 L1102.2,665.7 L1103.4,664.1 L1104.2,662.2 L1104.6,660.4 L1104.6,658.7 L1104.1,657.3 L1103.2,656.4" stroke="#000" stroke-width="1.344" fill="none" stroke-linejoin="round" stroke-linecap="round" />
<path d="M1112.3,671.7 L1150,692" stroke="#666" stroke-width="0.9" fill="none" stroke-linejoin="round" stroke-linecap="round" stroke-dasharray="10 3 3 3"/>
<path d="M897.6,557.9 C897.4,554.9 898.1,543.3 898.9,540.3 C899.7,537.3 903.2,529.8 905.2,527.7 C907.2,525.6 915.9,520.2 919,518.9 C922.1,517.6 933,515 936.7,515.1 C940.4,515.2 951.8,518.3 955.6,520.1 C959.4,521.9 971.1,529.6 974.5,532.7 C977.9,535.9 987.1,547.3 989.6,551.6 C992.1,555.9 998,570.7 999.6,575.5 C1001.2,580.3 1005.1,595.2 1005.9,599.5 C1006.7,603.8 1007.3,614.2 1007.2,618.3 C1007.1,622.3 1005.5,637 1004.7,640 C1003.9,643 1002.6,647.3 999.4,648 C996.2,648.7 975.7,645.9 972.4,647.1 C969.1,648.3 966.4,658.2 966.5,660 C966.6,661.8 972.6,662.8 973.5,664.7 C974.4,666.6 973.8,677.6 975.9,678.8 C978,680 992,675.3 994.7,676.5 C997.4,677.7 1001.7,688 1002.9,690.6 C1004.1,693.2 1006.4,700.2 1006.5,702.4 C1006.6,704.6 1005.3,711.3 1004.1,712.9 C1002.9,714.5 996.8,717.7 994.7,718.8 C992.6,719.9 985,722.4 982.9,723.5 C980.8,724.6 975.9,728.2 973.5,729.4 C971.1,730.6 962.5,734.5 959.4,735.3 C956.3,736.1 946.3,737.8 942.9,737.6 C939.5,737.4 928.5,734.3 925.3,732.9 C922.1,731.5 913.7,725.9 911.2,723.5 C908.7,721.1 902.4,712.7 900.6,709.4 C898.8,706.1 894.7,693.9 893.5,690.6 C892.3,687.3 889.6,678.6 888.8,676.5 C888,674.4 886.2,670.7 885.3,669.4 C884.4,668.1 880.3,664.9 879.4,663.5 C878.5,662.1 876.1,656.9 875.9,655.3 C875.7,653.7 875.7,648.3 877.1,647.1 C878.5,645.9 888.5,644.5 890,643.5 C891.5,642.5 891.8,639.1 892.4,637.6 C893,636.1 896.2,630 896.4,628 C896.5,626 894.1,620 893.9,618 C893.6,616 893,610 893.9,608.3 C894.8,606.6 901.7,602.2 902.7,600.7 C903.7,599.2 904,596.2 903.9,593.2 C903.8,590.2 902,574 901.4,570.5 C900.8,567 897.9,560.9 897.6,557.9 Z" stroke="#000" stroke-width="2.3520000000000003" fill="#fff" stroke-linejoin="round" stroke-linecap="round" />
<path d="M919,522.6 C921.4,522.6 931.8,521.6 936.7,522.6 C941.6,523.6 951.4,527.5 955.6,530.2 C959.8,532.9 965.3,539.1 968.2,542.8 C971.1,546.5 975.7,555 977,557.9 C978.3,560.8 979.4,562.5 978.2,564.2 C977,565.9 971.9,569.3 968.2,570.5 C964.5,571.7 952.9,572.7 950.5,573" stroke="#000" stroke-width="2.0160000000000005" fill="none" stroke-linejoin="round" stroke-linecap="round" />
<path d="M919,532.7 C920.9,533 929,533.5 932.9,535.2 C936.8,536.9 945.3,542.3 948,545.3 C950.7,548.3 952.7,555.2 953,557.9 C953.3,560.6 951.7,564 950.5,565.5 C949.3,567 945,568.7 944.2,569.2" stroke="#000" stroke-width="2.24" fill="none" stroke-linejoin="round" stroke-linecap="round" />
<path d="M919,518.9 L919,532.7 L916.5,542.8" stroke="#000" stroke-width="1.9040000000000001" fill="none" stroke-linejoin="round" stroke-linecap="round" />
<path d="M898.9,542.8 C900.4,542.8 904.8,542.4 907.7,542.8 C910.6,543.2 914.2,543.4 916.5,545.3 C918.8,547.2 920.8,552.6 921.6,554.1" stroke="#000" stroke-width="2.0160000000000005" fill="none" stroke-linejoin="round" stroke-linecap="round" />
<path d="M905.2,527.7 L907.7,542.8" stroke="#000" stroke-width="0" fill="none" stroke-linejoin="round" stroke-linecap="round" />
<path d="M901.4,570.5 C902.1,569 904.2,561.4 906.4,559.2 C908.6,557 914.6,554.4 917.8,554.1 C921,553.8 927.4,555.3 930.4,556.6 C933.4,557.9 938.2,562 940.5,564.2 C942.8,566.4 945.1,571.5 948,573 C950.9,574.5 959.2,574.8 961.9,575.5 C964.6,576.2 966.7,576 968.2,578 C969.7,580 972.2,586.9 973.2,590.6 C974.2,594.3 975.5,600.5 975.7,605.8 C975.9,611.1 975.4,624.5 975,630 C974.6,635.5 972.7,644.8 972.4,647.1" stroke="#000" stroke-width="2.0160000000000005" fill="none" stroke-linejoin="round" stroke-linecap="round" />
<ellipse cx="932.9" cy="593.2" rx="4.5" ry="7" transform="rotate(-25 932.9 593.2)" fill="none" stroke="#000" stroke-width="1.8"/>
<path d="M930.5,597 L935,589" stroke="#000" stroke-width="1.6800000000000002" fill="none" stroke-linejoin="round" stroke-linecap="round" />
<path d="M971.9,595.7 C973.7,594.8 987.5,587.1 989.6,586.9 C991.8,586.6 992.8,590.4 993.4,593.2 C994,596 995.6,610.3 996,615 C996.4,619.7 997,637.5 997.1,640" stroke="#000" stroke-width="2.0160000000000005" fill="none" stroke-linejoin="round" stroke-linecap="round" />
<path d="M984.5,591.9 C984.9,594.9 986.4,602 987,610 C987.6,618 988.1,635 988.3,640" stroke="#000" stroke-width="1.568" fill="none" stroke-linejoin="round" stroke-linecap="round" />
<path d="M971.9,595.7 L975,640" stroke="#000" stroke-width="0" fill="none" stroke-linejoin="round" stroke-linecap="round" />
<path d="M895.9,655.3 C897.2,652.6 898.5,647.6 902.9,647.1 C907.3,646.6 923,650.1 928.8,651.8 C934.6,653.5 942.4,657 946.5,660 C950.6,663 956.6,670 959.4,674.1 C962.2,678.2 966.5,685.9 967.6,690.6 C968.7,695.3 968.2,705 967.6,709.4 C967,713.8 964.9,720.5 962.9,723.5 C960.9,726.5 956,730.9 952.4,731.8 C948.8,732.7 940.6,731.9 935.9,730.6 C931.2,729.3 921.2,725.4 917.1,722.4 C913,719.4 908.1,713.1 905.3,708.2 C902.5,703.3 897.5,691.4 895.9,685.9 C894.3,680.4 893.5,671.2 893.5,667.1 C893.5,663 894.6,658 895.9,655.3 Z" stroke="#000" stroke-width="2.24" fill="none" stroke-linejoin="round" stroke-linecap="round" />
<path d="M956.3,724.3 L958.5,722.6 L960.3,720.6 L962,718.3 L963.3,715.7 L964.4,712.8 L965.1,709.8 L965.6,706.5 L965.7,703.1 L965.5,699.5 L965,695.9 L964.2,692.2 L963,688.4 L961.6,684.7 L960,681 L958,677.4 L955.8,673.9 L953.4,670.6 L950.8,667.4 L948,664.5 L945.1,661.8 L942,659.4 L938.9,657.2 L935.7,655.4 L932.5,653.9 L929.3,652.7 L926.1,651.9 L922.9,651.4 L919.9,651.3 L917,651.6 L914.3,652.3 L911.7,653.3 L909.3,654.6 L907.2,656.3 L905.3,658.3 L903.7,660.6 L902.3,663.2 L901.3,666 L900.5,669.1 L900.1,672.4 L900,675.8 L900.2,679.3 L900.7,683 L901.5,686.7 L902.6,690.4 L904,694.2 L905.7,697.9 L907.7,701.5 L909.8,704.9 L912.3,708.3 L914.9,711.4 L917.7,714.4 L920.6,717.1 L923.6,719.5 L926.8,721.7 L930,723.5 L933.2,725 L936.4,726.2 L939.6,727 L942.7,727.5 L945.7,727.5 L948.6,727.3 L951.4,726.6 L953.9,725.6 L956.3,724.3 Z" stroke="#000" stroke-width="1.6800000000000002" fill="none" stroke-linejoin="round" stroke-linecap="round" />
<path d="M952,718 L954.2,717.5 L956.3,716.7 L958.2,715.8 L959.9,714.5 L961.5,713.1 L962.9,711.4 L964.1,709.5 L965,707.4 L965.8,705.1 L966.4,702.7 L966.7,700.1 L966.8,697.4 L966.7,694.6 L966.3,691.8 L965.7,688.9 L964.9,685.9 L963.9,683 L962.7,680.1 L961.3,677.2 L959.7,674.4 L958,671.7 L956,669.1 L954,666.6 L951.8,664.3 L949.5,662.2 L947.1,660.2 L944.7,658.4 L942.2,656.9 L939.7,655.6 L937.1,654.6 L934.6,653.7 L932.1,653.2 L929.7,652.9 L927.3,652.9 L925,653.1 L922.9,653.6 L920.8,654.4 L919,655.4 L917.2,656.6 L915.7,658.1" stroke="#000" stroke-width="1.6800000000000002" fill="none" stroke-linejoin="round" stroke-linecap="round" />
<path d="M956.8,708.7 L958.3,708.2 L959.7,707.5 L961,706.6 L962.2,705.6 L963.3,704.4 L964.2,703.1 L965.1,701.6 L965.8,700 L966.3,698.3 L966.7,696.5 L967,694.7 L967.1,692.7 L967,690.7 L966.8,688.6 L966.5,686.4 L966,684.3 L965.4,682.1 L964.7,680 L963.8,677.8 L962.7,675.7 L961.6,673.6 L960.3,671.6 L959,669.6 L957.5,667.7 L956,665.9 L954.3,664.3 L952.7,662.7 L950.9,661.2 L949.1,659.9 L947.3,658.7 L945.4,657.7 L943.6,656.8 L941.7,656.1 L939.8,655.6 L938,655.2 L936.2,655 L934.5,655 L932.8,655.1 L931.1,655.4 L929.6,655.9" stroke="#000" stroke-width="1.4560000000000002" fill="none" stroke-linejoin="round" stroke-linecap="round" />
<path d="M962.6,699.5 L963.5,698.8 L964.3,698 L965.1,697.1 L965.8,696.1 L966.4,695.1 L967,693.9 L967.4,692.7 L967.7,691.4 L968,690 L968.1,688.6 L968.1,687.1 L968.1,685.6 L967.9,684.1 L967.7,682.5 L967.3,680.9 L966.9,679.3 L966.4,677.7 L965.8,676.1 L965.1,674.5 L964.3,672.9 L963.4,671.4 L962.5,669.9 L961.5,668.5 L960.4,667.1 L959.3,665.7 L958.1,664.4 L956.9,663.2 L955.6,662.1 L954.3,661.1 L952.9,660.1 L951.6,659.3 L950.2,658.5 L948.8,657.8 L947.4,657.3 L946.1,656.8 L944.7,656.5 L943.4,656.3 L942,656.1 L940.8,656.1 L939.5,656.3" stroke="#000" stroke-width="1.344" fill="none" stroke-linejoin="round" stroke-linecap="round" />
<path d="M912.4,674.1 L931.2,664.7 L957.1,676.5" stroke="#000" stroke-width="1.7920000000000003" fill="none" stroke-linejoin="round" stroke-linecap="round" />
<path d="M912.4,674.1 L916,690" stroke="#000" stroke-width="1.568" fill="none" stroke-linejoin="round" stroke-linecap="round" />
<path d="M930,666 L935,684 L958,676" stroke="#000" stroke-width="1.6800000000000002" fill="none" stroke-linejoin="round" stroke-linecap="round" />
<ellipse cx="939" cy="683.5" rx="2.8" ry="2.2" fill="none" stroke="#000" stroke-width="1.4"/>
<ellipse cx="886.5" cy="656.5" rx="3.5" ry="5" transform="rotate(-25 886.5 656.5)" fill="none" stroke="#000" stroke-width="1.6"/>
<ellipse cx="974.7" cy="715.3" rx="3.5" ry="5" transform="rotate(-25 974.7 715.3)" fill="none" stroke="#000" stroke-width="1.6"/>
<path d="M966.5,660 C969.6,660 979.4,660.3 985,660 C990.6,659.7 997.5,658.3 1000,658" stroke="#000" stroke-width="0" fill="none" stroke-linejoin="round" stroke-linecap="round" />
<path d="M979,695 L992,690" stroke="#000" stroke-width="1.568" fill="none" stroke-linejoin="round" stroke-linecap="round" />
<path d="M903.7,643.5 L903.1,643.7 L902.6,644.1 L902.2,644.5 L901.8,645 L901.4,645.6 L901.1,646.2 L900.9,646.9 L900.7,647.7 L900.6,648.5 L900.5,649.4 L900.5,650.3 L900.6,651.2 L900.7,652.1 L900.9,653.1 L901.2,654 L901.5,655 L901.8,655.9 L902.2,656.7 L902.7,657.6 L903.2,658.4 L903.7,659.1 L904.3,659.8 L904.9,660.4 L905.5,661 L906.2,661.5 L906.8,661.9 L907.5,662.2 L908.1,662.4 L908.7,662.5 L909.4,662.5 L910,662.5 L910.5,662.3 L948.1,648.6 L948.6,648.4 L949.1,648 L949.6,647.6 L950,647.1 L950.4,646.5 L950.7,645.9 L950.9,645.2 L951.1,644.4 L951.2,643.6 L951.3,642.7 L951.3,641.8 L951.2,640.9 L951.1,640 L950.9,639 L950.6,638.1 L950.3,637.2 L950,636.3 L949.6,635.4 L949.1,634.5 L948.6,633.7 L948,633 L947.5,632.3 L946.9,631.7 L946.3,631.1 L945.6,630.7 L945,630.3 L944.3,630 L943.7,629.8 L943.1,629.6 L942.4,629.6 L941.8,629.7 L941.3,629.8 Z" stroke="none" stroke-width="0.01" fill="#fff" stroke-linejoin="round" stroke-linecap="round" />
<path d="M910.5,662.3 L911.1,662.1 L911.6,661.7 L912,661.3 L912.4,660.8 L912.8,660.2 L913.1,659.6 L913.3,658.9 L913.5,658.1 L913.6,657.3 L913.7,656.4 L913.7,655.5 L913.6,654.6 L913.5,653.7 L913.3,652.7 L913,651.8 L912.7,650.8 L912.4,649.9 L912,649.1 L911.5,648.2 L911,647.4 L910.5,646.7 L909.9,646 L909.3,645.4 L908.7,644.8 L908,644.3 L907.4,643.9 L906.7,643.6 L906.1,643.4 L905.5,643.3 L904.8,643.3 L904.2,643.3 L903.7,643.5 L903.1,643.7 L902.6,644.1 L902.2,644.5 L901.8,645 L901.4,645.6 L901.1,646.2 L900.9,646.9 L900.7,647.7 L900.6,648.5 L900.5,649.4 L900.5,650.3 L900.6,651.2 L900.7,652.1 L900.9,653.1 L901.2,654 L901.5,655 L901.8,655.9 L902.2,656.7 L902.7,657.6 L903.2,658.4 L903.7,659.1 L904.3,659.8 L904.9,660.4 L905.5,661 L906.2,661.5 L906.8,661.9 L907.5,662.2 L908.1,662.4 L908.7,662.5 L909.4,662.5 L910,662.5 L910.5,662.3 Z" stroke="#000" stroke-width="2.24" fill="none" stroke-linejoin="round" stroke-linecap="round" />
<path d="M948.1,648.6 L948.6,648.4 L949.1,648 L949.6,647.6 L950,647.1 L950.4,646.5 L950.7,645.9 L950.9,645.2 L951.1,644.4 L951.2,643.6 L951.3,642.7 L951.3,641.8 L951.2,640.9 L951.1,640 L950.9,639 L950.6,638.1 L950.3,637.2 L950,636.3 L949.6,635.4 L949.1,634.5 L948.6,633.7 L948,633 L947.5,632.3 L946.9,631.7 L946.3,631.1 L945.6,630.7 L945,630.3 L944.3,630 L943.7,629.8 L943.1,629.6 L942.4,629.6 L941.8,629.7 L941.3,629.8" stroke="#000" stroke-width="2.24" fill="none" stroke-linejoin="round" stroke-linecap="round" />
<path d="M903.7,643.5 L941.3,629.8" stroke="#000" stroke-width="2.24" fill="none" stroke-linejoin="round" stroke-linecap="round" />
<path d="M910.5,662.3 L948.1,648.6" stroke="#000" stroke-width="2.24" fill="none" stroke-linejoin="round" stroke-linecap="round" />
<path d="M858.9,539.5 L896.2,559.7" stroke="#666" stroke-width="0.9" fill="none" stroke-linejoin="round" stroke-linecap="round" stroke-dasharray="10 3 3 3"/>
<path d="M852.6,546.5 L853.3,546.8 L854.1,547.1 L855,547.2 L855.9,547.2 L856.8,547.1 L857.8,546.8 L858.7,546.5 L859.7,546 L860.7,545.5 L861.6,544.8 L862.5,544 L863.4,543.1 L864.3,542.2 L865.1,541.2 L865.9,540.1 L866.6,539 L867.2,537.8 L867.8,536.6 L868.2,535.4 L868.6,534.2 L868.9,533 L869.1,531.8 L869.2,530.6 L869.2,529.5 L869.2,528.4 L869,527.4 L868.7,526.5 L868.3,525.6 L867.9,524.8 L867.4,524.1 L866.8,523.6 L866.1,523.1 L854.8,516.6 L854.1,516.3 L853.3,516 L852.4,515.9 L851.5,515.9 L850.6,516 L849.7,516.3 L848.7,516.6 L847.7,517.1 L846.8,517.6 L845.8,518.3 L844.9,519.1 L844,520 L843.1,520.9 L842.3,521.9 L841.5,523 L840.8,524.1 L840.2,525.3 L839.7,526.5 L839.2,527.7 L838.8,528.9 L838.5,530.1 L838.3,531.3 L838.2,532.5 L838.2,533.6 L838.3,534.7 L838.4,535.7 L838.7,536.6 L839.1,537.5 L839.5,538.3 L840,539 L840.6,539.5 L841.3,540 Z" stroke="none" stroke-width="0.01" fill="#fff" stroke-linejoin="round" stroke-linecap="round" />
<path d="M866.1,523.1 L865.3,522.8 L864.5,522.5 L863.7,522.4 L862.8,522.4 L861.9,522.5 L860.9,522.8 L860,523.1 L859,523.6 L858,524.1 L857.1,524.8 L856.1,525.6 L855.2,526.5 L854.4,527.4 L853.5,528.4 L852.8,529.5 L852.1,530.6 L851.5,531.8 L850.9,533 L850.4,534.2 L850.1,535.4 L849.8,536.6 L849.6,537.8 L849.5,539 L849.4,540.1 L849.5,541.2 L849.7,542.2 L850,543.1 L850.3,544 L850.8,544.8 L851.3,545.5 L851.9,546 L852.6,546.5 L853.3,546.8 L854.1,547.1 L855,547.2 L855.9,547.2 L856.8,547.1 L857.8,546.8 L858.7,546.5 L859.7,546 L860.7,545.5 L861.6,544.8 L862.5,544 L863.4,543.1 L864.3,542.2 L865.1,541.2 L865.9,540.1 L866.6,539 L867.2,537.8 L867.8,536.6 L868.2,535.4 L868.6,534.2 L868.9,533 L869.1,531.8 L869.2,530.6 L869.2,529.5 L869.2,528.4 L869,527.4 L868.7,526.5 L868.3,525.6 L867.9,524.8 L867.4,524.1 L866.8,523.6 L866.1,523.1 Z" stroke="#000" stroke-width="2.24" fill="none" stroke-linejoin="round" stroke-linecap="round" />
<path d="M854.8,516.6 L854.1,516.3 L853.3,516 L852.4,515.9 L851.5,515.9 L850.6,516 L849.7,516.3 L848.7,516.6 L847.7,517.1 L846.8,517.6 L845.8,518.3 L844.9,519.1 L844,520 L843.1,520.9 L842.3,521.9 L841.5,523 L840.8,524.1 L840.2,525.3 L839.7,526.5 L839.2,527.7 L838.8,528.9 L838.5,530.1 L838.3,531.3 L838.2,532.5 L838.2,533.6 L838.3,534.7 L838.4,535.7 L838.7,536.6 L839.1,537.5 L839.5,538.3 L840,539 L840.6,539.5 L841.3,540" stroke="#000" stroke-width="2.24" fill="none" stroke-linejoin="round" stroke-linecap="round" />
<path d="M852.6,546.5 L841.3,540" stroke="#000" stroke-width="2.24" fill="none" stroke-linejoin="round" stroke-linecap="round" />
<path d="M866.1,523.1 L854.8,516.6" stroke="#000" stroke-width="2.24" fill="none" stroke-linejoin="round" stroke-linecap="round" />
<path d="M857.9,524.3 L846.6,517.8" stroke="#000" stroke-width="1.6800000000000002" fill="none" stroke-linejoin="round" stroke-linecap="round" />
<path d="M849.5,538.3 L838.2,531.8" stroke="#000" stroke-width="1.6800000000000002" fill="none" stroke-linejoin="round" stroke-linecap="round" />
<path d="M853.5,552.8 L854.6,553.3 L855.7,553.6 L856.8,553.8 L858.1,553.8 L859.3,553.6 L860.6,553.3 L862,552.8 L863.3,552.2 L864.6,551.4 L865.9,550.5 L867.2,549.4 L868.4,548.2 L869.6,546.9 L870.7,545.6 L871.8,544.1 L872.7,542.5 L873.6,540.9 L874.3,539.3 L875,537.6 L875.5,536 L875.9,534.3 L876.2,532.7 L876.3,531.1 L876.4,529.5 L876.3,528.1 L876,526.7 L875.6,525.4 L875.1,524.2 L874.5,523.1 L873.8,522.2 L873,521.4 L872,520.8 L868.6,518.8 L867.6,518.3 L866.5,518 L865.3,517.8 L864.1,517.8 L862.8,518 L861.5,518.3 L860.2,518.8 L858.9,519.4 L857.5,520.2 L856.2,521.1 L854.9,522.2 L853.7,523.4 L852.5,524.7 L851.4,526 L850.4,527.5 L849.4,529.1 L848.5,530.7 L847.8,532.3 L847.1,534 L846.6,535.6 L846.2,537.3 L845.9,538.9 L845.8,540.5 L845.8,542.1 L845.9,543.5 L846.1,544.9 L846.5,546.2 L847,547.4 L847.6,548.5 L848.3,549.4 L849.2,550.2 L850.1,550.8 Z" stroke="none" stroke-width="0.01" fill="#fff" stroke-linejoin="round" stroke-linecap="round" />
<path d="M872,520.8 L871,520.3 L869.9,520 L868.8,519.8 L867.5,519.8 L866.3,520 L865,520.3 L863.6,520.8 L862.3,521.4 L861,522.2 L859.7,523.1 L858.4,524.2 L857.2,525.4 L856,526.7 L854.9,528 L853.8,529.5 L852.9,531.1 L852,532.7 L851.3,534.3 L850.6,536 L850.1,537.6 L849.7,539.3 L849.4,540.9 L849.3,542.5 L849.2,544.1 L849.3,545.5 L849.6,546.9 L850,548.2 L850.5,549.4 L851.1,550.5 L851.8,551.4 L852.6,552.2 L853.5,552.8 L854.6,553.3 L855.7,553.6 L856.8,553.8 L858.1,553.8 L859.3,553.6 L860.6,553.3 L862,552.8 L863.3,552.2 L864.6,551.4 L865.9,550.5 L867.2,549.4 L868.4,548.2 L869.6,546.9 L870.7,545.6 L871.8,544.1 L872.7,542.5 L873.6,540.9 L874.3,539.3 L875,537.6 L875.5,536 L875.9,534.3 L876.2,532.7 L876.3,531.1 L876.4,529.5 L876.3,528.1 L876,526.7 L875.6,525.4 L875.1,524.2 L874.5,523.1 L873.8,522.2 L873,521.4 L872,520.8 Z" stroke="#000" stroke-width="2.3520000000000003" fill="none" stroke-linejoin="round" stroke-linecap="round" />
<path d="M868.6,518.8 L867.6,518.3 L866.5,518 L865.3,517.8 L864.1,517.8 L862.8,518 L861.5,518.3 L860.2,518.8 L858.9,519.4 L857.5,520.2 L856.2,521.1 L854.9,522.2 L853.7,523.4 L852.5,524.7 L851.4,526 L850.4,527.5 L849.4,529.1 L848.5,530.7 L847.8,532.3 L847.1,534 L846.6,535.6 L846.2,537.3 L845.9,538.9 L845.8,540.5 L845.8,542.1 L845.9,543.5 L846.1,544.9 L846.5,546.2 L847,547.4 L847.6,548.5 L848.3,549.4 L849.2,550.2 L850.1,550.8" stroke="#000" stroke-width="2.3520000000000003" fill="none" stroke-linejoin="round" stroke-linecap="round" />
<path d="M853.5,552.8 L850.1,550.8" stroke="#000" stroke-width="2.3520000000000003" fill="none" stroke-linejoin="round" stroke-linecap="round" />
<path d="M872,520.8 L868.6,518.8" stroke="#000" stroke-width="2.3520000000000003" fill="none" stroke-linejoin="round" stroke-linecap="round" />
<path d="M866.3,530.7 L865.9,530.6 L865.5,530.4 L865.1,530.4 L864.6,530.4 L864.1,530.4 L863.6,530.6 L863.1,530.7 L862.6,531 L862.1,531.3 L861.6,531.6 L861.1,532 L860.7,532.5 L860.2,533 L859.8,533.5 L859.4,534 L859,534.6 L858.7,535.2 L858.4,535.9 L858.2,536.5 L858,537.1 L857.8,537.7 L857.7,538.4 L857.7,539 L857.7,539.6 L857.7,540.1 L857.8,540.6 L857.9,541.1 L858.1,541.6 L858.4,542 L858.6,542.3 L858.9,542.6 L859.3,542.9 L859.7,543 L860.1,543.2 L860.5,543.2 L861,543.2 L861.5,543.2 L862,543 L862.5,542.9 L863,542.6 L863.5,542.3 L864,542 L864.5,541.6 L864.9,541.1 L865.4,540.6 L865.8,540.1 L866.2,539.6 L866.6,539 L866.9,538.4 L867.2,537.7 L867.4,537.1 L867.6,536.5 L867.8,535.9 L867.9,535.2 L867.9,534.6 L867.9,534 L867.9,533.5 L867.8,533 L867.7,532.5 L867.5,532 L867.2,531.6 L867,531.3 L866.7,531 L866.3,530.7 Z" stroke="#000" stroke-width="2.24" fill="none" stroke-linejoin="round" stroke-linecap="round" />
<path d="M864.5,533.8 L864.4,533.7 L864.1,533.6 L863.9,533.6 L863.7,533.6 L863.5,533.6 L863.2,533.7 L863,533.8 L862.7,533.9 L862.5,534 L862.2,534.2 L862,534.4 L861.7,534.6 L861.5,534.9 L861.3,535.1 L861.1,535.4 L860.9,535.7 L860.8,536 L860.6,536.3 L860.5,536.6 L860.4,537 L860.3,537.3 L860.3,537.6 L860.2,537.9 L860.2,538.2 L860.3,538.5 L860.3,538.7 L860.4,539 L860.5,539.2 L860.6,539.4 L860.7,539.6 L860.9,539.7 L861,539.8 L861.2,539.9 L861.5,540 L861.7,540 L861.9,540 L862.1,540 L862.4,539.9 L862.6,539.8 L862.9,539.7 L863.1,539.6 L863.4,539.4 L863.6,539.2 L863.9,539 L864.1,538.7 L864.3,538.5 L864.5,538.2 L864.7,537.9 L864.8,537.6 L865,537.3 L865.1,537 L865.2,536.6 L865.3,536.3 L865.3,536 L865.4,535.7 L865.4,535.4 L865.3,535.1 L865.3,534.9 L865.2,534.6 L865.1,534.4 L865,534.2 L864.9,534 L864.7,533.9 L864.5,533.8 Z" stroke="#000" stroke-width="1.344" fill="none" stroke-linejoin="round" stroke-linecap="round" />
<path d="M1155.8,710.3 L1156.5,710.6 L1157.3,710.9 L1158.2,711 L1159.1,711 L1160,710.9 L1161,710.6 L1161.9,710.3 L1162.9,709.8 L1163.9,709.3 L1164.8,708.6 L1165.7,707.8 L1166.6,706.9 L1167.5,706 L1168.3,705 L1169.1,703.9 L1169.8,702.8 L1170.4,701.6 L1171,700.4 L1171.4,699.2 L1171.8,698 L1172.1,696.8 L1172.3,695.6 L1172.4,694.4 L1172.4,693.3 L1172.4,692.2 L1172.2,691.2 L1171.9,690.3 L1171.5,689.4 L1171.1,688.6 L1170.6,687.9 L1170,687.4 L1169.3,686.9 L1158,680.4 L1157.3,680.1 L1156.5,679.8 L1155.6,679.7 L1154.7,679.7 L1153.8,679.8 L1152.9,680.1 L1151.9,680.4 L1150.9,680.9 L1150,681.4 L1149,682.1 L1148.1,682.9 L1147.2,683.8 L1146.3,684.7 L1145.5,685.7 L1144.7,686.8 L1144,687.9 L1143.4,689.1 L1142.9,690.3 L1142.4,691.5 L1142,692.7 L1141.7,693.9 L1141.5,695.1 L1141.4,696.3 L1141.4,697.4 L1141.5,698.5 L1141.6,699.5 L1141.9,700.4 L1142.3,701.3 L1142.7,702.1 L1143.2,702.8 L1143.8,703.3 L1144.5,703.8 Z" stroke="none" stroke-width="0.01" fill="#fff" stroke-linejoin="round" stroke-linecap="round" />
<path d="M1169.3,686.9 L1168.5,686.6 L1167.7,686.3 L1166.9,686.2 L1166,686.2 L1165.1,686.3 L1164.1,686.6 L1163.2,686.9 L1162.2,687.4 L1161.2,687.9 L1160.3,688.6 L1159.3,689.4 L1158.4,690.3 L1157.6,691.2 L1156.7,692.2 L1156,693.3 L1155.3,694.4 L1154.7,695.6 L1154.1,696.8 L1153.6,698 L1153.3,699.2 L1153,700.4 L1152.8,701.6 L1152.7,702.8 L1152.6,703.9 L1152.7,705 L1152.9,706 L1153.2,706.9 L1153.5,707.8 L1154,708.6 L1154.5,709.3 L1155.1,709.8 L1155.8,710.3 L1156.5,710.6 L1157.3,710.9 L1158.2,711 L1159.1,711 L1160,710.9 L1161,710.6 L1161.9,710.3 L1162.9,709.8 L1163.9,709.3 L1164.8,708.6 L1165.7,707.8 L1166.6,706.9 L1167.5,706 L1168.3,705 L1169.1,703.9 L1169.8,702.8 L1170.4,701.6 L1171,700.4 L1171.4,699.2 L1171.8,698 L1172.1,696.8 L1172.3,695.6 L1172.4,694.4 L1172.4,693.3 L1172.4,692.2 L1172.2,691.2 L1171.9,690.3 L1171.5,689.4 L1171.1,688.6 L1170.6,687.9 L1170,687.4 L1169.3,686.9 Z" stroke="#000" stroke-width="2.24" fill="none" stroke-linejoin="round" stroke-linecap="round" />
<path d="M1158,680.4 L1157.3,680.1 L1156.5,679.8 L1155.6,679.7 L1154.7,679.7 L1153.8,679.8 L1152.9,680.1 L1151.9,680.4 L1150.9,680.9 L1150,681.4 L1149,682.1 L1148.1,682.9 L1147.2,683.8 L1146.3,684.7 L1145.5,685.7 L1144.7,686.8 L1144,687.9 L1143.4,689.1 L1142.9,690.3 L1142.4,691.5 L1142,692.7 L1141.7,693.9 L1141.5,695.1 L1141.4,696.3 L1141.4,697.4 L1141.5,698.5 L1141.6,699.5 L1141.9,700.4 L1142.3,701.3 L1142.7,702.1 L1143.2,702.8 L1143.8,703.3 L1144.5,703.8" stroke="#000" stroke-width="2.24" fill="none" stroke-linejoin="round" stroke-linecap="round" />
<path d="M1155.8,710.3 L1144.5,703.8" stroke="#000" stroke-width="2.24" fill="none" stroke-linejoin="round" stroke-linecap="round" />
<path d="M1169.3,686.9 L1158,680.4" stroke="#000" stroke-width="2.24" fill="none" stroke-linejoin="round" stroke-linecap="round" />
<path d="M1161.1,688.1 L1149.8,681.6" stroke="#000" stroke-width="1.6800000000000002" fill="none" stroke-linejoin="round" stroke-linecap="round" />
<path d="M1152.7,702.1 L1141.4,695.6" stroke="#000" stroke-width="1.6800000000000002" fill="none" stroke-linejoin="round" stroke-linecap="round" />
<path d="M1157.1,716 L1158.1,716.5 L1159.1,716.8 L1160.3,717 L1161.4,717 L1162.7,716.8 L1163.9,716.5 L1165.2,716 L1166.5,715.4 L1167.7,714.6 L1169,713.8 L1170.2,712.7 L1171.4,711.6 L1172.6,710.4 L1173.6,709 L1174.6,707.6 L1175.6,706.1 L1176.4,704.6 L1177.1,703 L1177.7,701.4 L1178.2,699.8 L1178.6,698.2 L1178.9,696.6 L1179,695.1 L1179.1,693.6 L1178.9,692.2 L1178.7,690.8 L1178.4,689.6 L1177.9,688.5 L1177.3,687.5 L1176.6,686.6 L1175.8,685.8 L1174.9,685.2 L1171.4,683.2 L1170.5,682.7 L1169.4,682.4 L1168.3,682.2 L1167.1,682.2 L1165.9,682.4 L1164.6,682.7 L1163.4,683.2 L1162.1,683.8 L1160.8,684.6 L1159.5,685.4 L1158.3,686.5 L1157.1,687.6 L1156,688.8 L1154.9,690.2 L1153.9,691.6 L1153,693.1 L1152.2,694.6 L1151.4,696.2 L1150.8,697.8 L1150.3,699.4 L1149.9,701 L1149.6,702.6 L1149.5,704.1 L1149.5,705.6 L1149.6,707 L1149.8,708.4 L1150.2,709.6 L1150.7,710.7 L1151.2,711.7 L1151.9,712.6 L1152.7,713.4 L1153.6,714 Z" stroke="none" stroke-width="0.01" fill="#fff" stroke-linejoin="round" stroke-linecap="round" />
<path d="M1174.9,685.2 L1173.9,684.7 L1172.9,684.4 L1171.7,684.2 L1170.6,684.2 L1169.3,684.4 L1168.1,684.7 L1166.8,685.2 L1165.5,685.8 L1164.3,686.6 L1163,687.4 L1161.8,688.5 L1160.6,689.6 L1159.4,690.8 L1158.4,692.2 L1157.4,693.6 L1156.4,695.1 L1155.6,696.6 L1154.9,698.2 L1154.3,699.8 L1153.8,701.4 L1153.4,703 L1153.1,704.6 L1153,706.1 L1152.9,707.6 L1153.1,709 L1153.3,710.4 L1153.6,711.6 L1154.1,712.7 L1154.7,713.7 L1155.4,714.6 L1156.2,715.4 L1157.1,716 L1158.1,716.5 L1159.1,716.8 L1160.3,717 L1161.4,717 L1162.7,716.8 L1163.9,716.5 L1165.2,716 L1166.5,715.4 L1167.7,714.6 L1169,713.8 L1170.2,712.7 L1171.4,711.6 L1172.6,710.4 L1173.6,709 L1174.6,707.6 L1175.6,706.1 L1176.4,704.6 L1177.1,703 L1177.7,701.4 L1178.2,699.8 L1178.6,698.2 L1178.9,696.6 L1179,695.1 L1179.1,693.6 L1178.9,692.2 L1178.7,690.8 L1178.4,689.6 L1177.9,688.5 L1177.3,687.5 L1176.6,686.6 L1175.8,685.8 L1174.9,685.2 Z" stroke="#000" stroke-width="2.3520000000000003" fill="none" stroke-linejoin="round" stroke-linecap="round" />
<path d="M1171.4,683.2 L1170.5,682.7 L1169.4,682.4 L1168.3,682.2 L1167.1,682.2 L1165.9,682.4 L1164.6,682.7 L1163.4,683.2 L1162.1,683.8 L1160.8,684.6 L1159.5,685.4 L1158.3,686.5 L1157.1,687.6 L1156,688.8 L1154.9,690.2 L1153.9,691.6 L1153,693.1 L1152.2,694.6 L1151.4,696.2 L1150.8,697.8 L1150.3,699.4 L1149.9,701 L1149.6,702.6 L1149.5,704.1 L1149.5,705.6 L1149.6,707 L1149.8,708.4 L1150.2,709.6 L1150.7,710.7 L1151.2,711.7 L1151.9,712.6 L1152.7,713.4 L1153.6,714" stroke="#000" stroke-width="2.3520000000000003" fill="none" stroke-linejoin="round" stroke-linecap="round" />
<path d="M1157.1,716 L1153.6,714" stroke="#000" stroke-width="2.3520000000000003" fill="none" stroke-linejoin="round" stroke-linecap="round" />
<path d="M1174.9,685.2 L1171.4,683.2" stroke="#000" stroke-width="2.3520000000000003" fill="none" stroke-linejoin="round" stroke-linecap="round" />
<path d="M1172,690.2 L1171.3,689.9 L1170.6,689.7 L1169.9,689.6 L1169.1,689.6 L1168.3,689.7 L1167.4,689.9 L1166.6,690.2 L1165.7,690.6 L1164.8,691.1 L1164,691.7 L1163.1,692.4 L1162.3,693.2 L1161.6,694 L1160.9,694.9 L1160.2,695.9 L1159.6,696.9 L1159,697.9 L1158.5,699 L1158.1,700.1 L1157.8,701.1 L1157.5,702.2 L1157.3,703.3 L1157.2,704.3 L1157.2,705.3 L1157.3,706.3 L1157.4,707.2 L1157.7,708 L1158,708.8 L1158.4,709.5 L1158.9,710.1 L1159.4,710.6 L1160,711 L1160.7,711.3 L1161.4,711.5 L1162.1,711.6 L1162.9,711.6 L1163.7,711.5 L1164.6,711.3 L1165.4,711 L1166.3,710.6 L1167.2,710.1 L1168,709.5 L1168.9,708.8 L1169.7,708 L1170.4,707.2 L1171.1,706.3 L1171.8,705.3 L1172.4,704.3 L1173,703.3 L1173.5,702.2 L1173.9,701.1 L1174.2,700.1 L1174.5,699 L1174.7,697.9 L1174.8,696.9 L1174.8,695.9 L1174.7,694.9 L1174.6,694 L1174.3,693.2 L1174,692.4 L1173.6,691.7 L1173.1,691.1 L1172.6,690.6 L1172,690.2 Z" stroke="#000" stroke-width="1.4560000000000002" fill="none" stroke-linejoin="round" stroke-linecap="round" />
<path d="M1169.5,694.5 L1169.1,694.4 L1168.7,694.2 L1168.3,694.2 L1167.8,694.2 L1167.3,694.2 L1166.8,694.4 L1166.3,694.5 L1165.8,694.8 L1165.3,695.1 L1164.8,695.4 L1164.3,695.8 L1163.9,696.3 L1163.4,696.8 L1163,697.3 L1162.6,697.8 L1162.2,698.4 L1161.9,699 L1161.6,699.7 L1161.4,700.3 L1161.2,700.9 L1161,701.5 L1160.9,702.2 L1160.9,702.8 L1160.9,703.4 L1160.9,703.9 L1161,704.4 L1161.1,704.9 L1161.3,705.4 L1161.6,705.8 L1161.8,706.1 L1162.1,706.4 L1162.5,706.7 L1162.9,706.8 L1163.3,707 L1163.7,707 L1164.2,707 L1164.7,707 L1165.2,706.8 L1165.7,706.7 L1166.2,706.4 L1166.7,706.1 L1167.2,705.8 L1167.7,705.4 L1168.1,704.9 L1168.6,704.4 L1169,703.9 L1169.4,703.4 L1169.8,702.8 L1170.1,702.2 L1170.4,701.5 L1170.6,700.9 L1170.8,700.3 L1171,699.7 L1171.1,699 L1171.1,698.4 L1171.1,697.8 L1171.1,697.3 L1171,696.8 L1170.9,696.3 L1170.7,695.8 L1170.4,695.4 L1170.2,695.1 L1169.9,694.8 L1169.5,694.5 Z" stroke="#000" stroke-width="2.24" fill="none" stroke-linejoin="round" stroke-linecap="round" />
<path d="M1168,697.1 L1167.8,697 L1167.5,697 L1167.3,696.9 L1167,696.9 L1166.8,697 L1166.5,697 L1166.2,697.1 L1165.9,697.3 L1165.6,697.4 L1165.3,697.6 L1165,697.9 L1164.8,698.1 L1164.5,698.4 L1164.3,698.7 L1164.1,699 L1163.9,699.4 L1163.7,699.7 L1163.5,700.1 L1163.4,700.4 L1163.3,700.8 L1163.2,701.1 L1163.1,701.5 L1163.1,701.8 L1163.1,702.2 L1163.1,702.5 L1163.1,702.8 L1163.2,703.1 L1163.3,703.3 L1163.5,703.6 L1163.6,703.8 L1163.8,703.9 L1164,704.1 L1164.2,704.2 L1164.5,704.2 L1164.7,704.3 L1165,704.3 L1165.2,704.2 L1165.5,704.2 L1165.8,704.1 L1166.1,703.9 L1166.4,703.8 L1166.7,703.6 L1167,703.3 L1167.2,703.1 L1167.5,702.8 L1167.7,702.5 L1167.9,702.2 L1168.1,701.8 L1168.3,701.5 L1168.5,701.1 L1168.6,700.8 L1168.7,700.4 L1168.8,700.1 L1168.9,699.7 L1168.9,699.4 L1168.9,699 L1168.9,698.7 L1168.9,698.4 L1168.8,698.1 L1168.7,697.9 L1168.5,697.6 L1168.4,697.4 L1168.2,697.3 L1168,697.1 Z" stroke="#000" stroke-width="1.344" fill="none" stroke-linejoin="round" stroke-linecap="round" />
<path d="M738.5,599.3 L736.9,600.4 L735.5,601.8 L734.2,603.4 L733.2,605.2 L732.3,607.2 L731.7,609.5 L731.3,611.9 L731.1,614.4 L731.1,617.1 L731.4,619.9 L731.8,622.7 L732.5,625.6 L733.4,628.4 L734.6,631.3 L735.9,634.2 L737.4,636.9 L739,639.6 L740.8,642.1 L742.7,644.5 L744.8,646.8 L746.9,648.8 L749.1,650.6 L751.4,652.2 L753.7,653.6 L756,654.7 L758.3,655.6 L760.5,656.1 L762.7,656.4 L764.9,656.4 L766.9,656.1 L768.8,655.6 L770.5,654.7 L785.3,646.2 L786.9,645.1 L788.3,643.7 L789.6,642.1 L790.6,640.3 L791.5,638.3 L792.1,636 L792.5,633.6 L792.7,631.1 L792.7,628.4 L792.4,625.6 L791.9,622.8 L791.3,619.9 L790.3,617.1 L789.2,614.2 L787.9,611.3 L786.4,608.6 L784.8,605.9 L783,603.4 L781.1,601 L779,598.7 L776.9,596.7 L774.7,594.9 L772.4,593.3 L770.1,591.9 L767.8,590.8 L765.5,589.9 L763.2,589.4 L761,589.1 L758.9,589.1 L756.9,589.4 L755,589.9 L753.3,590.8 Z" stroke="none" stroke-width="0.01" fill="#fff" stroke-linejoin="round" stroke-linecap="round" />
<path d="M767.8,649.9 L782.6,641.4 L785.3,646.2 L770.6,654.7 Z" stroke="#000" stroke-width="1.4112000000000002" fill="#fff" stroke-linejoin="round" stroke-linecap="round" />
<path d="M770.3,647.9 L785,639.4 L788.3,643.8 L773.6,652.3 Z" stroke="#000" stroke-width="1.4112000000000002" fill="#fff" stroke-linejoin="round" stroke-linecap="round" />
<path d="M770.6,654.7 L785.3,646.2 L788.3,643.8 L773.6,652.3 Z" stroke="#000" stroke-width="1.6128000000000002" fill="#fff" stroke-linejoin="round" stroke-linecap="round" />
<path d="M741.2,604.1 L755.9,595.6 L753.2,590.8 L738.5,599.3 Z" stroke="#000" stroke-width="1.4112000000000002" fill="#fff" stroke-linejoin="round" stroke-linecap="round" />
<path d="M738.8,606.1 L753.5,597.6 L750.2,593.2 L735.5,601.7 Z" stroke="#000" stroke-width="1.4112000000000002" fill="#fff" stroke-linejoin="round" stroke-linecap="round" />
<path d="M738.5,599.3 L753.2,590.8 L750.2,593.2 L735.5,601.7 Z" stroke="#000" stroke-width="1.6128000000000002" fill="#fff" stroke-linejoin="round" stroke-linecap="round" />
<path d="M746.9,602.6 L761.6,594.1 L760,589.1 L745.3,597.6 Z" stroke="#000" stroke-width="1.4112000000000002" fill="#fff" stroke-linejoin="round" stroke-linecap="round" />
<path d="M743.6,603.1 L758.3,594.6 L756.1,589.6 L741.3,598.1 Z" stroke="#000" stroke-width="1.4112000000000002" fill="#fff" stroke-linejoin="round" stroke-linecap="round" />
<path d="M745.3,597.6 L760,589.1 L756.1,589.6 L741.3,598.1 Z" stroke="#000" stroke-width="1.6128000000000002" fill="#fff" stroke-linejoin="round" stroke-linecap="round" />
<path d="M762.2,651.4 L776.9,642.9 L778.5,647.9 L763.8,656.4 Z" stroke="#000" stroke-width="1.4112000000000002" fill="#fff" stroke-linejoin="round" stroke-linecap="round" />
<path d="M765.5,650.9 L780.2,642.4 L782.4,647.4 L767.7,655.9 Z" stroke="#000" stroke-width="1.4112000000000002" fill="#fff" stroke-linejoin="round" stroke-linecap="round" />
<path d="M763.8,656.4 L778.5,647.9 L782.4,647.4 L767.7,655.9 Z" stroke="#000" stroke-width="1.6128000000000002" fill="#fff" stroke-linejoin="round" stroke-linecap="round" />
<path d="M771.9,645.7 L786.6,637.2 L790.2,641.1 L775.5,649.6 Z" stroke="#000" stroke-width="1.4112000000000002" fill="#fff" stroke-linejoin="round" stroke-linecap="round" />
<path d="M773.2,642.4 L788,633.9 L791.8,637.1 L777.1,645.6 Z" stroke="#000" stroke-width="1.4112000000000002" fill="#fff" stroke-linejoin="round" stroke-linecap="round" />
<path d="M775.5,649.6 L790.2,641.1 L791.8,637.1 L777.1,645.6 Z" stroke="#000" stroke-width="1.6128000000000002" fill="#fff" stroke-linejoin="round" stroke-linecap="round" />
<path d="M753.5,604.1 L768.2,595.6 L767.9,590.9 L753.2,599.4 Z" stroke="#000" stroke-width="1.4112000000000002" fill="#fff" stroke-linejoin="round" stroke-linecap="round" />
<path d="M749.8,602.9 L764.5,594.4 L763.5,589.4 L748.8,597.9 Z" stroke="#000" stroke-width="1.4112000000000002" fill="#fff" stroke-linejoin="round" stroke-linecap="round" />
<path d="M753.2,599.4 L767.9,590.9 L763.5,589.4 L748.8,597.9 Z" stroke="#000" stroke-width="1.6128000000000002" fill="#fff" stroke-linejoin="round" stroke-linecap="round" />
<path d="M773.8,639.2 L788.6,630.7 L792.6,633.3 L777.8,641.8 Z" stroke="#000" stroke-width="1.4112000000000002" fill="#fff" stroke-linejoin="round" stroke-linecap="round" />
<path d="M773.9,635 L788.6,626.5 L792.7,628.1 L777.9,636.6 Z" stroke="#000" stroke-width="1.4112000000000002" fill="#fff" stroke-linejoin="round" stroke-linecap="round" />
<path d="M777.8,641.8 L792.6,633.3 L792.7,628.1 L777.9,636.6 Z" stroke="#000" stroke-width="1.6128000000000002" fill="#fff" stroke-linejoin="round" stroke-linecap="round" />
<path d="M760.2,608.3 L774.9,599.8 L776,596 L761.3,604.5 Z" stroke="#000" stroke-width="1.4112000000000002" fill="#fff" stroke-linejoin="round" stroke-linecap="round" />
<path d="M756.5,605.7 L771.2,597.2 L771.6,592.8 L756.9,601.3 Z" stroke="#000" stroke-width="1.4112000000000002" fill="#fff" stroke-linejoin="round" stroke-linecap="round" />
<path d="M761.3,604.5 L776,596 L771.6,592.8 L756.9,601.3 Z" stroke="#000" stroke-width="1.6128000000000002" fill="#fff" stroke-linejoin="round" stroke-linecap="round" />
<path d="M773.5,631.3 L788.2,622.8 L792.1,623.6 L777.4,632.1 Z" stroke="#000" stroke-width="1.4112000000000002" fill="#fff" stroke-linejoin="round" stroke-linecap="round" />
<path d="M772.3,626.6 L787,618.1 L790.7,618 L775.9,626.5 Z" stroke="#000" stroke-width="1.4112000000000002" fill="#fff" stroke-linejoin="round" stroke-linecap="round" />
<path d="M777.4,632.1 L792.1,623.6 L790.7,618 L775.9,626.5 Z" stroke="#000" stroke-width="1.6128000000000002" fill="#fff" stroke-linejoin="round" stroke-linecap="round" />
<path d="M766.2,614.8 L780.9,606.3 L783.3,603.8 L768.6,612.3 Z" stroke="#000" stroke-width="1.4112000000000002" fill="#fff" stroke-linejoin="round" stroke-linecap="round" />
<path d="M763,611 L777.7,602.5 L779.5,599.2 L764.8,607.7 Z" stroke="#000" stroke-width="1.4112000000000002" fill="#fff" stroke-linejoin="round" stroke-linecap="round" />
<path d="M768.6,612.3 L783.3,603.8 L779.5,599.2 L764.8,607.7 Z" stroke="#000" stroke-width="1.6128000000000002" fill="#fff" stroke-linejoin="round" stroke-linecap="round" />
<path d="M770.8,622.8 L785.5,614.3 L788.9,613.4 L774.2,621.9 Z" stroke="#000" stroke-width="1.4112000000000002" fill="#fff" stroke-linejoin="round" stroke-linecap="round" />
<path d="M768.5,618.3 L783.2,609.8 L786.1,608 L771.4,616.5 Z" stroke="#000" stroke-width="1.4112000000000002" fill="#fff" stroke-linejoin="round" stroke-linecap="round" />
<path d="M774.2,621.9 L788.9,613.4 L786.1,608 L771.4,616.5 Z" stroke="#000" stroke-width="1.6128000000000002" fill="#fff" stroke-linejoin="round" stroke-linecap="round" />
<path d="M770.6,654.7 L773.6,652.3 L770.3,647.9 L771.9,645.7 L775.5,649.6 L777.1,645.6 L773.2,642.4 L773.8,639.2 L777.8,641.8 L777.9,636.6 L773.9,635 L773.5,631.3 L777.4,632.1 L775.9,626.5 L772.3,626.6 L770.8,622.8 L774.2,621.9 L771.4,616.5 L768.5,618.3 L766.2,614.8 L768.6,612.3 L764.8,607.7 L763,611 L760.2,608.3 L761.3,604.5 L756.9,601.3 L756.5,605.7 L753.5,604.1 L753.2,599.4 L748.8,597.9 L749.8,602.9 L746.9,602.6 L745.3,597.6 L741.3,598.1 L743.6,603.1 L741.2,604.1 L738.5,599.3 L735.5,601.7 L738.8,606.1 L737.2,608.3 L733.6,604.4 L731.9,608.4 L735.8,611.6 L735.2,614.8 L731.2,612.2 L731.1,617.4 L735.1,619 L735.6,622.7 L731.7,621.9 L733.1,627.5 L736.8,627.4 L738.3,631.2 L734.9,632.1 L737.7,637.5 L740.6,635.7 L742.9,639.2 L740.5,641.7 L744.3,646.3 L746.1,643 L748.9,645.7 L747.7,649.5 L752.2,652.7 L752.6,648.3 L755.6,649.9 L755.8,654.6 L760.3,656.1 L759.3,651.1 L762.2,651.4 L763.8,656.4 L767.7,655.9 L765.5,650.9 L767.8,649.9 Z" stroke="#000" stroke-width="2.0160000000000005" fill="#fff" stroke-linejoin="round" stroke-linecap="round" />
<path d="M738.5,603.3 L737.1,604.3 L735.7,605.6 L734.6,607 L733.6,608.7 L732.8,610.5 L732.2,612.5 L731.8,614.7 L731.6,617 L731.5,619.4 L731.7,621.9 L732.2,624.4 L732.8,627 L733.5,629.6 L734.5,632.1 L735.7,634.7 L737,637.1 L738.5,639.5 L740.1,641.8 L741.8,643.9 L743.7,645.9 L745.6,647.7 L747.6,649.3 L749.6,650.7 L751.7,651.9 L753.8,652.9 L755.9,653.6 L757.9,654.1 L759.9,654.3 L761.9,654.3 L763.7,654 L765.4,653.5 L767,652.7 L770.5,650.7 L772,649.7 L773.3,648.4 L774.5,647 L775.5,645.3 L776.3,643.5 L776.9,641.5 L777.3,639.3 L777.5,637 L777.5,634.6 L777.3,632.1 L776.9,629.6 L776.3,627 L775.5,624.4 L774.5,621.9 L773.4,619.3 L772.1,616.9 L770.6,614.5 L769,612.2 L767.2,610.1 L765.4,608.1 L763.5,606.3 L761.5,604.7 L759.4,603.3 L757.4,602.1 L755.3,601.1 L753.2,600.4 L751.1,599.9 L749.1,599.7 L747.2,599.7 L745.4,600 L743.6,600.5 L742,601.3 Z" stroke="none" stroke-width="0.01" fill="#fff" stroke-linejoin="round" stroke-linecap="round" />
<path d="M767,652.7 L768.5,651.7 L769.9,650.4 L771,649 L772,647.3 L772.8,645.5 L773.4,643.5 L773.8,641.3 L774,639 L774.1,636.6 L773.9,634.1 L773.4,631.6 L772.8,629 L772.1,626.4 L771.1,623.9 L769.9,621.3 L768.6,618.9 L767.1,616.5 L765.5,614.2 L763.8,612.1 L761.9,610.1 L760,608.3 L758,606.7 L756,605.3 L753.9,604.1 L751.8,603.1 L749.7,602.4 L747.7,601.9 L745.7,601.7 L743.7,601.7 L741.9,602 L740.2,602.5 L738.5,603.3 L737.1,604.3 L735.7,605.6 L734.6,607 L733.6,608.7 L732.8,610.5 L732.2,612.5 L731.8,614.7 L731.6,617 L731.5,619.4 L731.7,621.9 L732.2,624.4 L732.8,627 L733.5,629.6 L734.5,632.1 L735.7,634.7 L737,637.1 L738.5,639.5 L740.1,641.8 L741.8,643.9 L743.7,645.9 L745.6,647.7 L747.6,649.3 L749.6,650.7 L751.7,651.9 L753.8,652.9 L755.9,653.6 L757.9,654.1 L759.9,654.3 L761.9,654.3 L763.7,654 L765.4,653.5 L767,652.7 Z" stroke="#000" stroke-width="2.24" fill="none" stroke-linejoin="round" stroke-linecap="round" />
<path d="M770.5,650.7 L772,649.7 L773.3,648.4 L774.5,647 L775.5,645.3 L776.3,643.5 L776.9,641.5 L777.3,639.3 L777.5,637 L777.5,634.6 L777.3,632.1 L776.9,629.6 L776.3,627 L775.5,624.4 L774.5,621.9 L773.4,619.3 L772.1,616.9 L770.6,614.5 L769,612.2 L767.2,610.1 L765.4,608.1 L763.5,606.3 L761.5,604.7 L759.4,603.3 L757.4,602.1 L755.3,601.1 L753.2,600.4 L751.1,599.9 L749.1,599.7 L747.2,599.7 L745.4,600 L743.6,600.5 L742,601.3" stroke="#000" stroke-width="2.24" fill="none" stroke-linejoin="round" stroke-linecap="round" />
<path d="M738.5,603.3 L742,601.3" stroke="#000" stroke-width="2.24" fill="none" stroke-linejoin="round" stroke-linecap="round" />
<path d="M767,652.7 L770.5,650.7" stroke="#000" stroke-width="2.24" fill="none" stroke-linejoin="round" stroke-linecap="round" />
<path d="M765.3,649.7 L766.6,648.8 L767.8,647.7 L768.8,646.4 L769.7,644.9 L770.4,643.3 L770.9,641.6 L771.3,639.7 L771.4,637.7 L771.4,635.6 L771.3,633.4 L770.9,631.2 L770.4,628.9 L769.7,626.6 L768.8,624.4 L767.8,622.2 L766.7,620 L765.4,617.9 L764,615.9 L762.4,614.1 L760.8,612.3 L759.1,610.7 L757.4,609.3 L755.6,608.1 L753.8,607 L751.9,606.2 L750.1,605.6 L748.3,605.1 L746.6,604.9 L744.9,605 L743.2,605.2 L741.7,605.7 L740.3,606.3 L739,607.2 L737.8,608.3 L736.8,609.6 L735.9,611.1 L735.2,612.7 L734.7,614.4 L734.3,616.3 L734.2,618.3 L734.2,620.4 L734.3,622.6 L734.7,624.8 L735.2,627.1 L735.9,629.4 L736.8,631.6 L737.8,633.8 L738.9,636 L740.2,638.1 L741.6,640.1 L743.2,641.9 L744.8,643.7 L746.5,645.3 L748.2,646.7 L750,647.9 L751.8,649 L753.7,649.8 L755.5,650.4 L757.3,650.9 L759,651.1 L760.7,651 L762.4,650.8 L763.9,650.3 L765.3,649.7 Z" stroke="#000" stroke-width="1.4560000000000002" fill="none" stroke-linejoin="round" stroke-linecap="round" />
<path d="M762,644 L763,643.4 L763.9,642.6 L764.6,641.6 L765.3,640.5 L765.8,639.3 L766.2,638 L766.5,636.6 L766.6,635.1 L766.6,633.6 L766.5,632 L766.2,630.3 L765.8,628.7 L765.3,627 L764.7,625.3 L763.9,623.7 L763.1,622.1 L762.1,620.5 L761.1,619.1 L759.9,617.7 L758.7,616.4 L757.5,615.2 L756.2,614.2 L754.9,613.3 L753.5,612.5 L752.2,611.9 L750.8,611.4 L749.5,611.1 L748.2,610.9 L746.9,610.9 L745.7,611.1 L744.6,611.5 L743.5,612 L742.6,612.6 L741.7,613.4 L741,614.4 L740.3,615.5 L739.8,616.7 L739.4,618 L739.1,619.4 L739,620.9 L739,622.4 L739.1,624 L739.4,625.7 L739.8,627.3 L740.3,629 L740.9,630.7 L741.7,632.3 L742.5,633.9 L743.5,635.5 L744.5,636.9 L745.7,638.3 L746.9,639.6 L748.1,640.8 L749.4,641.8 L750.7,642.7 L752.1,643.5 L753.4,644.1 L754.8,644.6 L756.1,644.9 L757.4,645.1 L758.7,645.1 L759.9,644.9 L761,644.5 L762,644 Z" stroke="#000" stroke-width="2.24" fill="#fff" stroke-linejoin="round" stroke-linecap="round" />
<circle cx="737.3" cy="609.2" r="2.2" fill="#000"/>
<path d="M688.8,618.5 L688.5,618.7 L688.2,619 L688,619.3 L687.8,619.6 L687.6,620 L687.5,620.4 L687.4,620.9 L687.4,621.3 L687.4,621.8 L687.5,622.4 L687.5,622.9 L687.7,623.4 L687.8,624 L688.1,624.5 L688.3,625 L688.6,625.6 L688.9,626.1 L689.2,626.5 L689.6,627 L690,627.4 L690.4,627.8 L690.8,628.1 L691.2,628.4 L691.6,628.7 L692.1,628.9 L692.5,629.1 L692.9,629.2 L693.3,629.2 L693.7,629.2 L694.1,629.2 L694.5,629.1 L694.8,628.9 L716.5,616.4 L716.8,616.2 L717,615.9 L717.3,615.6 L717.5,615.3 L717.6,614.9 L717.7,614.5 L717.8,614 L717.8,613.6 L717.8,613.1 L717.8,612.5 L717.7,612 L717.6,611.5 L717.4,610.9 L717.2,610.4 L717,609.9 L716.7,609.3 L716.4,608.8 L716,608.4 L715.7,607.9 L715.3,607.5 L714.9,607.1 L714.5,606.8 L714,606.5 L713.6,606.2 L713.2,606 L712.7,605.8 L712.3,605.7 L711.9,605.7 L711.5,605.7 L711.1,605.7 L710.8,605.8 L710.5,606 Z" stroke="none" stroke-width="0.01" fill="#fff" stroke-linejoin="round" stroke-linecap="round" />
<path d="M694.8,628.9 L695.1,628.7 L695.4,628.4 L695.6,628.1 L695.8,627.8 L696,627.4 L696.1,627 L696.2,626.5 L696.2,626.1 L696.2,625.6 L696.1,625 L696.1,624.5 L695.9,624 L695.8,623.4 L695.5,622.9 L695.3,622.4 L695,621.8 L694.7,621.3 L694.4,620.9 L694,620.4 L693.6,620 L693.2,619.6 L692.8,619.3 L692.4,619 L692,618.7 L691.5,618.5 L691.1,618.3 L690.7,618.2 L690.3,618.2 L689.9,618.2 L689.5,618.2 L689.1,618.3 L688.8,618.5 L688.5,618.7 L688.2,619 L688,619.3 L687.8,619.6 L687.6,620 L687.5,620.4 L687.4,620.9 L687.4,621.3 L687.4,621.8 L687.5,622.4 L687.5,622.9 L687.7,623.4 L687.8,624 L688.1,624.5 L688.3,625 L688.6,625.6 L688.9,626.1 L689.2,626.5 L689.6,627 L690,627.4 L690.4,627.8 L690.8,628.1 L691.2,628.4 L691.6,628.7 L692.1,628.9 L692.5,629.1 L692.9,629.2 L693.3,629.2 L693.7,629.2 L694.1,629.2 L694.5,629.1 L694.8,628.9 Z" stroke="#000" stroke-width="2.0160000000000005" fill="none" stroke-linejoin="round" stroke-linecap="round" />
<path d="M716.5,616.4 L716.8,616.2 L717,615.9 L717.3,615.6 L717.5,615.3 L717.6,614.9 L717.7,614.5 L717.8,614 L717.8,613.6 L717.8,613.1 L717.8,612.5 L717.7,612 L717.6,611.5 L717.4,610.9 L717.2,610.4 L717,609.9 L716.7,609.3 L716.4,608.8 L716,608.4 L715.7,607.9 L715.3,607.5 L714.9,607.1 L714.5,606.8 L714,606.5 L713.6,606.2 L713.2,606 L712.7,605.8 L712.3,605.7 L711.9,605.7 L711.5,605.7 L711.1,605.7 L710.8,605.8 L710.5,606" stroke="#000" stroke-width="2.0160000000000005" fill="none" stroke-linejoin="round" stroke-linecap="round" />
<path d="M688.8,618.5 L710.5,606" stroke="#000" stroke-width="2.0160000000000005" fill="none" stroke-linejoin="round" stroke-linecap="round" />
<path d="M694.8,628.9 L716.5,616.4" stroke="#000" stroke-width="2.0160000000000005" fill="none" stroke-linejoin="round" stroke-linecap="round" />
<path d="M696.4,660.5 L741.4,634.5" stroke="#555" stroke-width="0.8" fill="none" stroke-linejoin="round" stroke-linecap="round" stroke-dasharray="9 3 2 3"/>
<path d="M652.5,660.4 L651.4,661.2 L650.4,662.1 L649.5,663.2 L648.8,664.5 L648.2,665.9 L647.8,667.4 L647.5,669.1 L647.4,670.9 L647.4,672.7 L647.6,674.6 L647.9,676.5 L648.4,678.5 L649,680.5 L649.8,682.5 L650.7,684.4 L651.7,686.3 L652.8,688.2 L654.1,689.9 L655.4,691.6 L656.8,693.1 L658.3,694.5 L659.8,695.8 L661.3,696.9 L662.9,697.8 L664.5,698.6 L666.1,699.1 L667.6,699.5 L669.1,699.7 L670.6,699.7 L672,699.5 L673.3,699.1 L674.5,698.6 L697,685.6 L698.1,684.8 L699.1,683.9 L700,682.8 L700.7,681.5 L701.3,680.1 L701.7,678.6 L702,676.9 L702.1,675.1 L702.1,673.3 L701.9,671.4 L701.6,669.5 L701.1,667.5 L700.5,665.5 L699.7,663.5 L698.9,661.6 L697.8,659.7 L696.7,657.8 L695.5,656.1 L694.1,654.4 L692.7,652.9 L691.2,651.5 L689.7,650.2 L688.2,649.1 L686.6,648.2 L685,647.4 L683.4,646.9 L681.9,646.5 L680.4,646.3 L678.9,646.3 L677.5,646.5 L676.2,646.9 L675,647.4 Z" stroke="none" stroke-width="0.01" fill="#fff" stroke-linejoin="round" stroke-linecap="round" />
<path d="M674.5,698.6 L675.6,697.8 L676.6,696.9 L677.5,695.8 L678.2,694.5 L678.8,693.1 L679.2,691.6 L679.5,689.9 L679.6,688.1 L679.6,686.3 L679.4,684.4 L679.1,682.5 L678.6,680.5 L678,678.5 L677.2,676.5 L676.3,674.6 L675.3,672.7 L674.2,670.8 L672.9,669.1 L671.6,667.4 L670.2,665.9 L668.7,664.5 L667.2,663.2 L665.7,662.1 L664.1,661.2 L662.5,660.4 L660.9,659.9 L659.4,659.5 L657.9,659.3 L656.4,659.3 L655,659.5 L653.7,659.9 L652.5,660.4 L651.4,661.2 L650.4,662.1 L649.5,663.2 L648.8,664.5 L648.2,665.9 L647.8,667.4 L647.5,669.1 L647.4,670.9 L647.4,672.7 L647.6,674.6 L647.9,676.5 L648.4,678.5 L649,680.5 L649.8,682.5 L650.7,684.4 L651.7,686.3 L652.8,688.2 L654.1,689.9 L655.4,691.6 L656.8,693.1 L658.3,694.5 L659.8,695.8 L661.3,696.9 L662.9,697.8 L664.5,698.6 L666.1,699.1 L667.6,699.5 L669.1,699.7 L670.6,699.7 L672,699.5 L673.3,699.1 L674.5,698.6 Z" stroke="#000" stroke-width="2.128" fill="none" stroke-linejoin="round" stroke-linecap="round" />
<path d="M697,685.6 L698.1,684.8 L699.1,683.9 L700,682.8 L700.7,681.5 L701.3,680.1 L701.7,678.6 L702,676.9 L702.1,675.1 L702.1,673.3 L701.9,671.4 L701.6,669.5 L701.1,667.5 L700.5,665.5 L699.7,663.5 L698.9,661.6 L697.8,659.7 L696.7,657.8 L695.5,656.1 L694.1,654.4 L692.7,652.9 L691.2,651.5 L689.7,650.2 L688.2,649.1 L686.6,648.2 L685,647.4 L683.4,646.9 L681.9,646.5 L680.4,646.3 L678.9,646.3 L677.5,646.5 L676.2,646.9 L675,647.4" stroke="#000" stroke-width="2.128" fill="none" stroke-linejoin="round" stroke-linecap="round" />
<path d="M652.5,660.4 L675,647.4" stroke="#000" stroke-width="2.128" fill="none" stroke-linejoin="round" stroke-linecap="round" />
<path d="M674.5,698.6 L697,685.6" stroke="#000" stroke-width="2.128" fill="none" stroke-linejoin="round" stroke-linecap="round" />
<path d="M686.7,648.3 L674.6,655.3 L673,654.5 L671.3,653.9 L669.8,653.5 L668.2,653.3 L666.8,653.3 L665.3,653.5 L677.5,646.5" stroke="#000" stroke-width="1.9040000000000001" fill="#fff" stroke-linejoin="round" stroke-linecap="round" />
<path d="M674.7,652.7 L684.3,647.2" stroke="#000" stroke-width="1.4560000000000002" fill="none" stroke-linejoin="round" stroke-linecap="round" />
<path d="M702,672 L689.9,679 L689.6,677.1 L689.2,675.1 L688.6,673 L687.8,671 L686.9,669 L685.9,667.1 L698.1,660.1" stroke="#000" stroke-width="1.9040000000000001" fill="#fff" stroke-linejoin="round" stroke-linecap="round" />
<path d="M692,674.6 L701.5,669.1" stroke="#000" stroke-width="1.4560000000000002" fill="none" stroke-linejoin="round" stroke-linecap="round" />
<path d="M697.6,685.2 L687.2,691.2 L688,690.6 L688.8,689.8 L689.4,689 L690,688.1 L690.5,687 L690.9,686 L701.3,680" stroke="#000" stroke-width="1.9040000000000001" fill="#fff" stroke-linejoin="round" stroke-linecap="round" />
<path d="M691.3,688.3 L699.1,683.8" stroke="#000" stroke-width="1.4560000000000002" fill="none" stroke-linejoin="round" stroke-linecap="round" />
<path d="M669.5,689.9 L670.1,689.5 L670.6,689 L671.1,688.4 L671.5,687.7 L671.8,686.9 L672.1,686.1 L672.2,685.2 L672.3,684.2 L672.3,683.2 L672.2,682.2 L672,681.1 L671.7,680 L671.4,679 L671,677.9 L670.5,676.8 L669.9,675.8 L669.3,674.8 L668.6,673.8 L667.9,672.9 L667.2,672.1 L666.4,671.3 L665.5,670.6 L664.7,670 L663.8,669.5 L662.9,669.1 L662.1,668.8 L661.2,668.6 L660.4,668.5 L659.6,668.5 L658.9,668.6 L658.2,668.8 L657.5,669.1 L656.9,669.5 L656.4,670 L655.9,670.6 L655.5,671.3 L655.2,672.1 L654.9,672.9 L654.8,673.8 L654.7,674.8 L654.7,675.8 L654.8,676.8 L655,677.9 L655.3,679 L655.6,680 L656,681.1 L656.5,682.2 L657.1,683.2 L657.7,684.2 L658.4,685.2 L659.1,686.1 L659.8,686.9 L660.6,687.7 L661.5,688.4 L662.3,689 L663.2,689.5 L664.1,689.9 L664.9,690.2 L665.8,690.4 L666.6,690.5 L667.4,690.5 L668.1,690.4 L668.8,690.2 L669.5,689.9 Z" stroke="#000" stroke-width="1.568" fill="none" stroke-linejoin="round" stroke-linecap="round" />
<path d="M658.9,677.5 L663.3,683.1 L668.6,682.3 L665.1,676.3 Z" stroke="#000" stroke-width="1.4560000000000002" fill="none" stroke-linejoin="round" stroke-linecap="round" />
<path d="M780,771 L900,702" stroke="#666" stroke-width="0.9" fill="none" stroke-linejoin="round" stroke-linecap="round" />
<path d="M824.5,754.9 L824.9,754.2 L825.2,753.4 L825.4,752.4 L825.5,751.4 L825.4,750.3 L825.2,749.2 L824.8,748.1 L824.4,747 L823.8,745.9 L823.2,744.8 L822.4,743.9 L821.6,743 L820.8,742.3 L819.9,741.7 L819,741.3 L818.1,741 L817.2,740.8 L816.4,740.9 L815.7,741.1 L815,741.5 L814.4,742 L814,742.7 L813.6,743.5 L813.4,744.4 L813.3,745.4 L813.4,746.5 L813.6,747.6 L813.9,748.7 L814.3,749.8 L814.9,750.9 L815.5,752 L816.2,753 L817,753.8 L817.9,754.6 L818.8,755.2 L819.7,755.7 L820.6,756 L821.4,756.1 L822.2,756.1 L823,755.9" stroke="#000" stroke-width="2.24" fill="none" stroke-linejoin="round" stroke-linecap="round" />
<path d="M830.6,751.4 L831,750.7 L831.3,749.9 L831.5,749 L831.6,748 L831.5,746.9 L831.3,745.8 L830.9,744.7 L830.5,743.5 L829.9,742.4 L829.3,741.4 L828.5,740.4 L827.7,739.6 L826.9,738.9 L826,738.3 L825.1,737.8 L824.2,737.5 L823.3,737.4 L822.5,737.5 L821.8,737.7 L821.1,738 L820.5,738.6 L820.1,739.2 L819.7,740 L819.5,741 L819.4,742 L819.5,743 L819.7,744.1 L820,745.3 L820.4,746.4 L821,747.5 L821.6,748.5 L822.3,749.5 L823.1,750.4 L824,751.1 L824.9,751.8 L825.8,752.2 L826.7,752.6 L827.5,752.7 L828.3,752.7 L829.1,752.5" stroke="#000" stroke-width="2.24" fill="none" stroke-linejoin="round" stroke-linecap="round" />
<path d="M836.7,748 L837.1,747.3 L837.4,746.5 L837.6,745.6 L837.7,744.5 L837.6,743.5 L837.4,742.4 L837,741.2 L836.6,740.1 L836,739 L835.4,738 L834.6,737 L833.8,736.2 L833,735.4 L832.1,734.8 L831.2,734.4 L830.3,734.1 L829.4,734 L828.6,734 L827.9,734.2 L827.2,734.6 L826.6,735.1 L826.2,735.8 L825.8,736.6 L825.6,737.5 L825.5,738.5 L825.6,739.6 L825.8,740.7 L826.1,741.8 L826.5,743 L827.1,744.1 L827.7,745.1 L828.4,746.1 L829.2,747 L830.1,747.7 L831,748.3 L831.9,748.8 L832.8,749.1 L833.6,749.3 L834.4,749.3 L835.2,749.1" stroke="#000" stroke-width="2.24" fill="none" stroke-linejoin="round" stroke-linecap="round" />
<path d="M842.8,744.6 L843.2,743.9 L843.5,743.1 L843.7,742.1 L843.8,741.1 L843.7,740 L843.5,738.9 L843.1,737.8 L842.7,736.7 L842.1,735.6 L841.5,734.5 L840.7,733.6 L839.9,732.7 L839.1,732 L838.2,731.4 L837.3,730.9 L836.4,730.7 L835.5,730.5 L834.7,730.6 L834,730.8 L833.3,731.2 L832.7,731.7 L832.3,732.4 L831.9,733.2 L831.7,734.1 L831.6,735.1 L831.7,736.2 L831.9,737.3 L832.2,738.4 L832.6,739.5 L833.2,740.6 L833.8,741.7 L834.5,742.6 L835.3,743.5 L836.2,744.3 L837.1,744.9 L838,745.4 L838.9,745.7 L839.7,745.8 L840.5,745.8 L841.3,745.6" stroke="#000" stroke-width="2.24" fill="none" stroke-linejoin="round" stroke-linecap="round" />
<path d="M848.9,741.1 L849.3,740.4 L849.6,739.6 L849.8,738.7 L849.9,737.7 L849.8,736.6 L849.6,735.5 L849.2,734.3 L848.8,733.2 L848.2,732.1 L847.6,731.1 L846.8,730.1 L846,729.3 L845.1,728.6 L844.3,728 L843.4,727.5 L842.5,727.2 L841.6,727.1 L840.8,727.1 L840.1,727.4 L839.4,727.7 L838.8,728.3 L838.4,728.9 L838,729.7 L837.8,730.6 L837.7,731.6 L837.8,732.7 L838,733.8 L838.3,735 L838.7,736.1 L839.3,737.2 L839.9,738.2 L840.6,739.2 L841.4,740.1 L842.3,740.8 L843.2,741.5 L844.1,741.9 L845,742.2 L845.8,742.4 L846.6,742.4 L847.4,742.2" stroke="#000" stroke-width="2.24" fill="none" stroke-linejoin="round" stroke-linecap="round" />
<path d="M854.9,737.7 L855.4,737 L855.7,736.2 L855.9,735.3 L856,734.2 L855.9,733.2 L855.7,732 L855.3,730.9 L854.9,729.8 L854.3,728.7 L853.7,727.7 L852.9,726.7 L852.1,725.8 L851.2,725.1 L850.4,724.5 L849.5,724.1 L848.6,723.8 L847.7,723.7 L846.9,723.7 L846.2,723.9 L845.5,724.3 L844.9,724.8 L844.5,725.5 L844.1,726.3 L843.9,727.2 L843.8,728.2 L843.9,729.3 L844.1,730.4 L844.4,731.5 L844.8,732.7 L845.4,733.8 L846,734.8 L846.7,735.8 L847.5,736.6 L848.4,737.4 L849.3,738 L850.2,738.5 L851.1,738.8 L851.9,739 L852.7,738.9 L853.5,738.8" stroke="#000" stroke-width="2.24" fill="none" stroke-linejoin="round" stroke-linecap="round" />
<path d="M861,734.3 L861.5,733.6 L861.8,732.7 L862,731.8 L862,730.8 L862,729.7 L861.8,728.6 L861.4,727.5 L861,726.3 L860.4,725.3 L859.8,724.2 L859,723.3 L858.2,722.4 L857.3,721.7 L856.5,721.1 L855.6,720.6 L854.7,720.3 L853.8,720.2 L853,720.3 L852.3,720.5 L851.6,720.9 L851,721.4 L850.6,722.1 L850.2,722.9 L850,723.8 L849.9,724.8 L850,725.8 L850.2,727 L850.5,728.1 L850.9,729.2 L851.5,730.3 L852.1,731.4 L852.8,732.3 L853.6,733.2 L854.5,734 L855.4,734.6 L856.3,735.1 L857.2,735.4 L858,735.5 L858.8,735.5 L859.6,735.3" stroke="#000" stroke-width="2.24" fill="none" stroke-linejoin="round" stroke-linecap="round" />
<path d="M867.1,730.8 L867.6,730.1 L867.9,729.3 L868.1,728.4 L868.1,727.4 L868.1,726.3 L867.9,725.2 L867.5,724 L867.1,722.9 L866.5,721.8 L865.9,720.8 L865.1,719.8 L864.3,719 L863.4,718.2 L862.6,717.6 L861.7,717.2 L860.8,716.9 L859.9,716.8 L859.1,716.8 L858.4,717 L857.7,717.4 L857.1,718 L856.7,718.6 L856.3,719.4 L856.1,720.3 L856,721.3 L856.1,722.4 L856.3,723.5 L856.6,724.7 L857,725.8 L857.6,726.9 L858.2,727.9 L858.9,728.9 L859.7,729.8 L860.6,730.5 L861.5,731.1 L862.4,731.6 L863.2,731.9 L864.1,732.1 L864.9,732.1 L865.7,731.9" stroke="#000" stroke-width="2.24" fill="none" stroke-linejoin="round" stroke-linecap="round" />
<path d="M873.2,727.4 L873.7,726.7 L874,725.9 L874.2,724.9 L874.2,723.9 L874.2,722.9 L874,721.7 L873.6,720.6 L873.2,719.5 L872.6,718.4 L872,717.3 L871.2,716.4 L870.4,715.5 L869.5,714.8 L868.7,714.2 L867.8,713.8 L866.9,713.5 L866,713.4 L865.2,713.4 L864.5,713.6 L863.8,714 L863.2,714.5 L862.8,715.2 L862.4,716 L862.2,716.9 L862.1,717.9 L862.2,719 L862.4,720.1 L862.7,721.2 L863.1,722.3 L863.7,723.4 L864.3,724.5 L865,725.5 L865.8,726.3 L866.7,727.1 L867.6,727.7 L868.5,728.2 L869.3,728.5 L870.2,728.7 L871,728.6 L871.8,728.5" stroke="#000" stroke-width="2.24" fill="none" stroke-linejoin="round" stroke-linecap="round" />
<path d="M879.3,724 L879.8,723.3 L880.1,722.4 L880.3,721.5 L880.3,720.5 L880.3,719.4 L880.1,718.3 L879.7,717.2 L879.3,716 L878.7,714.9 L878.1,713.9 L877.3,713 L876.5,712.1 L875.6,711.4 L874.8,710.8 L873.9,710.3 L873,710 L872.1,709.9 L871.3,710 L870.6,710.2 L869.9,710.6 L869.3,711.1 L868.9,711.8 L868.5,712.6 L868.3,713.5 L868.2,714.5 L868.3,715.5 L868.5,716.6 L868.8,717.8 L869.2,718.9 L869.8,720 L870.4,721.1 L871.1,722 L871.9,722.9 L872.8,723.7 L873.7,724.3 L874.6,724.7 L875.4,725.1 L876.3,725.2 L877.1,725.2 L877.9,725" stroke="#000" stroke-width="2.24" fill="none" stroke-linejoin="round" stroke-linecap="round" />
<path d="M885.4,720.5 L885.9,719.8 L886.2,719 L886.4,718.1 L886.4,717.1 L886.4,716 L886.2,714.9 L885.8,713.7 L885.4,712.6 L884.8,711.5 L884.1,710.5 L883.4,709.5 L882.6,708.7 L881.7,707.9 L880.9,707.3 L880,706.9 L879.1,706.6 L878.2,706.5 L877.4,706.5 L876.6,706.7 L876,707.1 L875.4,707.6 L875,708.3 L874.6,709.1 L874.4,710 L874.3,711 L874.4,712.1 L874.6,713.2 L874.9,714.3 L875.3,715.5 L875.9,716.6 L876.5,717.6 L877.2,718.6 L878,719.5 L878.9,720.2 L879.8,720.8 L880.7,721.3 L881.5,721.6 L882.4,721.8 L883.2,721.8 L884,721.6" stroke="#000" stroke-width="2.24" fill="none" stroke-linejoin="round" stroke-linecap="round" />
<circle cx="798.1" cy="760.3" r="8.3" fill="#fff" stroke="#000" stroke-width="1.8"/>
<path d="M696.4,757.7 L694,759.6 L691.9,761.8 L690.1,764.5 L688.7,767.5 L687.6,770.7 L686.8,774.3 L686.4,778.1 L686.4,782.1 L686.7,786.2 L687.4,790.5 L688.5,794.9 L689.9,799.3 L691.6,803.7 L693.7,808 L696,812.3 L698.6,816.5 L701.5,820.4 L704.6,824.2 L707.9,827.7 L711.3,831 L714.9,833.9 L718.5,836.6 L722.2,838.8 L725.9,840.7 L729.7,842.2 L733.3,843.2 L736.9,843.8 L740.3,844.1 L743.6,843.8 L746.8,843.2 L749.7,842.1 L752.3,840.6 L778.8,822.7 L781.2,820.8 L783.3,818.5 L785.1,815.9 L786.5,812.9 L787.7,809.6 L788.4,806.1 L788.8,802.3 L788.8,798.3 L788.5,794.1 L787.8,789.8 L786.7,785.5 L785.3,781.1 L783.6,776.7 L781.5,772.3 L779.2,768 L776.6,763.9 L773.7,759.9 L770.6,756.1 L767.4,752.6 L763.9,749.3 L760.4,746.4 L756.7,743.8 L753,741.5 L749.3,739.7 L745.6,738.2 L741.9,737.1 L738.3,736.5 L734.9,736.3 L731.6,736.5 L728.5,737.2 L725.6,738.3 L722.9,739.8 Z" stroke="none" stroke-width="0.01" fill="#fff" stroke-linejoin="round" stroke-linecap="round" />
<path d="M747.7,835.2 L774.2,817.3 L778,823.2 L751.5,841.1 Z" stroke="#000" stroke-width="1.4112000000000002" fill="#fff" stroke-linejoin="round" stroke-linecap="round" />
<path d="M751.1,832.5 L777.6,814.6 L782,820 L755.5,837.9 Z" stroke="#000" stroke-width="1.4112000000000002" fill="#fff" stroke-linejoin="round" stroke-linecap="round" />
<path d="M751.5,841.1 L778,823.2 L782,820 L755.5,837.9 Z" stroke="#000" stroke-width="1.6128000000000002" fill="#fff" stroke-linejoin="round" stroke-linecap="round" />
<path d="M704.7,761.4 L731.2,743.5 L728,737.3 L701.5,755.2 Z" stroke="#000" stroke-width="1.4112000000000002" fill="#fff" stroke-linejoin="round" stroke-linecap="round" />
<path d="M700.7,763.2 L727.2,745.3 L723.4,739.5 L696.8,757.4 Z" stroke="#000" stroke-width="1.4112000000000002" fill="#fff" stroke-linejoin="round" stroke-linecap="round" />
<path d="M701.5,755.2 L728,737.3 L723.4,739.5 L696.8,757.4 Z" stroke="#000" stroke-width="1.6128000000000002" fill="#fff" stroke-linejoin="round" stroke-linecap="round" />
<path d="M697.9,765.5 L724.4,747.6 L720.1,742.1 L693.6,760 Z" stroke="#000" stroke-width="1.4112000000000002" fill="#fff" stroke-linejoin="round" stroke-linecap="round" />
<path d="M695.1,769 L721.6,751.1 L716.9,746.2 L690.3,764.1 Z" stroke="#000" stroke-width="1.4112000000000002" fill="#fff" stroke-linejoin="round" stroke-linecap="round" />
<path d="M693.6,760 L720.1,742.1 L716.9,746.2 L690.3,764.1 Z" stroke="#000" stroke-width="1.6128000000000002" fill="#fff" stroke-linejoin="round" stroke-linecap="round" />
<path d="M739.9,837.7 L766.4,819.8 L769,826.1 L742.4,844 Z" stroke="#000" stroke-width="1.4112000000000002" fill="#fff" stroke-linejoin="round" stroke-linecap="round" />
<path d="M744.4,836.7 L770.9,818.9 L774.2,825 L747.6,842.9 Z" stroke="#000" stroke-width="1.4112000000000002" fill="#fff" stroke-linejoin="round" stroke-linecap="round" />
<path d="M742.4,844 L769,826.1 L774.2,825 L747.6,842.9 Z" stroke="#000" stroke-width="1.6128000000000002" fill="#fff" stroke-linejoin="round" stroke-linecap="round" />
<path d="M753.4,829.6 L779.9,811.7 L784.6,816.6 L758.1,834.5 Z" stroke="#000" stroke-width="1.4112000000000002" fill="#fff" stroke-linejoin="round" stroke-linecap="round" />
<path d="M755.4,825.3 L782,807.4 L787,811.6 L760.5,829.5 Z" stroke="#000" stroke-width="1.4112000000000002" fill="#fff" stroke-linejoin="round" stroke-linecap="round" />
<path d="M758.1,834.5 L784.6,816.6 L787,811.6 L760.5,829.5 Z" stroke="#000" stroke-width="1.6128000000000002" fill="#fff" stroke-linejoin="round" stroke-linecap="round" />
<path d="M713.3,760.6 L739.8,742.7 L738,736.5 L711.5,754.4 Z" stroke="#000" stroke-width="1.4112000000000002" fill="#fff" stroke-linejoin="round" stroke-linecap="round" />
<path d="M708.4,760.6 L734.9,742.7 L732.3,736.4 L705.8,754.3 Z" stroke="#000" stroke-width="1.4112000000000002" fill="#fff" stroke-linejoin="round" stroke-linecap="round" />
<path d="M711.5,754.4 L738,736.5 L732.3,736.4 L705.8,754.3 Z" stroke="#000" stroke-width="1.6128000000000002" fill="#fff" stroke-linejoin="round" stroke-linecap="round" />
<path d="M756.5,821.2 L783,803.3 L788.3,806.9 L761.7,824.8 Z" stroke="#000" stroke-width="1.4112000000000002" fill="#fff" stroke-linejoin="round" stroke-linecap="round" />
<path d="M757,815.7 L783.5,797.8 L788.9,800.5 L762.3,818.4 Z" stroke="#000" stroke-width="1.4112000000000002" fill="#fff" stroke-linejoin="round" stroke-linecap="round" />
<path d="M761.7,824.8 L788.3,806.9 L788.9,800.5 L762.3,818.4 Z" stroke="#000" stroke-width="1.6128000000000002" fill="#fff" stroke-linejoin="round" stroke-linecap="round" />
<path d="M722.8,763.3 L749.3,745.4 L749.1,739.6 L722.6,757.5 Z" stroke="#000" stroke-width="1.4112000000000002" fill="#fff" stroke-linejoin="round" stroke-linecap="round" />
<path d="M717.5,761.4 L744,743.5 L742.9,737.4 L716.4,755.3 Z" stroke="#000" stroke-width="1.4112000000000002" fill="#fff" stroke-linejoin="round" stroke-linecap="round" />
<path d="M722.6,757.5 L749.1,739.6 L742.9,737.4 L716.4,755.3 Z" stroke="#000" stroke-width="1.6128000000000002" fill="#fff" stroke-linejoin="round" stroke-linecap="round" />
<path d="M756.8,810.9 L783.3,793 L788.6,794.9 L762,812.8 Z" stroke="#000" stroke-width="1.4112000000000002" fill="#fff" stroke-linejoin="round" stroke-linecap="round" />
<path d="M755.7,804.7 L782.2,786.8 L787.3,787.7 L760.8,805.6 Z" stroke="#000" stroke-width="1.4112000000000002" fill="#fff" stroke-linejoin="round" stroke-linecap="round" />
<path d="M762,812.8 L788.6,794.9 L787.3,787.7 L760.8,805.6 Z" stroke="#000" stroke-width="1.6128000000000002" fill="#fff" stroke-linejoin="round" stroke-linecap="round" />
<path d="M732.5,769.2 L759,751.3 L760.3,746.4 L733.8,764.3 Z" stroke="#000" stroke-width="1.4112000000000002" fill="#fff" stroke-linejoin="round" stroke-linecap="round" />
<path d="M727.2,765.6 L753.7,747.7 L754.2,742.2 L727.7,760.1 Z" stroke="#000" stroke-width="1.4112000000000002" fill="#fff" stroke-linejoin="round" stroke-linecap="round" />
<path d="M733.8,764.3 L760.3,746.4 L754.2,742.2 L727.7,760.1 Z" stroke="#000" stroke-width="1.6128000000000002" fill="#fff" stroke-linejoin="round" stroke-linecap="round" />
<path d="M754.2,799.5 L780.7,781.6 L785.5,781.7 L759,799.6 Z" stroke="#000" stroke-width="1.4112000000000002" fill="#fff" stroke-linejoin="round" stroke-linecap="round" />
<path d="M751.6,793.2 L778.1,775.3 L782.5,774.3 L756,792.2 Z" stroke="#000" stroke-width="1.4112000000000002" fill="#fff" stroke-linejoin="round" stroke-linecap="round" />
<path d="M759,799.6 L785.5,781.7 L782.5,774.3 L756,792.2 Z" stroke="#000" stroke-width="1.6128000000000002" fill="#fff" stroke-linejoin="round" stroke-linecap="round" />
<path d="M741.5,777.7 L768,759.8 L770.8,756.3 L744.2,774.2 Z" stroke="#000" stroke-width="1.4112000000000002" fill="#fff" stroke-linejoin="round" stroke-linecap="round" />
<path d="M736.7,772.7 L763.2,754.8 L765.2,750.5 L738.7,768.4 Z" stroke="#000" stroke-width="1.4112000000000002" fill="#fff" stroke-linejoin="round" stroke-linecap="round" />
<path d="M744.2,774.2 L770.8,756.3 L765.2,750.5 L738.7,768.4 Z" stroke="#000" stroke-width="1.6128000000000002" fill="#fff" stroke-linejoin="round" stroke-linecap="round" />
<path d="M748.9,788.1 L775.4,770.2 L779.4,768.4 L752.9,786.3 Z" stroke="#000" stroke-width="1.4112000000000002" fill="#fff" stroke-linejoin="round" stroke-linecap="round" />
<path d="M745,782.2 L771.6,764.3 L774.9,761.5 L748.4,779.4 Z" stroke="#000" stroke-width="1.4112000000000002" fill="#fff" stroke-linejoin="round" stroke-linecap="round" />
<path d="M752.9,786.3 L779.4,768.4 L774.9,761.5 L748.4,779.4 Z" stroke="#000" stroke-width="1.6128000000000002" fill="#fff" stroke-linejoin="round" stroke-linecap="round" />
<path d="M751.5,841.1 L755.5,837.9 L751.1,832.5 L753.4,829.6 L758.1,834.5 L760.5,829.5 L755.4,825.3 L756.5,821.2 L761.7,824.8 L762.3,818.4 L757,815.7 L756.8,810.9 L762,812.8 L760.8,805.6 L755.7,804.7 L754.2,799.5 L759,799.6 L756,792.2 L751.6,793.2 L748.9,788.1 L752.9,786.3 L748.4,779.4 L745,782.2 L741.5,777.7 L744.2,774.2 L738.7,768.4 L736.7,772.7 L732.5,769.2 L733.8,764.3 L727.7,760.1 L727.2,765.6 L722.8,763.3 L722.6,757.5 L716.4,755.3 L717.5,761.4 L713.3,760.6 L711.5,754.4 L705.8,754.3 L708.4,760.6 L704.7,761.4 L701.5,755.2 L696.8,757.4 L700.7,763.2 L697.9,765.5 L693.6,760 L690.3,764.1 L695.1,769 L693.4,772.6 L688.4,768.2 L686.9,774 L692.1,777.5 L691.7,782 L686.4,779.2 L686.7,786.1 L692,787.9 L692.9,793 L687.8,792 L689.9,799.3 L694.7,799.3 L696.9,804.5 L692.4,805.4 L696.2,812.6 L700.1,810.7 L703.3,815.5 L699.9,818.2 L704.9,824.6 L707.7,821 L711.6,825.1 L709.5,829.3 L715.4,834.4 L716.7,829.4 L721,832.4 L720.5,837.8 L726.7,841 L726.4,835.2 L730.7,836.7 L731.8,842.8 L737.8,843.9 L735.9,837.7 L739.9,837.7 L742.4,844 L747.6,842.9 L744.4,836.7 L747.7,835.2 Z" stroke="#000" stroke-width="2.0160000000000005" fill="#fff" stroke-linejoin="round" stroke-linecap="round" />
<path d="M693.1,763.5 L690.8,765.3 L688.7,767.5 L687,770.1 L685.5,772.9 L684.4,776 L683.7,779.4 L683.2,783 L683.2,786.8 L683.4,790.8 L684,794.8 L685,798.9 L686.3,803.1 L687.9,807.3 L689.8,811.4 L692,815.4 L694.4,819.3 L697.1,823 L700,826.6 L703.1,829.9 L706.4,832.9 L709.8,835.7 L713.2,838.1 L716.8,840.2 L720.3,841.9 L723.9,843.3 L727.4,844.2 L730.8,844.8 L734.1,844.9 L737.3,844.6 L740.3,844 L743.1,842.9 L745.7,841.4 L752.3,837 L754.6,835.1 L756.6,832.9 L758.4,830.4 L759.8,827.6 L760.9,824.4 L761.7,821.1 L762.1,817.5 L762.2,813.7 L762,809.7 L761.3,805.7 L760.4,801.5 L759.1,797.4 L757.5,793.2 L755.6,789.1 L753.4,785.1 L750.9,781.2 L748.2,777.4 L745.3,773.9 L742.2,770.6 L739,767.6 L735.6,764.8 L732.1,762.4 L728.6,760.3 L725.1,758.6 L721.5,757.2 L718,756.3 L714.6,755.7 L711.3,755.6 L708.1,755.8 L705.1,756.5 L702.3,757.6 L699.7,759 Z" stroke="none" stroke-width="0.01" fill="#fff" stroke-linejoin="round" stroke-linecap="round" />
<path d="M745.7,841.4 L748,839.6 L750,837.4 L751.8,834.9 L753.2,832 L754.3,828.9 L755.1,825.5 L755.5,821.9 L755.6,818.1 L755.3,814.2 L754.7,810.1 L753.8,806 L752.5,801.8 L750.9,797.7 L749,793.6 L746.8,789.6 L744.3,785.7 L741.6,781.9 L738.7,778.4 L735.6,775.1 L732.4,772 L729,769.3 L725.5,766.8 L722,764.8 L718.4,763 L714.9,761.7 L711.4,760.7 L708,760.2 L704.6,760 L701.5,760.3 L698.5,761 L695.7,762 L693.1,763.5 L690.8,765.3 L688.7,767.5 L687,770.1 L685.5,772.9 L684.4,776 L683.7,779.4 L683.2,783 L683.2,786.8 L683.4,790.8 L684,794.8 L685,798.9 L686.3,803.1 L687.9,807.3 L689.8,811.4 L692,815.4 L694.4,819.3 L697.1,823 L700,826.6 L703.1,829.9 L706.4,832.9 L709.8,835.7 L713.2,838.1 L716.8,840.2 L720.3,841.9 L723.9,843.3 L727.4,844.2 L730.8,844.8 L734.1,844.9 L737.3,844.6 L740.3,844 L743.1,842.9 L745.7,841.4 Z" stroke="#000" stroke-width="2.24" fill="none" stroke-linejoin="round" stroke-linecap="round" />
<path d="M752.3,837 L754.6,835.1 L756.6,832.9 L758.4,830.4 L759.8,827.6 L760.9,824.4 L761.7,821.1 L762.1,817.5 L762.2,813.7 L762,809.7 L761.3,805.7 L760.4,801.5 L759.1,797.4 L757.5,793.2 L755.6,789.1 L753.4,785.1 L750.9,781.2 L748.2,777.4 L745.3,773.9 L742.2,770.6 L739,767.6 L735.6,764.8 L732.1,762.4 L728.6,760.3 L725.1,758.6 L721.5,757.2 L718,756.3 L714.6,755.7 L711.3,755.6 L708.1,755.8 L705.1,756.5 L702.3,757.6 L699.7,759" stroke="#000" stroke-width="2.24" fill="none" stroke-linejoin="round" stroke-linecap="round" />
<path d="M693.1,763.5 L699.7,759" stroke="#000" stroke-width="2.24" fill="none" stroke-linejoin="round" stroke-linecap="round" />
<path d="M745.7,841.4 L752.3,837" stroke="#000" stroke-width="2.24" fill="none" stroke-linejoin="round" stroke-linecap="round" />
<path d="M743.4,838.1 L745.5,836.4 L747.4,834.4 L749,832.1 L750.3,829.5 L751.3,826.7 L752,823.6 L752.4,820.3 L752.5,816.8 L752.3,813.2 L751.7,809.5 L750.8,805.7 L749.7,801.9 L748.2,798.1 L746.4,794.3 L744.4,790.7 L742.2,787.1 L739.7,783.7 L737.1,780.4 L734.2,777.4 L731.3,774.6 L728.2,772.1 L725,769.9 L721.8,768 L718.5,766.4 L715.3,765.2 L712.1,764.3 L708.9,763.8 L705.9,763.7 L703,763.9 L700.2,764.5 L697.7,765.5 L695.3,766.8 L693.2,768.5 L691.3,770.5 L689.7,772.8 L688.4,775.4 L687.4,778.3 L686.7,781.4 L686.3,784.7 L686.2,788.1 L686.5,791.8 L687,795.5 L687.9,799.2 L689.1,803.1 L690.6,806.9 L692.3,810.6 L694.3,814.3 L696.6,817.9 L699,821.3 L701.7,824.5 L704.5,827.5 L707.5,830.3 L710.6,832.9 L713.8,835.1 L717,837 L720.2,838.6 L723.5,839.8 L726.7,840.7 L729.8,841.2 L732.9,841.3 L735.8,841.1 L738.5,840.4 L741.1,839.5 L743.4,838.1 Z" stroke="#000" stroke-width="1.4560000000000002" fill="none" stroke-linejoin="round" stroke-linecap="round" />
<path d="M673.8,788.6 L672,790 L670.4,791.7 L669,793.7 L667.9,796 L667,798.4 L666.4,801.1 L666.1,803.9 L666,806.9 L666.2,810 L666.7,813.2 L667.4,816.5 L668.4,819.7 L669.7,823 L671.2,826.3 L672.9,829.4 L674.9,832.5 L677,835.4 L679.3,838.2 L681.7,840.8 L684.3,843.2 L686.9,845.4 L689.7,847.3 L692.5,848.9 L695.3,850.3 L698,851.4 L700.8,852.1 L703.5,852.5 L706.1,852.7 L708.6,852.4 L711,851.9 L713.2,851.1 L715.2,849.9 L740.1,833.1 L741.9,831.7 L743.5,830 L744.9,828 L746,825.7 L746.9,823.3 L747.5,820.6 L747.8,817.8 L747.9,814.8 L747.7,811.7 L747.2,808.5 L746.4,805.3 L745.4,802 L744.2,798.7 L742.7,795.5 L740.9,792.3 L739,789.2 L736.9,786.3 L734.6,783.5 L732.2,780.9 L729.6,778.5 L726.9,776.3 L724.2,774.4 L721.4,772.8 L718.6,771.4 L715.8,770.4 L713.1,769.6 L710.4,769.2 L707.8,769.1 L705.3,769.3 L702.9,769.8 L700.7,770.7 L698.7,771.8 Z" stroke="none" stroke-width="0.01" fill="#fff" stroke-linejoin="round" stroke-linecap="round" />
<path d="M715.2,849.9 L717,848.5 L718.6,846.8 L720,844.8 L721.1,842.5 L722,840.1 L722.6,837.4 L723,834.6 L723,831.6 L722.8,828.5 L722.3,825.3 L721.6,822 L720.6,818.8 L719.3,815.5 L717.8,812.2 L716.1,809.1 L714.1,806 L712,803.1 L709.7,800.3 L707.3,797.7 L704.7,795.3 L702.1,793.1 L699.3,791.2 L696.6,789.6 L693.8,788.2 L691,787.1 L688.2,786.4 L685.5,786 L682.9,785.8 L680.4,786.1 L678,786.6 L675.8,787.4 L673.8,788.6 L672,790 L670.4,791.7 L669,793.7 L667.9,796 L667,798.4 L666.4,801.1 L666.1,803.9 L666,806.9 L666.2,810 L666.7,813.2 L667.4,816.5 L668.4,819.7 L669.7,823 L671.2,826.3 L672.9,829.4 L674.9,832.5 L677,835.4 L679.3,838.2 L681.7,840.8 L684.3,843.2 L686.9,845.4 L689.7,847.3 L692.5,848.9 L695.3,850.3 L698,851.4 L700.8,852.1 L703.5,852.5 L706.1,852.7 L708.6,852.4 L711,851.9 L713.2,851.1 L715.2,849.9 Z" stroke="#000" stroke-width="2.24" fill="none" stroke-linejoin="round" stroke-linecap="round" />
<path d="M740.1,833.1 L741.9,831.7 L743.5,830 L744.9,828 L746,825.7 L746.9,823.3 L747.5,820.6 L747.8,817.8 L747.9,814.8 L747.7,811.7 L747.2,808.5 L746.4,805.3 L745.4,802 L744.2,798.7 L742.7,795.5 L740.9,792.3 L739,789.2 L736.9,786.3 L734.6,783.5 L732.2,780.9 L729.6,778.5 L726.9,776.3 L724.2,774.4 L721.4,772.8 L718.6,771.4 L715.8,770.4 L713.1,769.6 L710.4,769.2 L707.8,769.1 L705.3,769.3 L702.9,769.8 L700.7,770.7 L698.7,771.8" stroke="#000" stroke-width="2.24" fill="none" stroke-linejoin="round" stroke-linecap="round" />
<path d="M673.8,788.6 L698.7,771.8" stroke="#000" stroke-width="2.24" fill="none" stroke-linejoin="round" stroke-linecap="round" />
<path d="M715.2,849.9 L740.1,833.1" stroke="#000" stroke-width="2.24" fill="none" stroke-linejoin="round" stroke-linecap="round" />
<path d="M713,846.6 L714.6,845.3 L716,843.8 L717.2,842 L718.3,840 L719,837.8 L719.6,835.4 L719.9,832.9 L719.9,830.2 L719.7,827.5 L719.3,824.6 L718.6,821.7 L717.7,818.8 L716.6,815.9 L715.3,813 L713.7,810.2 L712,807.4 L710.1,804.8 L708.1,802.3 L705.9,800 L703.6,797.9 L701.2,795.9 L698.8,794.2 L696.3,792.8 L693.8,791.6 L691.3,790.6 L688.9,789.9 L686.5,789.6 L684.2,789.5 L681.9,789.6 L679.8,790.1 L677.9,790.9 L676.1,791.9 L674.4,793.2 L673,794.7 L671.8,796.5 L670.8,798.5 L670,800.7 L669.4,803.1 L669.1,805.6 L669.1,808.3 L669.3,811 L669.7,813.9 L670.4,816.8 L671.3,819.7 L672.4,822.6 L673.7,825.5 L675.3,828.3 L677,831.1 L678.9,833.7 L680.9,836.2 L683.1,838.5 L685.4,840.6 L687.8,842.6 L690.2,844.3 L692.7,845.7 L695.2,846.9 L697.7,847.9 L700.1,848.6 L702.5,848.9 L704.9,849 L707.1,848.9 L709.2,848.4 L711.2,847.6 L713,846.6 Z" stroke="#000" stroke-width="1.568" fill="none" stroke-linejoin="round" stroke-linecap="round" />
<path d="M714.6,841.9 L715.8,841 L716.9,839.9 L717.8,838.7 L718.7,837.3 L719.4,835.9 L720,834.3 L720.4,832.6 L720.7,830.8 L720.9,829 L720.9,827 L720.8,825 L720.6,822.9 L720.2,820.9 L719.6,818.7 L718.9,816.6 L718.1,814.5 L717.2,812.4 L716.2,810.3 L715,808.3 L713.7,806.3 L712.4,804.4 L710.9,802.5 L709.4,800.8 L707.8,799.1 L706.1,797.6 L704.4,796.2 L702.6,794.9 L700.8,793.7 L699,792.7 L697.2,791.8 L695.4,791.1 L693.6,790.6 L691.8,790.2 L690.1,790 L688.4,789.9 L686.8,790 L685.2,790.3 L683.7,790.8 L682.3,791.4 L681,792.1" stroke="#000" stroke-width="1.344" fill="none" stroke-linejoin="round" stroke-linecap="round" />
<path d="M657.3,814.2 L656.1,815.1 L655.1,816.3 L654.2,817.6 L653.5,819.1 L652.9,820.7 L652.5,822.5 L652.3,824.4 L652.3,826.4 L652.5,828.5 L652.8,830.6 L653.4,832.8 L654.1,835 L654.9,837.2 L656,839.4 L657.1,841.5 L658.4,843.6 L659.9,845.6 L661.4,847.5 L663.1,849.2 L664.8,850.8 L666.5,852.3 L668.4,853.6 L670.2,854.8 L672.1,855.7 L673.9,856.4 L675.8,857 L677.6,857.3 L679.3,857.4 L680.9,857.3 L682.5,856.9 L683.9,856.4 L685.3,855.6 L710.1,838.9 L711.3,837.9 L712.4,836.8 L713.3,835.4 L714,834 L714.5,832.3 L714.9,830.5 L715.1,828.7 L715.1,826.7 L715,824.6 L714.6,822.4 L714.1,820.3 L713.4,818.1 L712.5,815.9 L711.5,813.7 L710.3,811.5 L709,809.5 L707.6,807.5 L706,805.6 L704.4,803.8 L702.7,802.2 L700.9,800.7 L699.1,799.4 L697.2,798.3 L695.4,797.3 L693.5,796.6 L691.7,796.1 L689.9,795.8 L688.2,795.7 L686.5,795.8 L685,796.1 L683.5,796.7 L682.2,797.4 Z" stroke="none" stroke-width="0.01" fill="#fff" stroke-linejoin="round" stroke-linecap="round" />
<path d="M662.9,817.6 L687.8,800.9 L685.5,796 L660.6,812.8 Z" stroke="#000" stroke-width="1.4112000000000002" fill="#fff" stroke-linejoin="round" stroke-linecap="round" />
<path d="M659.8,819.2 L684.7,802.4 L681.5,797.9 L656.6,814.7 Z" stroke="#000" stroke-width="1.4112000000000002" fill="#fff" stroke-linejoin="round" stroke-linecap="round" />
<path d="M660.6,812.8 L685.5,796 L681.5,797.9 L656.6,814.7 Z" stroke="#000" stroke-width="1.6128000000000002" fill="#fff" stroke-linejoin="round" stroke-linecap="round" />
<path d="M682.7,850.7 L707.6,833.9 L710.9,838.3 L686,855.1 Z" stroke="#000" stroke-width="1.4112000000000002" fill="#fff" stroke-linejoin="round" stroke-linecap="round" />
<path d="M684.9,847.9 L709.8,831.1 L713.6,834.7 L688.8,851.5 Z" stroke="#000" stroke-width="1.4112000000000002" fill="#fff" stroke-linejoin="round" stroke-linecap="round" />
<path d="M686,855.1 L710.9,838.3 L713.6,834.7 L688.8,851.5 Z" stroke="#000" stroke-width="1.6128000000000002" fill="#fff" stroke-linejoin="round" stroke-linecap="round" />
<path d="M670.9,818.8 L695.7,802 L695.6,797.5 L670.8,814.2 Z" stroke="#000" stroke-width="1.4112000000000002" fill="#fff" stroke-linejoin="round" stroke-linecap="round" />
<path d="M666.7,817.5 L691.6,800.7 L690.3,795.8 L665.4,812.6 Z" stroke="#000" stroke-width="1.4112000000000002" fill="#fff" stroke-linejoin="round" stroke-linecap="round" />
<path d="M670.8,814.2 L695.6,797.5 L690.3,795.8 L665.4,812.6 Z" stroke="#000" stroke-width="1.6128000000000002" fill="#fff" stroke-linejoin="round" stroke-linecap="round" />
<path d="M686,844 L710.9,827.2 L715,829.8 L690.2,846.6 Z" stroke="#000" stroke-width="1.4112000000000002" fill="#fff" stroke-linejoin="round" stroke-linecap="round" />
<path d="M685.9,839.4 L710.8,822.6 L714.9,823.9 L690,840.7 Z" stroke="#000" stroke-width="1.4112000000000002" fill="#fff" stroke-linejoin="round" stroke-linecap="round" />
<path d="M690.2,846.6 L715,829.8 L714.9,823.9 L690,840.7 Z" stroke="#000" stroke-width="1.6128000000000002" fill="#fff" stroke-linejoin="round" stroke-linecap="round" />
<path d="M678.9,825.1 L703.8,808.3 L706,805.5 L681.1,822.3 Z" stroke="#000" stroke-width="1.4112000000000002" fill="#fff" stroke-linejoin="round" stroke-linecap="round" />
<path d="M675.1,821.4 L699.9,804.6 L701,800.8 L676.1,817.6 Z" stroke="#000" stroke-width="1.4112000000000002" fill="#fff" stroke-linejoin="round" stroke-linecap="round" />
<path d="M681.1,822.3 L706,805.5 L701,800.8 L676.1,817.6 Z" stroke="#000" stroke-width="1.6128000000000002" fill="#fff" stroke-linejoin="round" stroke-linecap="round" />
<path d="M684.6,834.5 L709.5,817.7 L713.2,817.6 L688.3,834.3 Z" stroke="#000" stroke-width="1.4112000000000002" fill="#fff" stroke-linejoin="round" stroke-linecap="round" />
<path d="M682.2,829.6 L707.1,812.8 L710.2,811.3 L685.3,828 Z" stroke="#000" stroke-width="1.4112000000000002" fill="#fff" stroke-linejoin="round" stroke-linecap="round" />
<path d="M688.3,834.3 L713.2,817.6 L710.2,811.3 L685.3,828 Z" stroke="#000" stroke-width="1.6128000000000002" fill="#fff" stroke-linejoin="round" stroke-linecap="round" />
<path d="M686,855.1 L688.8,851.5 L684.9,847.9 L686,844 L690.2,846.6 L690,840.7 L685.9,839.4 L684.6,834.5 L688.3,834.3 L685.3,828 L682.2,829.6 L678.9,825.1 L681.1,822.3 L676.1,817.6 L675.1,821.4 L670.9,818.8 L670.8,814.2 L665.4,812.6 L666.7,817.5 L662.9,817.6 L660.6,812.8 L656.6,814.7 L659.8,819.2 L657.7,822 L653.8,818.3 L652.4,823.2 L656.6,825.8 L656.7,830.4 L652.6,829.1 L654.2,835.5 L658,835.3 L660.4,840.3 L657.3,841.8 L661.5,847.5 L663.6,844.7 L667.5,848.4 L666.5,852.2 L671.8,855.6 L671.7,851 L675.9,852.3 L677.1,857.2 L682,857.1 L679.6,852.2 L682.7,850.7 Z" stroke="#000" stroke-width="2.0160000000000005" fill="#fff" stroke-linejoin="round" stroke-linecap="round" />
<path d="M653.2,826 L652.3,826.7 L651.5,827.6 L650.8,828.5 L650.2,829.6 L649.7,830.8 L649.4,832.1 L649.2,833.5 L649.1,834.9 L649.2,836.4 L649.4,838 L649.7,839.5 L650.1,841.1 L650.7,842.7 L651.4,844.2 L652.2,845.7 L653.1,847.2 L654.1,848.5 L655.2,849.9 L656.4,851.1 L657.6,852.2 L658.9,853.2 L660.2,854.1 L661.6,854.8 L662.9,855.5 L664.3,855.9 L665.7,856.3 L667,856.4 L668.3,856.5 L669.5,856.3 L670.7,856 L671.8,855.6 L672.8,855 L681.1,849.4 L682,848.7 L682.8,847.8 L683.5,846.9 L684.1,845.8 L684.6,844.6 L684.9,843.3 L685.1,841.9 L685.2,840.5 L685.1,839 L684.9,837.4 L684.6,835.9 L684.1,834.3 L683.6,832.8 L682.9,831.2 L682.1,829.7 L681.2,828.3 L680.1,826.9 L679.1,825.6 L677.9,824.3 L676.7,823.2 L675.4,822.2 L674.1,821.3 L672.7,820.6 L671.3,819.9 L670,819.5 L668.6,819.1 L667.3,819 L666,819 L664.8,819.1 L663.6,819.4 L662.5,819.8 L661.5,820.4 Z" stroke="none" stroke-width="0.01" fill="#fff" stroke-linejoin="round" stroke-linecap="round" />
<path d="M672.8,855 L673.7,854.3 L674.5,853.4 L675.2,852.5 L675.8,851.4 L676.3,850.2 L676.6,848.9 L676.8,847.5 L676.9,846.1 L676.8,844.6 L676.6,843 L676.3,841.5 L675.9,839.9 L675.3,838.3 L674.6,836.8 L673.8,835.3 L672.9,833.8 L671.9,832.5 L670.8,831.1 L669.6,829.9 L668.4,828.8 L667.1,827.8 L665.8,826.9 L664.4,826.2 L663.1,825.5 L661.7,825.1 L660.3,824.7 L659,824.6 L657.7,824.5 L656.5,824.7 L655.3,825 L654.2,825.4 L653.2,826 L652.3,826.7 L651.5,827.6 L650.8,828.5 L650.2,829.6 L649.7,830.8 L649.4,832.1 L649.2,833.5 L649.1,834.9 L649.2,836.4 L649.4,838 L649.7,839.5 L650.1,841.1 L650.7,842.7 L651.4,844.2 L652.2,845.7 L653.1,847.2 L654.1,848.5 L655.2,849.9 L656.4,851.1 L657.6,852.2 L658.9,853.2 L660.2,854.1 L661.6,854.8 L662.9,855.5 L664.3,855.9 L665.7,856.3 L667,856.4 L668.3,856.5 L669.5,856.3 L670.7,856 L671.8,855.6 L672.8,855 Z" stroke="#000" stroke-width="2.24" fill="none" stroke-linejoin="round" stroke-linecap="round" />
<path d="M681.1,849.4 L682,848.7 L682.8,847.8 L683.5,846.9 L684.1,845.8 L684.6,844.6 L684.9,843.3 L685.1,841.9 L685.2,840.5 L685.1,839 L684.9,837.4 L684.6,835.9 L684.1,834.3 L683.6,832.8 L682.9,831.2 L682.1,829.7 L681.2,828.3 L680.1,826.9 L679.1,825.6 L677.9,824.3 L676.7,823.2 L675.4,822.2 L674.1,821.3 L672.7,820.6 L671.3,819.9 L670,819.5 L668.6,819.1 L667.3,819 L666,819 L664.8,819.1 L663.6,819.4 L662.5,819.8 L661.5,820.4" stroke="#000" stroke-width="2.24" fill="none" stroke-linejoin="round" stroke-linecap="round" />
<path d="M653.2,826 L661.5,820.4" stroke="#000" stroke-width="2.24" fill="none" stroke-linejoin="round" stroke-linecap="round" />
<path d="M672.8,855 L681.1,849.4" stroke="#000" stroke-width="2.24" fill="none" stroke-linejoin="round" stroke-linecap="round" />
<path d="M670.8,852.1 L671.4,851.7 L672,851.1 L672.5,850.5 L672.9,849.9 L673.3,849.2 L673.6,848.4 L673.8,847.6 L674,846.8 L674.1,845.9 L674.1,844.9 L674.1,844 L674,843 L673.8,842 L673.6,841 L673.3,840 L672.9,839 L672.5,838 L672,837.1 L671.5,836.1 L670.9,835.2 L670.3,834.3 L669.6,833.4 L668.8,832.6 L668.1,831.9 L667.3,831.1 L666.5,830.5 L665.6,829.9 L664.8,829.4 L663.9,828.9 L663,828.5 L662.2,828.2 L661.3,828 L660.4,827.8 L659.6,827.7 L658.8,827.7 L658,827.8 L657.2,828 L656.5,828.2 L655.8,828.5 L655.2,828.9" stroke="#000" stroke-width="1.4560000000000002" fill="none" stroke-linejoin="round" stroke-linecap="round" />
<path d="M668.6,848.8 L669.1,848.4 L669.6,847.9 L670,847.3 L670.3,846.7 L670.6,846 L670.8,845.3 L670.9,844.5 L670.9,843.7 L670.9,842.8 L670.8,841.9 L670.6,841.1 L670.3,840.2 L670,839.3 L669.6,838.4 L669.2,837.5 L668.6,836.7 L668.1,835.9 L667.4,835.2 L666.8,834.5 L666.1,833.8 L665.3,833.2 L664.6,832.7 L663.8,832.3 L663,831.9 L662.3,831.7 L661.5,831.5 L660.7,831.4 L660,831.4 L659.3,831.5 L658.6,831.6 L658,831.9 L657.4,832.2 L656.9,832.6 L656.4,833.1 L656,833.7 L655.7,834.3 L655.4,835 L655.2,835.7 L655.1,836.5 L655.1,837.3 L655.1,838.2 L655.2,839.1 L655.4,839.9 L655.7,840.8 L656,841.7 L656.4,842.6 L656.8,843.5 L657.4,844.3 L657.9,845.1 L658.6,845.8 L659.2,846.5 L659.9,847.2 L660.7,847.8 L661.4,848.3 L662.2,848.7 L663,849.1 L663.7,849.3 L664.5,849.5 L665.3,849.6 L666,849.6 L666.7,849.5 L667.4,849.4 L668,849.1 L668.6,848.8 Z" stroke="#000" stroke-width="2.0160000000000005" fill="#fff" stroke-linejoin="round" stroke-linecap="round" />
<path d="M528,784.6 C529.1,781.3 527.1,769.5 528,765 C528.9,760.5 532.2,754.2 535,751 C537.8,747.8 545.3,743.3 549,741.2 C552.7,739.1 559.1,736.3 563,735.6 C566.9,734.9 574.1,734.5 578.4,735.6 C582.7,736.7 591,741 595.1,744 C599.2,747 606.1,753.7 609.1,758 C612.1,762.3 615.6,773.2 617.5,776.2 C619.4,779.2 621.4,778.9 623.1,780.4 C624.8,781.9 629,785 630.1,787.4 C631.2,789.8 632.1,796.1 631.5,798.6 C630.9,801.1 628.2,801.8 625.9,806 C623.6,810.2 616.7,824.4 614,830 C611.3,835.6 608.4,844.3 606,848 C603.6,851.7 595.2,856.1 596,858 C596.8,859.9 608.1,860.9 612,862 C615.9,863.1 622,863.5 625,866 C628,868.5 633.6,875.9 634.6,880.4 C635.6,884.9 632.2,895.3 632.2,899.8 C632.2,904.3 634.9,909.4 634.6,914.3 C634.3,919.2 632.4,931 629.8,936.2 C627.2,941.4 619.8,949 615.2,953.1 C610.6,957.2 599.8,964.3 595.3,967.1 C590.8,969.9 585.7,972.6 581.7,973.9 C577.7,975.2 570.9,976.6 565.5,976.6 C560.1,976.6 547.1,975.5 541.2,973.9 C535.3,972.3 525.2,967.5 520.9,964.4 C516.6,961.3 511.4,954.1 508.7,950.9 C506,947.7 503.9,942.3 500.6,940.1 C497.3,937.9 487.6,937.2 484.3,934.7 C481,932.2 477.5,925.7 476.2,921.2 C474.9,916.7 474.9,907.2 474.9,900.9 C474.9,894.6 475.5,880.8 476.2,873.8 C476.9,866.8 478.5,853.7 480.3,848.1 C482.1,842.5 486.3,835.5 490,832 C493.7,828.5 505,824.2 508,822 C511,819.8 512.5,818.3 512.6,815.4 C512.7,812.5 509,802.6 508.4,800 C507.8,797.4 506.9,797.1 508.4,795.8 C509.9,794.5 517.4,791.5 520,790 C522.6,788.5 526.9,787.9 528,784.6 Z" stroke="#000" stroke-width="2.24" fill="#fff" stroke-linejoin="round" stroke-linecap="round" />
<path d="M556,739.8 C559.5,740.5 570.5,741.4 577,744 C583.5,746.6 590.4,750.8 595.1,755.2 C599.8,759.6 602.9,766.6 605,770.6 C607.1,774.6 607.2,777.6 607.7,779" stroke="#000" stroke-width="1.7920000000000003" fill="none" stroke-linejoin="round" stroke-linecap="round" />
<path d="M533.6,788.8 C534.1,786.5 533.8,778.1 536.4,774.8 C539,771.5 544.6,770.4 549,769.2 C553.4,768 558.8,767.3 563,767.8 C567.2,768.3 571.2,769.4 574.2,772 C577.2,774.6 580,781.3 581.2,783.2" stroke="#000" stroke-width="1.9040000000000001" fill="none" stroke-linejoin="round" stroke-linecap="round" />
<path d="M508.4,795.8 C510.5,795 523.5,788.4 529.4,787.4 C535.3,786.4 561.7,786.6 567.2,786 C572.7,785.4 580.9,782.5 584,781.8 C587.1,781.1 594.1,779.1 598,779 C601.9,778.9 620.6,780.3 623.1,780.4" stroke="#000" stroke-width="1.9040000000000001" fill="none" stroke-linejoin="round" stroke-linecap="round" />
<path d="M512.6,815.4 L540,806 L560,800 L584,800 L618.9,805.6" stroke="#000" stroke-width="1.7920000000000003" fill="none" stroke-linejoin="round" stroke-linecap="round" />
<path d="M568.6,791.6 L565,788 L572,787" stroke="#000" stroke-width="1.568" fill="none" stroke-linejoin="round" stroke-linecap="round" />
<path d="M540.6,793 L550.4,825.1" stroke="#000" stroke-width="1.568" fill="none" stroke-linejoin="round" stroke-linecap="round" />
<path d="M575.6,793 L585.3,814" stroke="#000" stroke-width="1.568" fill="none" stroke-linejoin="round" stroke-linecap="round" />
<ellipse cx="516.8" cy="805.6" rx="3.8" ry="5" transform="rotate(-30 516.8 805.6)" fill="none" stroke="#000" stroke-width="1.8"/>
<ellipse cx="606.3" cy="798.6" rx="3.8" ry="5" transform="rotate(-30 606.3 798.6)" fill="none" stroke="#000" stroke-width="1.8"/>
<path d="M546.2,828 C548.8,826.6 556.9,820 561.6,819.5 C566.3,819 571.4,821.8 574.2,825.1 C577,828.4 579.6,835.8 578.4,839.1 C577.2,842.4 569.1,843.8 567.2,844.7" stroke="#000" stroke-width="1.6800000000000002" fill="none" stroke-linejoin="round" stroke-linecap="round" />
<path d="M546,828 L560,846" stroke="#000" stroke-width="1.568" fill="none" stroke-linejoin="round" stroke-linecap="round" />
<path d="M582.6,819.5 L589.5,842" stroke="#000" stroke-width="1.7561600000000002" fill="none" stroke-linejoin="round" stroke-linecap="round" />
<path d="M609.1,811.2 C609.6,814 612.8,821.2 611.9,828 C611,834.8 606.8,846.6 603.5,851.7 C600.2,856.8 594.2,857.5 592.3,858.7" stroke="#000" stroke-width="1.7920000000000003" fill="none" stroke-linejoin="round" stroke-linecap="round" />
<path d="M623.1,805.6 C623.6,808.2 626.6,815.4 625.9,821 C625.2,826.6 621.2,834 618.9,839.1 C616.6,844.2 612.6,848.4 611.9,851.7 C611.2,855 614.2,857.5 614.7,858.7" stroke="#000" stroke-width="1.7920000000000003" fill="none" stroke-linejoin="round" stroke-linecap="round" />
<path d="M485.7,845.4 C485.2,849 483.7,858.9 483,867 C482.3,875.1 481.4,886 481.6,894.1 C481.8,902.2 482,910.1 484.3,915.7 C486.6,921.3 492,924.7 495.2,927.9 C498.4,931.1 500.6,931.8 503.3,934.7 C506,937.6 507.3,941.5 511.4,945.5 C515.4,949.5 521.5,955.2 527.6,959 C533.7,962.8 541.1,966.5 547.9,968.5 C554.7,970.5 562.1,971.2 568.2,971.2 C574.3,971.2 581.7,969 584.4,968.5" stroke="#000" stroke-width="1.7920000000000003" fill="none" stroke-linejoin="round" stroke-linecap="round" />
<path d="M480.2,866.2 C481.7,862.7 486.3,848.2 490.3,843.1 C494.3,838 501.7,833.9 507,832 C512.3,830.1 520,829.5 525.5,830.2 C531,830.9 538.4,833.7 543.9,836.6 C549.4,839.5 557,845.2 562.4,849.6 C567.8,854 575,861 580,866.2 C585,871.4 591.8,878.2 596,884 C600.2,889.8 605.3,898.1 608,905 C610.7,911.9 614.3,923 614,930 C613.7,937 608.9,947.2 606,952 C603.1,956.8 596.6,960.5 595,962" stroke="#000" stroke-width="2.0160000000000005" fill="none" stroke-linejoin="round" stroke-linecap="round" />
<path d="M484.8,861.6 C486.7,858.4 493.7,844.2 497.7,840.3 C501.7,836.4 506.7,836.1 511.6,835.7 C516.5,835.3 524.6,836.1 530.1,837.6 C535.6,839.1 543.1,842.6 548.6,845.9 C554.1,849.2 562.3,855.8 567,859.7 C571.7,863.6 576.2,867.6 580,871.8 C583.8,876 588.7,882.3 592,888 C595.3,893.7 599.9,903.4 602,910 C604.1,916.6 606.6,926 606,932 C605.4,938 599.2,947.3 598,950" stroke="#000" stroke-width="1.6800000000000002" fill="none" stroke-linejoin="round" stroke-linecap="round" />
<path d="M497.7,843.1 C499.8,842.5 506.7,839.4 511.6,839.4 C516.5,839.4 525,841.3 530.1,843.1 C535.2,844.9 541,847.9 545.8,851.4 C550.6,854.9 558,861.9 562.4,866.2 C566.8,870.5 571.9,875.3 575.4,880.1 C578.9,884.9 583.5,892 586,898 C588.5,904 591.1,916.7 592,920" stroke="#000" stroke-width="1.6800000000000002" fill="none" stroke-linejoin="round" stroke-linecap="round" />
<path d="M487.6,860.7 L494,856 L509.7,871.8 L500.5,877.3 L487.6,860.7" stroke="#000" stroke-width="1.7920000000000003" fill="none" stroke-linejoin="round" stroke-linecap="round" />
<path d="M486,872 C487.2,870.5 489.8,869.2 492,869 C494.2,868.8 497.7,869.2 499,871 C500.3,872.8 500.5,877.7 500,880 C499.5,882.3 498,884.3 496,885 C494,885.7 489.8,885.2 488,884 C486.2,882.8 485.3,880 485,878 C484.7,876 484.8,873.5 486,872 Z" stroke="#000" stroke-width="1.6800000000000002" fill="none" stroke-linejoin="round" stroke-linecap="round" />
<path d="M493.1,884.7 C495.4,882.9 501.6,875.3 507,873.6 C512.4,871.9 518.6,871.1 525.5,874.5 C532.4,877.9 544.8,890.7 548.6,893.9" stroke="#000" stroke-width="1.4560000000000002" fill="none" stroke-linejoin="round" stroke-linecap="round" />
<path d="M534.7,850.5 L535.6,871.8" stroke="#000" stroke-width="1.7920000000000003" fill="none" stroke-linejoin="round" stroke-linecap="round" />
<path d="M539.3,853.3 L540.2,872.7" stroke="#000" stroke-width="1.568" fill="none" stroke-linejoin="round" stroke-linecap="round" />
<path d="M545.8,858.8 L545.8,871.8 L564.3,895.8" stroke="#000" stroke-width="1.568" fill="none" stroke-linejoin="round" stroke-linecap="round" />
<path d="M511.6,871.8 C513.3,870.7 518.1,866.4 521.8,865.3 C525.5,864.2 531.8,865.3 533.8,865.3" stroke="#000" stroke-width="1.568" fill="none" stroke-linejoin="round" stroke-linecap="round" />
<path d="M493.8,894.1 C494.5,888 497.7,882.4 500.6,879.2 C503.5,876.1 507.3,875.4 511.4,875.2 C515.4,875 519.9,875 524.9,877.9 C529.9,880.8 536.7,886.7 541.2,892.8 C545.7,898.9 549.8,907.4 552,914.4 C554.2,921.4 555.2,929.3 554.7,934.7 C554.2,940.1 552,944.4 549.3,946.9 C546.6,949.4 543,949.8 538.5,949.6 C534,949.4 527.4,948 522.2,945.5 C517,943 511.6,939.7 507.3,934.7 C503,929.7 498.8,922.5 496.5,915.7 C494.2,908.9 493.1,900.2 493.8,894.1 Z" stroke="#000" stroke-width="2.24" fill="#fff" stroke-linejoin="round" stroke-linecap="round" />
<path d="M497.9,899.5 C498.8,894.8 502.2,886.9 506,884.6 C509.8,882.4 515.9,883.5 520.9,886 C525.9,888.5 531.9,894.3 535.7,899.5 C539.5,904.7 542.1,911.2 543.9,917.1 C545.7,923 547.3,930.4 546.6,934.7 C545.9,939 543.4,941.9 539.8,942.8 C536.2,943.7 529.9,942.6 524.9,940.1 C519.9,937.6 514,932.4 510,927.9 C505.9,923.4 502.6,917.7 500.6,913 C498.6,908.3 497,904.2 497.9,899.5 Z" stroke="#000" stroke-width="1.7920000000000003" fill="none" stroke-linejoin="round" stroke-linecap="round" />
<path d="M510,890 C510.3,893.3 510.7,904.2 512,910 C513.3,915.8 515,920.5 518,925 C521,929.5 528,935 530,937" stroke="#000" stroke-width="1.344" fill="none" stroke-linejoin="round" stroke-linecap="round" />
<path d="M522,894 C523.3,895.8 527.5,900.3 530,905 C532.5,909.7 535.2,917 537,922 C538.8,927 540.3,932.8 541,935" stroke="#000" stroke-width="1.344" fill="none" stroke-linejoin="round" stroke-linecap="round" />
<path d="M502,872 C504.2,871 510.3,866.7 515,866 C519.7,865.3 524.5,865.7 530,868 C535.5,870.3 543,875 548,880 C553,885 557,891.3 560,898 C563,904.7 565,913 566,920 C567,927 567,935 566,940 C565,945 561,948.3 560,950" stroke="#000" stroke-width="1.6800000000000002" fill="none" stroke-linejoin="round" stroke-linecap="round" />
<path d="M484,912 C484.5,911 485.5,906.8 487,906 C488.5,905.2 491.8,905.5 493,907 C494.2,908.5 493.8,913.7 494,915" stroke="#000" stroke-width="1.6800000000000002" fill="none" stroke-linejoin="round" stroke-linecap="round" />
<ellipse cx="588.5" cy="894.1" rx="6" ry="8" transform="rotate(-25 588.5 894.1)" fill="none" stroke="#000" stroke-width="1.7"/>
<ellipse cx="583.1" cy="927.9" rx="6.5" ry="8.5" transform="rotate(-25 583.1 927.9)" fill="none" stroke="#000" stroke-width="1.7"/>
<path d="M557.4,903.2 L572.3,898.2" stroke="#000" stroke-width="1.7920000000000003" fill="none" stroke-linejoin="round" stroke-linecap="round" />
<path d="M557.4,906.5 L572.3,901.5" stroke="#000" stroke-width="1.344" fill="none" stroke-linejoin="round" stroke-linecap="round" />
<path d="M562,938 L575,954" stroke="#000" stroke-width="1.6800000000000002" fill="none" stroke-linejoin="round" stroke-linecap="round" />
<path d="M566,935 L580,950" stroke="#000" stroke-width="1.4560000000000002" fill="none" stroke-linejoin="round" stroke-linecap="round" />
<path d="M536,953 C536.7,954.5 536,959.8 540,962 C544,964.2 553.3,966 560,966 C566.7,966 576.7,962.7 580,962" stroke="#000" stroke-width="1.4560000000000002" fill="none" stroke-linejoin="round" stroke-linecap="round" />
<path d="M596,905 C597.3,908.3 603,918.3 604,925 C605,931.7 602.3,941.7 602,945" stroke="#000" stroke-width="1.568" fill="none" stroke-linejoin="round" stroke-linecap="round" />
<path d="M492,877.1 L480,884" stroke="#555" stroke-width="0.8" fill="none" stroke-linejoin="round" stroke-linecap="round" />
<path d="M503,977 L587.7,929.6" stroke="#555" stroke-width="0.8" fill="none" stroke-linejoin="round" stroke-linecap="round" />
<path d="M475,994 L503,977" stroke="#555" stroke-width="0.8" fill="none" stroke-linejoin="round" stroke-linecap="round" />
<path d="M604,809 L653.6,840.2" stroke="#000" stroke-width="0" fill="none" stroke-linejoin="round" stroke-linecap="round" />
<path d="M634,852 L653.6,840.2" stroke="#555" stroke-width="0.8" fill="none" stroke-linejoin="round" stroke-linecap="round" />
<path d="M376.6,1042.1 L376.3,1042.3 L376,1042.6 L375.7,1043 L375.5,1043.4 L375.3,1043.8 L375.1,1044.3 L375.1,1044.8 L375,1045.3 L375,1045.9 L375.1,1046.5 L375.2,1047.1 L375.3,1047.7 L375.5,1048.3 L375.8,1048.9 L376,1049.5 L376.3,1050.1 L376.7,1050.7 L377.1,1051.2 L377.5,1051.7 L377.9,1052.2 L378.4,1052.6 L378.9,1053 L379.3,1053.4 L379.8,1053.7 L380.3,1053.9 L380.8,1054.1 L381.3,1054.2 L381.7,1054.2 L382.2,1054.2 L382.6,1054.2 L383,1054.1 L383.4,1053.9 L474.3,1001.4 L474.7,1001.2 L475,1000.9 L475.2,1000.5 L475.5,1000.1 L475.7,999.7 L475.8,999.2 L475.9,998.7 L475.9,998.2 L475.9,997.6 L475.9,997 L475.8,996.4 L475.6,995.8 L475.4,995.2 L475.2,994.6 L474.9,994 L474.6,993.4 L474.2,992.8 L473.9,992.3 L473.4,991.8 L473,991.3 L472.5,990.9 L472.1,990.5 L471.6,990.1 L471.1,989.8 L470.6,989.6 L470.1,989.4 L469.7,989.3 L469.2,989.3 L468.7,989.3 L468.3,989.3 L467.9,989.4 L467.5,989.6 Z" stroke="none" stroke-width="0.01" fill="#fff" stroke-linejoin="round" stroke-linecap="round" />
<path d="M383.4,1053.9 L383.7,1053.7 L384,1053.4 L384.3,1053 L384.5,1052.6 L384.7,1052.2 L384.9,1051.7 L384.9,1051.2 L385,1050.7 L385,1050.1 L384.9,1049.5 L384.8,1048.9 L384.7,1048.3 L384.5,1047.7 L384.2,1047.1 L384,1046.5 L383.7,1045.9 L383.3,1045.3 L382.9,1044.8 L382.5,1044.3 L382.1,1043.8 L381.6,1043.4 L381.1,1043 L380.7,1042.6 L380.2,1042.3 L379.7,1042.1 L379.2,1041.9 L378.7,1041.8 L378.3,1041.8 L377.8,1041.8 L377.4,1041.8 L377,1041.9 L376.6,1042.1 L376.3,1042.3 L376,1042.6 L375.7,1043 L375.5,1043.4 L375.3,1043.8 L375.1,1044.3 L375.1,1044.8 L375,1045.3 L375,1045.9 L375.1,1046.5 L375.2,1047.1 L375.3,1047.7 L375.5,1048.3 L375.8,1048.9 L376,1049.5 L376.3,1050.1 L376.7,1050.7 L377.1,1051.2 L377.5,1051.7 L377.9,1052.2 L378.4,1052.6 L378.9,1053 L379.3,1053.4 L379.8,1053.7 L380.3,1053.9 L380.8,1054.1 L381.3,1054.2 L381.7,1054.2 L382.2,1054.2 L382.6,1054.2 L383,1054.1 L383.4,1053.9 Z" stroke="#000" stroke-width="2.128" fill="none" stroke-linejoin="round" stroke-linecap="round" />
<path d="M474.3,1001.4 L474.7,1001.2 L475,1000.9 L475.2,1000.5 L475.5,1000.1 L475.7,999.7 L475.8,999.2 L475.9,998.7 L475.9,998.2 L475.9,997.6 L475.9,997 L475.8,996.4 L475.6,995.8 L475.4,995.2 L475.2,994.6 L474.9,994 L474.6,993.4 L474.2,992.8 L473.9,992.3 L473.4,991.8 L473,991.3 L472.5,990.9 L472.1,990.5 L471.6,990.1 L471.1,989.8 L470.6,989.6 L470.1,989.4 L469.7,989.3 L469.2,989.3 L468.7,989.3 L468.3,989.3 L467.9,989.4 L467.5,989.6" stroke="#000" stroke-width="2.128" fill="none" stroke-linejoin="round" stroke-linecap="round" />
<path d="M376.6,1042.1 L467.5,989.6" stroke="#000" stroke-width="2.128" fill="none" stroke-linejoin="round" stroke-linecap="round" />
<path d="M383.4,1053.9 L474.3,1001.4" stroke="#000" stroke-width="2.128" fill="none" stroke-linejoin="round" stroke-linecap="round" />
<path d="M437.1,1022.9 L438.1,1021.9 L438.6,1020.5 L438.6,1018.8 L438.2,1016.8 L437.3,1014.9 L436.1,1013.2 L434.6,1011.8 L433.1,1011 L431.6,1010.7 L430.3,1011.1" stroke="#000" stroke-width="1.1" fill="none" stroke-linejoin="round" stroke-linecap="round" />
<path d="M441.4,1020.4 L442.4,1019.4 L442.9,1018 L443,1016.3 L442.5,1014.3 L441.7,1012.4 L440.4,1010.7 L439,1009.3 L437.4,1008.5 L435.9,1008.2 L434.6,1008.6" stroke="#000" stroke-width="1.1" fill="none" stroke-linejoin="round" stroke-linecap="round" />
<path d="M445.8,1017.9 L446.7,1016.9 L447.3,1015.5 L447.3,1013.8 L446.9,1011.8 L446,1009.9 L444.8,1008.2 L443.3,1006.8 L441.7,1006 L440.2,1005.7 L439,1006.1" stroke="#000" stroke-width="1.1" fill="none" stroke-linejoin="round" stroke-linecap="round" />
<path d="M450.1,1015.4 L451,1014.4 L451.6,1013 L451.6,1011.3 L451.2,1009.3 L450.3,1007.4 L449.1,1005.7 L447.6,1004.3 L446.1,1003.5 L444.6,1003.2 L443.3,1003.6" stroke="#000" stroke-width="1.1" fill="none" stroke-linejoin="round" stroke-linecap="round" />
<path d="M454.4,1012.9 L455.4,1011.9 L455.9,1010.5 L456,1008.8 L455.5,1006.8 L454.7,1004.9 L453.4,1003.2 L452,1001.8 L450.4,1001 L448.9,1000.7 L447.6,1001.1" stroke="#000" stroke-width="1.1" fill="none" stroke-linejoin="round" stroke-linecap="round" />
<path d="M458.7,1010.4 L459.7,1009.4 L460.2,1008 L460.3,1006.3 L459.9,1004.3 L459,1002.4 L457.8,1000.7 L456.3,999.3 L454.7,998.5 L453.2,998.2 L451.9,998.6" stroke="#000" stroke-width="1.1" fill="none" stroke-linejoin="round" stroke-linecap="round" />
<path d="M463.1,1007.9 L464,1006.9 L464.6,1005.5 L464.6,1003.8 L464.2,1001.8 L463.3,999.9 L462.1,998.2 L460.6,996.8 L459.1,996 L457.6,995.7 L456.3,996.1" stroke="#000" stroke-width="1.1" fill="none" stroke-linejoin="round" stroke-linecap="round" />
<path d="M467.4,1005.4 L468.4,1004.4 L468.9,1003 L469,1001.3 L468.5,999.3 L467.7,997.4 L466.4,995.7 L465,994.3 L463.4,993.5 L461.9,993.2 L460.6,993.6" stroke="#000" stroke-width="1.1" fill="none" stroke-linejoin="round" stroke-linecap="round" />
<ellipse cx="378" cy="1047" rx="10.5" ry="15" transform="rotate(-30 378 1047)" fill="#fff" stroke="#000" stroke-width="1.9"/>
<ellipse cx="373" cy="1049" rx="9" ry="13" transform="rotate(-30 373 1049)" fill="#fff" stroke="#000" stroke-width="1.7"/>
<path d="M369,1046 L374,1051 L371,1056" stroke="#000" stroke-width="1.344" fill="none" stroke-linejoin="round" stroke-linecap="round" />
</svg></body></html>
